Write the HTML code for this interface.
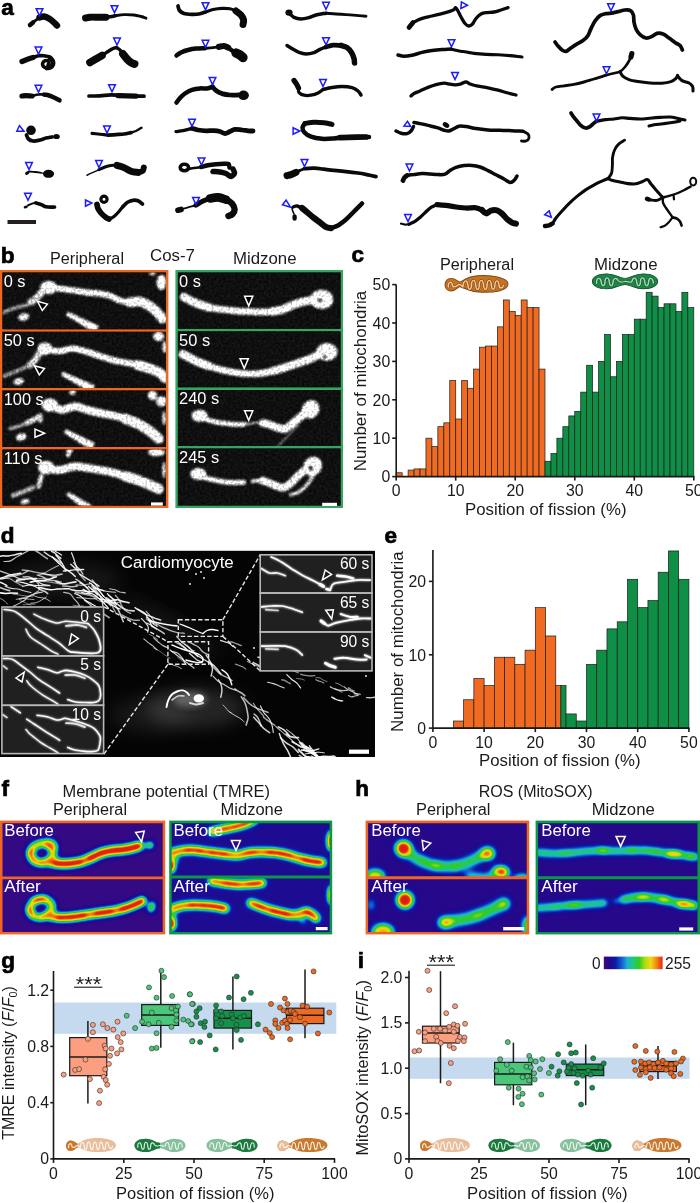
<!DOCTYPE html>
<html lang="en"><head><meta charset="utf-8"><title>Mitochondrial fission positions</title>
<style>
html,body{margin:0;padding:0;background:#fff;}
body{width:700px;height:1203px;overflow:hidden;font-family:"Liberation Sans",Arial,Helvetica,sans-serif;}
svg{display:block;}
svg text{font-family:"Liberation Sans",Arial,Helvetica,sans-serif;}
</style></head><body>
<svg width="700" height="1203" viewBox="0 0 700 1203">
<rect width="700" height="1203" fill="#fff"/>

<g id="panel-a">
<text x="1.2" y="14.5" font-size="22.5" text-anchor="start" fill="#000" font-weight="bold" stroke="#000" stroke-width="0.7">a</text>
<path d="M29.5,25.0 C30.2,24.4 32.3,22.8 34.0,21.5 C35.7,20.2 38.6,18.2 39.5,17.5" fill="none" stroke="#0a0a0a" stroke-width="2.86" stroke-linecap="round" stroke-linejoin="round" />
<path d="M39.5,17.5 C40.2,17.3 42.4,16.3 44.0,16.5 C45.6,16.7 47.3,17.5 49.0,18.5 C50.7,19.5 52.7,21.3 54.0,22.5 C55.3,23.7 56.5,25.0 57.0,25.5" fill="none" stroke="#0a0a0a" stroke-width="6.44" stroke-linecap="round" stroke-linejoin="round" />
<path d="M30.0,25.0 L33.0,22.5" fill="none" stroke="#0a0a0a" stroke-width="4.52" stroke-linecap="round" stroke-linejoin="round" />
<polygon points="-3.35,-3.55 3.35,-3.55 0,3.55" transform="translate(39.5,12.2) rotate(0)" fill="none" stroke="#1a1aff" stroke-width="1.5" stroke-linejoin="miter"/>
<path d="M22.0,61.5 C22.8,61.2 25.2,60.2 27.0,59.5 C28.8,58.8 32.0,57.8 33.0,57.5" fill="none" stroke="#0a0a0a" stroke-width="5.24" stroke-linecap="round" stroke-linejoin="round" />
<path d="M33.0,57.5 C33.9,57.2 36.7,56.1 38.5,55.8 C40.3,55.5 42.2,55.6 44.0,55.8 C45.8,56.0 48.0,56.0 49.5,56.8 C51.0,57.6 52.5,59.0 53.0,60.5 C53.5,62.0 53.3,64.2 52.5,65.5 C51.7,66.8 49.5,67.8 48.0,68.0 C46.5,68.2 44.3,67.4 43.5,66.5 C42.7,65.6 42.5,63.5 43.0,62.5 C43.5,61.5 45.5,60.5 46.5,60.5 C47.5,60.5 48.8,61.8 49.0,62.5 C49.2,63.2 48.2,64.6 48.0,65.0" fill="none" stroke="#0a0a0a" stroke-width="3.52" stroke-linecap="round" stroke-linejoin="round" />
<path d="M50.0,58.0 C50.5,58.7 52.8,60.6 53.0,62.0 C53.2,63.4 52.5,65.5 51.5,66.5 C50.5,67.5 47.8,67.8 47.0,68.0" fill="none" stroke="#0a0a0a" stroke-width="4.76" stroke-linecap="round" stroke-linejoin="round" />
<polygon points="-3.35,-3.55 3.35,-3.55 0,3.55" transform="translate(38.5,50.5) rotate(0)" fill="none" stroke="#1a1aff" stroke-width="1.5" stroke-linejoin="miter"/>
<path d="M22.0,96.0 C22.7,96.0 24.3,95.7 26.0,95.7 C27.7,95.7 31.0,96.0 32.0,96.0" fill="none" stroke="#0a0a0a" stroke-width="5.24" stroke-linecap="round" stroke-linejoin="round" />
<path d="M32.0,96.0 C33.1,95.8 36.5,94.7 38.5,94.5 C40.5,94.3 43.1,94.6 44.0,94.6" fill="none" stroke="#0a0a0a" stroke-width="2.64" stroke-linecap="round" stroke-linejoin="round" />
<path d="M44.0,94.6 C44.8,94.8 47.3,95.0 49.0,95.5 C50.7,96.0 52.2,96.7 54.0,97.5 C55.8,98.3 58.6,99.8 59.5,100.3" fill="none" stroke="#0a0a0a" stroke-width="4.52" stroke-linecap="round" stroke-linejoin="round" />
<polygon points="-3.35,-3.55 3.35,-3.55 0,3.55" transform="translate(38.5,88.8) rotate(0)" fill="none" stroke="#1a1aff" stroke-width="1.5" stroke-linejoin="miter"/>
<circle cx="31" cy="130.3" r="4.8" fill="#0a0a0a"/>
<path d="M26.5,135.0 C26.8,135.7 27.4,138.0 28.5,139.0 C29.6,140.0 31.1,140.8 33.0,141.0 C34.9,141.2 37.8,140.5 40.0,140.0 C42.2,139.5 44.0,138.5 46.0,138.0 C48.0,137.5 51.0,137.2 52.0,137.0" fill="none" stroke="#0a0a0a" stroke-width="3.74" stroke-linecap="round" stroke-linejoin="round" />
<ellipse cx="56.5" cy="136.5" rx="3.3" ry="2.6" fill="#0a0a0a"/>
<polygon points="16.8,131.2 19.4,125.6 24.0,131.3" fill="none" stroke="#1a1aff" stroke-width="1.5"/>
<path d="M26.5,173.5 L28.0,172.5" fill="none" stroke="#0a0a0a" stroke-width="2.86" stroke-linecap="round" stroke-linejoin="round" />
<path d="M29.0,171.5 C30.0,171.6 32.8,171.8 35.0,172.0 C37.2,172.2 40.8,172.8 42.0,173.0" fill="none" stroke="#0a0a0a" stroke-width="1.76" stroke-linecap="round" stroke-linejoin="round" />
<ellipse cx="48.5" cy="173.8" rx="5.6" ry="4" fill="#0a0a0a"/>
<polygon points="-3.35,-3.55 3.35,-3.55 0,3.55" transform="translate(29.0,166.0) rotate(0)" fill="none" stroke="#1a1aff" stroke-width="1.5" stroke-linejoin="miter"/>
<path d="M25.0,207.2 L26.5,206.8" fill="none" stroke="#0a0a0a" stroke-width="2.64" stroke-linecap="round" stroke-linejoin="round" />
<path d="M28.0,205.5 C28.7,205.2 30.7,204.0 32.0,203.6 C33.3,203.2 35.3,203.1 36.0,203.0" fill="none" stroke="#0a0a0a" stroke-width="1.98" stroke-linecap="round" stroke-linejoin="round" />
<path d="M36.0,203.0 C36.8,203.2 39.3,203.9 41.0,204.5 C42.7,205.1 44.3,206.4 46.0,206.8 C47.7,207.2 49.6,207.2 51.0,207.2 C52.4,207.2 53.9,207.0 54.5,207.0" fill="none" stroke="#0a0a0a" stroke-width="3.74" stroke-linecap="round" stroke-linejoin="round" />
<polygon points="-3.35,-3.55 3.35,-3.55 0,3.55" transform="translate(28.0,196.8) rotate(0)" fill="none" stroke="#1a1aff" stroke-width="1.5" stroke-linejoin="miter"/>
<path d="M85.5,18.0 C86.2,17.9 87.9,17.3 90.0,17.2 C92.1,17.1 95.3,17.2 98.0,17.2 C100.7,17.2 104.7,17.2 106.0,17.2" fill="none" stroke="#0a0a0a" stroke-width="6.92" stroke-linecap="round" stroke-linejoin="round" />
<path d="M104.0,17.3 C105.0,17.2 108.2,17.1 110.0,16.8 C111.8,16.6 114.2,16.0 115.0,15.8" fill="none" stroke="#0a0a0a" stroke-width="3.52" stroke-linecap="round" stroke-linejoin="round" />
<path d="M115.0,15.8 C116.5,15.6 120.8,14.7 124.0,14.6 C127.2,14.5 131.2,14.7 134.0,15.0 C136.8,15.3 139.0,16.0 141.0,16.5 C143.0,17.0 145.2,17.9 146.0,18.2" fill="none" stroke="#0a0a0a" stroke-width="2.86" stroke-linecap="round" stroke-linejoin="round" />
<polygon points="-3.35,-3.55 3.35,-3.55 0,3.55" transform="translate(114.5,9.2) rotate(0)" fill="none" stroke="#1a1aff" stroke-width="1.5" stroke-linejoin="miter"/>
<path d="M90.0,62.5 C90.8,62.0 93.0,60.7 95.0,59.5 C97.0,58.3 100.8,56.2 102.0,55.5" fill="none" stroke="#0a0a0a" stroke-width="7.64" stroke-linecap="round" stroke-linejoin="round" />
<path d="M102.0,55.5 C103.0,54.8 106.2,52.7 108.0,51.5 C109.8,50.3 111.6,49.2 113.0,48.5 C114.4,47.8 115.9,47.7 116.5,47.5" fill="none" stroke="#0a0a0a" stroke-width="3.52" stroke-linecap="round" stroke-linejoin="round" />
<path d="M116.5,47.5 C117.1,47.9 118.9,48.9 120.0,50.0 C121.1,51.1 122.5,53.3 123.0,54.0" fill="none" stroke="#0a0a0a" stroke-width="3.3" stroke-linecap="round" stroke-linejoin="round" />
<path d="M123.0,54.0 C123.7,54.8 125.7,57.6 127.0,59.0 C128.3,60.4 129.8,61.7 131.0,62.5 C132.2,63.3 133.9,63.8 134.5,64.0" fill="none" stroke="#0a0a0a" stroke-width="7.88" stroke-linecap="round" stroke-linejoin="round" />
<polygon points="-3.35,-3.55 3.35,-3.55 0,3.55" transform="translate(117.0,41.5) rotate(0)" fill="none" stroke="#1a1aff" stroke-width="1.5" stroke-linejoin="miter"/>
<path d="M89.0,96.0 C90.8,96.0 96.3,96.0 100.0,95.8 C103.7,95.6 107.3,94.8 111.0,94.8 C114.7,94.8 118.2,95.4 122.0,95.6 C125.8,95.8 130.3,96.1 134.0,96.2 C137.7,96.3 142.3,96.2 144.0,96.2" fill="none" stroke="#0a0a0a" stroke-width="3.74" stroke-linecap="round" stroke-linejoin="round" />
<path d="M118.0,95.6 L136.0,96.2" fill="none" stroke="#0a0a0a" stroke-width="5.24" stroke-linecap="round" stroke-linejoin="round" />
<polygon points="-3.35,-3.55 3.35,-3.55 0,3.55" transform="translate(112.0,88.3) rotate(0)" fill="none" stroke="#1a1aff" stroke-width="1.5" stroke-linejoin="miter"/>
<path d="M92.0,133.4 C93.0,133.5 96.0,133.8 98.0,134.0 C100.0,134.2 102.3,134.4 104.0,134.6 C105.7,134.8 107.3,135.1 108.0,135.2" fill="none" stroke="#0a0a0a" stroke-width="3.08" stroke-linecap="round" stroke-linejoin="round" />
<path d="M108.0,135.2 C109.3,135.1 113.3,134.8 116.0,134.6 C118.7,134.4 121.5,134.3 124.0,134.0 C126.5,133.7 129.8,132.8 131.0,132.6" fill="none" stroke="#0a0a0a" stroke-width="3.74" stroke-linecap="round" stroke-linejoin="round" />
<path d="M131.0,132.6 C131.8,132.3 134.2,131.8 136.0,131.0 C137.8,130.2 140.6,128.3 141.5,127.8" fill="none" stroke="#0a0a0a" stroke-width="2.42" stroke-linecap="round" stroke-linejoin="round" />
<polygon points="-3.35,-3.55 3.35,-3.55 0,3.55" transform="translate(107.0,129.5) rotate(0)" fill="none" stroke="#1a1aff" stroke-width="1.5" stroke-linejoin="miter"/>
<path d="M87.0,175.2 C88.0,174.7 91.0,173.3 93.0,172.4 C95.0,171.5 98.0,170.1 99.0,169.6" fill="none" stroke="#0a0a0a" stroke-width="1.54" stroke-linecap="round" stroke-linejoin="round" />
<path d="M99.0,169.6 C100.0,169.2 103.0,167.7 105.0,167.0 C107.0,166.3 109.0,165.7 111.0,165.4 C113.0,165.1 116.0,165.4 117.0,165.4" fill="none" stroke="#0a0a0a" stroke-width="3.08" stroke-linecap="round" stroke-linejoin="round" />
<path d="M117.0,165.4 C118.2,165.8 121.7,166.6 124.0,167.6 C126.3,168.6 128.7,170.4 131.0,171.2 C133.3,172.0 136.8,172.2 138.0,172.4" fill="none" stroke="#0a0a0a" stroke-width="6.92" stroke-linecap="round" stroke-linejoin="round" />
<path d="M138.0,172.4 C138.8,172.2 141.5,171.8 142.5,171.0 C143.5,170.2 143.6,168.1 143.8,167.5" fill="none" stroke="#0a0a0a" stroke-width="5.96" stroke-linecap="round" stroke-linejoin="round" />
<polygon points="-3.35,-3.55 3.35,-3.55 0,3.55" transform="translate(99.0,164.0) rotate(0)" fill="none" stroke="#1a1aff" stroke-width="1.5" stroke-linejoin="miter"/>
<circle cx="104" cy="199.3" r="3.1" fill="none" stroke="#0a0a0a" stroke-width="3.2"/>
<path d="M97.0,204.5 C97.2,205.2 97.3,207.1 98.0,208.5 C98.7,209.9 99.7,211.5 101.0,213.0 C102.3,214.5 104.7,216.5 106.0,217.5 C107.3,218.5 108.5,218.8 109.0,219.0" fill="none" stroke="#0a0a0a" stroke-width="5.72" stroke-linecap="round" stroke-linejoin="round" />
<path d="M109.0,219.0 C109.8,218.6 112.3,217.8 114.0,216.5 C115.7,215.2 117.5,213.2 119.0,211.5 C120.5,209.8 122.3,207.3 123.0,206.5" fill="none" stroke="#0a0a0a" stroke-width="3.3" stroke-linecap="round" stroke-linejoin="round" />
<path d="M123.0,206.5 C123.8,205.8 126.3,203.0 128.0,202.0 C129.7,201.0 131.3,200.5 133.0,200.3 C134.7,200.1 136.4,200.2 138.0,200.8 C139.6,201.4 141.8,203.5 142.5,204.0" fill="none" stroke="#0a0a0a" stroke-width="3.74" stroke-linecap="round" stroke-linejoin="round" />
<polygon points="85.5,200.0 85.5,206.2 91.9,203.0" fill="none" stroke="#1a1aff" stroke-width="1.5"/>
<rect x="7.5" y="220" width="28.5" height="4" fill="#231f20"/>
<path d="M178.0,6.0 C178.2,6.8 178.5,9.2 179.5,10.5 C180.5,11.8 181.9,12.8 184.0,13.5 C186.1,14.2 189.5,14.3 192.0,14.4 C194.5,14.5 196.8,14.4 199.0,14.0 C201.2,13.6 204.4,12.3 205.5,12.0" fill="none" stroke="#0a0a0a" stroke-width="3.74" stroke-linecap="round" stroke-linejoin="round" />
<path d="M205.5,12.0 C206.8,11.6 210.2,10.2 213.0,9.6 C215.8,9.0 219.2,8.5 222.0,8.4 C224.8,8.3 227.7,8.4 230.0,8.8 C232.3,9.2 235.0,10.6 236.0,11.0" fill="none" stroke="#0a0a0a" stroke-width="3.08" stroke-linecap="round" stroke-linejoin="round" />
<path d="M236.0,11.0 C236.8,11.7 239.7,13.5 241.0,15.0 C242.3,16.5 243.3,18.4 243.6,20.0 C243.9,21.6 243.1,23.8 243.0,24.5" fill="none" stroke="#0a0a0a" stroke-width="6.92" stroke-linecap="round" stroke-linejoin="round" />
<polygon points="-3.35,-3.55 3.35,-3.55 0,3.55" transform="translate(205.5,6.2) rotate(0)" fill="none" stroke="#1a1aff" stroke-width="1.5" stroke-linejoin="miter"/>
<path d="M176.5,55.5 C177.2,55.0 179.1,53.4 181.0,52.5 C182.9,51.6 185.5,50.6 188.0,50.0 C190.5,49.4 193.2,48.9 196.0,48.6 C198.8,48.3 203.5,48.3 205.0,48.2" fill="none" stroke="#0a0a0a" stroke-width="4.52" stroke-linecap="round" stroke-linejoin="round" />
<path d="M205.0,48.2 C206.3,48.1 210.7,47.8 213.0,47.6 C215.3,47.4 218.0,46.9 219.0,46.8" fill="none" stroke="#0a0a0a" stroke-width="2.86" stroke-linecap="round" stroke-linejoin="round" />
<path d="M219.0,46.8 C219.8,46.7 222.5,45.9 224.0,46.0 C225.5,46.1 227.3,47.2 228.0,47.5" fill="none" stroke="#0a0a0a" stroke-width="6.2" stroke-linecap="round" stroke-linejoin="round" />
<path d="M228.0,47.5 C228.7,48.0 230.7,49.6 232.0,50.5 C233.3,51.4 235.3,52.6 236.0,53.0" fill="none" stroke="#0a0a0a" stroke-width="4.52" stroke-linecap="round" stroke-linejoin="round" />
<path d="M236.0,53.0 C236.7,53.3 238.8,54.2 240.0,55.0 C241.2,55.8 242.5,57.1 243.0,57.5" fill="none" stroke="#0a0a0a" stroke-width="9.32" stroke-linecap="round" stroke-linejoin="round" />
<polygon points="-3.35,-3.55 3.35,-3.55 0,3.55" transform="translate(205.5,43.8) rotate(0)" fill="none" stroke="#1a1aff" stroke-width="1.5" stroke-linejoin="miter"/>
<path d="M176.5,102.5 C177.1,101.8 178.6,99.5 180.0,98.0 C181.4,96.5 183.0,94.9 185.0,93.5 C187.0,92.1 189.5,90.6 192.0,89.8 C194.5,89.0 197.5,88.6 200.0,88.4 C202.5,88.2 204.9,88.7 207.0,88.4 C209.1,88.1 211.6,87.1 212.5,86.8" fill="none" stroke="#0a0a0a" stroke-width="4.52" stroke-linecap="round" stroke-linejoin="round" />
<path d="M212.5,86.8 C213.1,87.4 214.4,89.4 216.0,90.5 C217.6,91.6 219.7,92.8 222.0,93.6 C224.3,94.3 227.3,94.8 230.0,95.0 C232.7,95.2 236.7,95.0 238.0,95.0" fill="none" stroke="#0a0a0a" stroke-width="4.76" stroke-linecap="round" stroke-linejoin="round" />
<ellipse cx="243.5" cy="95.3" rx="5.4" ry="4.8" fill="#0a0a0a"/>
<polygon points="-3.35,-3.55 3.35,-3.55 0,3.55" transform="translate(212.5,81.0) rotate(0)" fill="none" stroke="#1a1aff" stroke-width="1.5" stroke-linejoin="miter"/>
<path d="M176.0,131.6 C177.2,131.4 181.0,131.0 183.0,130.6 C185.0,130.2 186.5,129.8 188.0,129.4 C189.5,129.0 191.3,128.6 192.0,128.4" fill="none" stroke="#0a0a0a" stroke-width="3.3" stroke-linecap="round" stroke-linejoin="round" />
<path d="M192.0,128.4 C193.0,128.7 195.7,129.6 198.0,130.0 C200.3,130.4 203.3,130.7 206.0,130.8 C208.7,130.9 211.7,130.5 214.0,130.6 C216.3,130.7 218.2,131.0 220.0,131.5 C221.8,132.0 223.3,133.5 225.0,133.5 C226.7,133.5 228.3,132.2 230.0,131.5 C231.7,130.8 233.0,129.7 235.0,129.4 C237.0,129.2 239.8,129.8 242.0,130.0 C244.2,130.2 246.2,130.6 248.0,130.8 C249.8,131.0 252.2,131.0 253.0,131.0" fill="none" stroke="#0a0a0a" stroke-width="4.76" stroke-linecap="round" stroke-linejoin="round" />
<polygon points="-3.35,-3.55 3.35,-3.55 0,3.55" transform="translate(192.0,122.8) rotate(0)" fill="none" stroke="#1a1aff" stroke-width="1.5" stroke-linejoin="miter"/>
<ellipse cx="184.4" cy="167.5" rx="4.2" ry="3.2" fill="none" stroke="#0a0a0a" stroke-width="3.6"/>
<path d="M188.0,168.8 C189.0,168.7 191.8,168.3 194.0,168.0 C196.2,167.7 199.8,167.2 201.0,167.0" fill="none" stroke="#0a0a0a" stroke-width="2.64" stroke-linecap="round" stroke-linejoin="round" />
<path d="M201.0,167.0 C202.2,166.7 205.5,165.7 208.0,165.2 C210.5,164.7 213.3,164.4 216.0,164.2 C218.7,164.0 221.9,163.8 224.0,163.8 C226.1,163.8 227.6,163.4 228.5,164.0 C229.4,164.6 229.3,166.9 229.5,167.5" fill="none" stroke="#0a0a0a" stroke-width="4.52" stroke-linecap="round" stroke-linejoin="round" />
<path d="M213.0,171.5 C214.2,171.6 217.8,171.7 220.0,172.0 C222.2,172.3 224.2,172.8 226.0,173.5 C227.8,174.2 229.6,176.6 231.0,176.5 C232.4,176.4 234.2,174.2 234.5,173.0 C234.8,171.8 233.2,169.7 233.0,169.0" fill="none" stroke="#0a0a0a" stroke-width="5.48" stroke-linecap="round" stroke-linejoin="round" />
<polygon points="-3.35,-3.55 3.35,-3.55 0,3.55" transform="translate(201.5,161.5) rotate(0)" fill="none" stroke="#1a1aff" stroke-width="1.5" stroke-linejoin="miter"/>
<path d="M178.0,210.2 L181.0,209.4" fill="none" stroke="#0a0a0a" stroke-width="5.72" stroke-linecap="round" stroke-linejoin="round" />
<path d="M181.0,209.4 C182.2,209.1 185.5,208.1 188.0,207.4 C190.5,206.7 194.7,205.6 196.0,205.2" fill="none" stroke="#0a0a0a" stroke-width="1.98" stroke-linecap="round" stroke-linejoin="round" />
<path d="M196.0,205.2 C197.2,204.5 200.7,202.1 203.0,201.0 C205.3,199.9 208.8,198.8 210.0,198.4" fill="none" stroke="#0a0a0a" stroke-width="5.0" stroke-linecap="round" stroke-linejoin="round" />
<path d="M210.0,198.4 C211.3,198.2 215.3,197.2 218.0,197.4 C220.7,197.6 224.7,199.2 226.0,199.6" fill="none" stroke="#0a0a0a" stroke-width="8.6" stroke-linecap="round" stroke-linejoin="round" />
<path d="M226.0,199.6 C227.0,200.2 230.6,201.8 232.0,203.5 C233.4,205.2 234.5,207.8 234.6,209.5 C234.7,211.2 233.5,212.9 232.5,214.0 C231.5,215.1 229.2,215.7 228.5,216.0" fill="none" stroke="#0a0a0a" stroke-width="6.44" stroke-linecap="round" stroke-linejoin="round" />
<polygon points="-3.35,-3.55 3.35,-3.55 0,3.55" transform="translate(196.0,201.0) rotate(0)" fill="none" stroke="#1a1aff" stroke-width="1.5" stroke-linejoin="miter"/>
<ellipse cx="289" cy="12.6" rx="3.6" ry="3.2" fill="#0a0a0a"/>
<path d="M289.0,13.0 C289.8,13.7 292.0,16.4 294.0,17.4 C296.0,18.4 298.5,19.0 301.0,19.0 C303.5,19.0 306.3,18.3 309.0,17.6 C311.7,16.9 314.2,15.5 317.0,14.8 C319.8,14.1 324.5,13.5 326.0,13.2" fill="none" stroke="#0a0a0a" stroke-width="3.52" stroke-linecap="round" stroke-linejoin="round" />
<path d="M326.0,13.2 C327.7,13.3 332.7,13.8 336.0,14.0 C339.3,14.2 342.7,14.4 346.0,14.6 C349.3,14.8 352.7,15.1 356.0,15.4 C359.3,15.7 364.3,16.1 366.0,16.2" fill="none" stroke="#0a0a0a" stroke-width="2.86" stroke-linecap="round" stroke-linejoin="round" />
<polygon points="-3.35,-3.55 3.35,-3.55 0,3.55" transform="translate(326.0,5.8) rotate(0)" fill="none" stroke="#1a1aff" stroke-width="1.5" stroke-linejoin="miter"/>
<path d="M287.0,45.5 C287.8,46.0 290.0,47.5 292.0,48.6 C294.0,49.8 296.7,51.5 299.0,52.4 C301.3,53.3 303.5,54.0 306.0,54.0 C308.5,54.0 311.7,53.4 314.0,52.6 C316.3,51.8 318.0,50.3 320.0,49.4 C322.0,48.5 325.0,47.4 326.0,47.0" fill="none" stroke="#0a0a0a" stroke-width="3.52" stroke-linecap="round" stroke-linejoin="round" />
<path d="M326.0,47.0 C327.2,46.7 330.5,45.5 333.0,45.2 C335.5,44.9 339.7,45.4 341.0,45.4" fill="none" stroke="#0a0a0a" stroke-width="4.76" stroke-linecap="round" stroke-linejoin="round" />
<path d="M341.0,45.4 C342.0,45.8 345.2,46.3 347.0,47.5 C348.8,48.7 350.3,50.7 351.5,52.5 C352.7,54.3 353.5,56.8 354.0,58.5 C354.5,60.2 354.4,62.2 354.5,63.0" fill="none" stroke="#0a0a0a" stroke-width="5.48" stroke-linecap="round" stroke-linejoin="round" />
<polygon points="-3.35,-3.55 3.35,-3.55 0,3.55" transform="translate(326.0,41.3) rotate(0)" fill="none" stroke="#1a1aff" stroke-width="1.5" stroke-linejoin="miter"/>
<path d="M294.0,80.5 C294.4,81.1 295.8,82.8 296.5,84.0 C297.2,85.2 298.2,87.3 298.5,88.0" fill="none" stroke="#0a0a0a" stroke-width="5.24" stroke-linecap="round" stroke-linejoin="round" />
<path d="M298.5,88.0 C298.6,88.8 298.1,91.3 299.0,92.5 C299.9,93.7 302.0,94.8 304.0,95.2 C306.0,95.7 308.7,95.6 311.0,95.2 C313.3,94.8 316.0,94.0 318.0,93.0 C320.0,92.0 322.2,90.1 323.0,89.5" fill="none" stroke="#0a0a0a" stroke-width="3.3" stroke-linecap="round" stroke-linejoin="round" />
<path d="M323.0,89.5 C324.5,89.2 328.8,88.1 332.0,87.6 C335.2,87.1 338.7,86.6 342.0,86.6 C345.3,86.6 349.3,86.9 352.0,87.6 C354.7,88.3 356.5,89.8 358.0,91.0 C359.5,92.2 360.5,94.3 361.0,95.0" fill="none" stroke="#0a0a0a" stroke-width="3.52" stroke-linecap="round" stroke-linejoin="round" />
<polygon points="-3.35,-3.55 3.35,-3.55 0,3.55" transform="translate(323.0,83.0) rotate(0)" fill="none" stroke="#1a1aff" stroke-width="1.5" stroke-linejoin="miter"/>
<path d="M305.0,123.4 C306.5,123.2 310.8,122.3 314.0,122.2 C317.2,122.1 321.0,122.4 324.0,122.8 C327.0,123.2 330.7,124.1 332.0,124.4" fill="none" stroke="#0a0a0a" stroke-width="5.0" stroke-linecap="round" stroke-linejoin="round" />
<path d="M305.0,123.4 C304.6,124.1 302.6,126.0 302.5,127.5 C302.4,129.0 303.1,131.0 304.5,132.5 C305.9,134.0 308.1,135.5 311.0,136.6 C313.9,137.7 318.2,138.5 322.0,138.8 C325.8,139.1 330.0,138.7 334.0,138.4 C338.0,138.1 342.0,137.5 346.0,137.2 C350.0,136.9 354.2,136.8 358.0,136.8 C361.8,136.8 367.2,137.0 369.0,137.0" fill="none" stroke="#0a0a0a" stroke-width="4.52" stroke-linecap="round" stroke-linejoin="round" />
<path d="M340.0,137.6 L366.0,137.0" fill="none" stroke="#0a0a0a" stroke-width="5.72" stroke-linecap="round" stroke-linejoin="round" />
<polygon points="293.1,127.8 293.1,134.2 299.8,131.0" fill="none" stroke="#1a1aff" stroke-width="1.5"/>
<path d="M287.0,175.6 C287.7,175.4 289.5,175.1 291.0,174.6 C292.5,174.1 295.2,172.8 296.0,172.4" fill="none" stroke="#0a0a0a" stroke-width="6.92" stroke-linecap="round" stroke-linejoin="round" />
<path d="M296.0,172.4 C296.7,172.1 298.6,171.0 300.0,170.4 C301.4,169.8 303.8,168.9 304.5,168.6" fill="none" stroke="#0a0a0a" stroke-width="2.86" stroke-linecap="round" stroke-linejoin="round" />
<path d="M304.5,168.6 C306.1,168.5 310.8,168.1 314.0,168.2 C317.2,168.3 320.7,168.8 324.0,169.2 C327.3,169.6 330.3,170.0 334.0,170.4 C337.7,170.8 342.0,171.2 346.0,171.6 C350.0,172.0 354.3,172.5 358.0,173.0 C361.7,173.5 365.0,174.2 368.0,174.8 C371.0,175.4 374.7,176.3 376.0,176.6" fill="none" stroke="#0a0a0a" stroke-width="3.74" stroke-linecap="round" stroke-linejoin="round" />
<polygon points="-3.35,-3.55 3.35,-3.55 0,3.55" transform="translate(304.5,163.0) rotate(0)" fill="none" stroke="#1a1aff" stroke-width="1.5" stroke-linejoin="miter"/>
<ellipse cx="294.6" cy="217.5" rx="2.2" ry="3.2" fill="#0a0a0a"/>
<path d="M294.0,214.0 C293.8,213.4 292.8,211.6 292.5,210.5 C292.2,209.4 292.1,208.0 292.0,207.5" fill="none" stroke="#0a0a0a" stroke-width="1.54" stroke-linecap="round" stroke-linejoin="round" />
<path d="M293.0,207.0 C293.7,206.8 295.5,205.8 297.0,206.0 C298.5,206.2 301.2,207.7 302.0,208.0" fill="none" stroke="#0a0a0a" stroke-width="3.3" stroke-linecap="round" stroke-linejoin="round" />
<path d="M302.0,208.0 C303.0,208.8 306.0,211.3 308.0,213.0 C310.0,214.7 312.0,216.4 314.0,218.0 C316.0,219.6 318.0,221.0 320.0,222.5 C322.0,224.0 324.2,226.1 326.0,227.0 C327.8,227.9 330.2,228.0 331.0,228.2" fill="none" stroke="#0a0a0a" stroke-width="6.2" stroke-linecap="round" stroke-linejoin="round" />
<path d="M331.0,228.2 C332.2,227.8 335.5,226.9 338.0,225.5 C340.5,224.1 343.3,221.8 346.0,219.5 C348.7,217.2 351.3,214.2 354.0,211.5 C356.7,208.8 360.7,204.8 362.0,203.5" fill="none" stroke="#0a0a0a" stroke-width="4.52" stroke-linecap="round" stroke-linejoin="round" />
<polygon points="282.6,204.8 286.1,200.0 290.5,207.2" fill="none" stroke="#1a1aff" stroke-width="1.5"/>
<path d="M409.0,27.5 C409.5,26.8 410.5,24.8 412.0,23.5 C413.5,22.2 416.0,20.9 418.0,20.0 C420.0,19.1 421.7,18.5 424.0,17.8 C426.3,17.1 429.2,16.7 432.0,16.0 C434.8,15.3 438.2,14.5 441.0,13.8 C443.8,13.1 446.8,12.3 449.0,11.6 C451.2,10.9 452.9,10.3 454.0,9.6 C455.1,8.9 454.8,7.4 455.5,7.6 C456.2,7.8 457.1,9.4 458.0,11.0 C458.9,12.6 459.8,14.9 461.0,17.0 C462.2,19.1 463.7,22.0 465.0,23.5 C466.3,25.0 467.8,25.9 469.0,26.0 C470.2,26.1 471.3,25.2 472.5,24.0 C473.7,22.8 474.6,20.2 476.0,18.5 C477.4,16.8 479.2,15.0 481.0,14.0 C482.8,13.0 484.8,12.9 487.0,12.6 C489.2,12.3 491.7,12.4 494.0,12.0 C496.3,11.6 498.7,10.7 501.0,10.0 C503.3,9.3 506.8,8.0 508.0,7.6" fill="none" stroke="#0a0a0a" stroke-width="3.3" stroke-linecap="round" stroke-linejoin="round" />
<path d="M409.0,27.5 L413.0,22.5" fill="none" stroke="#0a0a0a" stroke-width="4.76" stroke-linecap="round" stroke-linejoin="round" />
<polygon points="461.4,1.9 460.9,8.4 467.5,5.3" fill="none" stroke="#1a1aff" stroke-width="1.5"/>
<path d="M398.0,55.0 C399.0,55.2 401.7,56.2 404.0,56.2 C406.3,56.2 409.0,55.8 412.0,55.2 C415.0,54.6 418.7,53.2 422.0,52.4 C425.3,51.6 428.7,50.9 432.0,50.4 C435.3,49.9 438.8,49.6 442.0,49.4 C445.2,49.2 449.5,49.1 451.0,49.0" fill="none" stroke="#0a0a0a" stroke-width="3.52" stroke-linecap="round" stroke-linejoin="round" />
<path d="M451.0,49.0 C452.8,49.4 458.2,50.7 462.0,51.4 C465.8,52.1 470.0,52.9 474.0,53.4 C478.0,53.9 482.0,54.2 486.0,54.4 C490.0,54.6 494.0,54.6 498.0,54.8 C502.0,55.0 506.0,55.2 510.0,55.6 C514.0,56.0 520.0,56.8 522.0,57.0" fill="none" stroke="#0a0a0a" stroke-width="3.08" stroke-linecap="round" stroke-linejoin="round" />
<polygon points="-3.35,-3.55 3.35,-3.55 0,3.55" transform="translate(451.5,43.3) rotate(0)" fill="none" stroke="#1a1aff" stroke-width="1.5" stroke-linejoin="miter"/>
<path d="M411.0,96.0 C411.5,95.6 412.5,94.3 414.0,93.5 C415.5,92.7 417.7,92.0 420.0,91.0 C422.3,90.0 425.3,88.5 428.0,87.4 C430.7,86.3 433.3,85.3 436.0,84.6 C438.7,83.9 441.7,83.3 444.0,83.2 C446.3,83.1 448.2,83.9 450.0,84.2 C451.8,84.5 453.2,84.9 455.0,84.8 C456.8,84.7 459.2,84.3 461.0,83.8 C462.8,83.3 464.5,81.8 466.0,81.8 C467.5,81.8 468.0,83.3 470.0,84.0 C472.0,84.7 475.0,85.6 478.0,86.2 C481.0,86.8 484.7,87.1 488.0,87.8 C491.3,88.5 494.7,89.3 498.0,90.2 C501.3,91.1 505.0,92.2 508.0,93.0 C511.0,93.8 514.7,94.7 516.0,95.0" fill="none" stroke="#0a0a0a" stroke-width="3.3" stroke-linecap="round" stroke-linejoin="round" />
<polygon points="-3.35,-3.55 3.35,-3.55 0,3.55" transform="translate(455.0,76.0) rotate(0)" fill="none" stroke="#1a1aff" stroke-width="1.5" stroke-linejoin="miter"/>
<path d="M396.0,131.0 C396.8,131.4 399.2,132.8 401.0,133.2 C402.8,133.6 405.3,134.0 407.0,133.6 C408.7,133.2 409.9,132.2 411.0,131.0 C412.1,129.8 413.1,127.2 413.5,126.5" fill="none" stroke="#0a0a0a" stroke-width="3.52" stroke-linecap="round" stroke-linejoin="round" />
<path d="M414.0,122.6 C415.0,122.8 417.7,123.1 420.0,123.6 C422.3,124.1 425.2,124.7 428.0,125.4 C430.8,126.1 434.3,126.8 437.0,127.6 C439.7,128.4 442.0,129.6 444.0,130.2 C446.0,130.8 447.3,131.3 449.0,131.0 C450.7,130.7 452.3,129.4 454.0,128.6 C455.7,127.8 457.0,126.5 459.0,126.2 C461.0,125.9 463.2,126.2 466.0,126.6 C468.8,127.0 472.3,128.0 476.0,128.6 C479.7,129.2 484.0,129.7 488.0,130.0 C492.0,130.3 496.0,130.1 500.0,130.2 C504.0,130.3 508.2,130.6 512.0,130.8 C515.8,131.0 521.2,131.1 523.0,131.2" fill="none" stroke="#0a0a0a" stroke-width="3.52" stroke-linecap="round" stroke-linejoin="round" />
<path d="M523.0,131.2 C523.8,131.7 527.0,132.9 528.0,134.0 C529.0,135.1 529.3,136.8 529.0,138.0 C528.7,139.2 527.2,140.5 526.0,141.0 C524.8,141.5 522.2,141.0 521.5,141.0" fill="none" stroke="#0a0a0a" stroke-width="2.86" stroke-linecap="round" stroke-linejoin="round" />
<ellipse cx="446" cy="125" rx="3.6" ry="2.4" fill="#0a0a0a" transform="rotate(35 446 125)"/>
<polygon points="403.9,126.1 407.5,121.3 410.7,126.5" fill="none" stroke="#1a1aff" stroke-width="1.5"/>
<path d="M403.0,180.5 C403.2,180.0 403.8,178.3 404.5,177.5 C405.2,176.7 406.6,175.8 407.0,175.5" fill="none" stroke="#0a0a0a" stroke-width="4.76" stroke-linecap="round" stroke-linejoin="round" />
<path d="M407.0,175.5 C408.2,175.3 411.5,174.9 414.0,174.6 C416.5,174.2 419.3,173.5 422.0,173.4 C424.7,173.3 427.3,173.8 430.0,174.0 C432.7,174.2 435.5,174.6 438.0,174.6 C440.5,174.6 443.0,174.9 445.0,174.2 C447.0,173.5 448.2,171.6 450.0,170.5 C451.8,169.4 453.7,168.2 456.0,167.4 C458.3,166.6 461.3,165.9 464.0,165.6 C466.7,165.3 469.3,165.2 472.0,165.4 C474.7,165.6 477.3,166.1 480.0,167.0 C482.7,167.9 485.3,169.3 488.0,170.6 C490.7,171.9 493.3,173.4 496.0,174.8 C498.7,176.2 501.7,177.7 504.0,179.0 C506.3,180.3 508.3,182.2 510.0,182.4 C511.7,182.7 512.8,181.6 514.0,180.5 C515.2,179.4 516.5,176.8 517.0,176.0" fill="none" stroke="#0a0a0a" stroke-width="3.52" stroke-linecap="round" stroke-linejoin="round" />
<polygon points="-3.35,-3.55 3.35,-3.55 0,3.55" transform="translate(409.5,167.5) rotate(0)" fill="none" stroke="#1a1aff" stroke-width="1.5" stroke-linejoin="miter"/>
<path d="M401.0,223.6 C401.7,223.8 403.7,224.5 405.0,224.6 C406.3,224.7 408.3,224.3 409.0,224.2" fill="none" stroke="#0a0a0a" stroke-width="2.2" stroke-linecap="round" stroke-linejoin="round" />
<path d="M409.0,224.2 C410.0,223.7 413.2,222.5 415.0,221.4 C416.8,220.3 418.2,219.0 420.0,217.4 C421.8,215.8 424.2,213.5 426.0,211.8 C427.8,210.1 429.2,208.6 431.0,207.4 C432.8,206.2 436.0,205.1 437.0,204.6" fill="none" stroke="#0a0a0a" stroke-width="3.3" stroke-linecap="round" stroke-linejoin="round" />
<path d="M437.0,204.6 C438.5,204.7 442.8,205.0 446.0,205.4 C449.2,205.8 452.7,206.6 456.0,207.0 C459.3,207.4 462.7,207.9 466.0,208.0 C469.3,208.1 473.3,207.5 476.0,207.8 C478.7,208.1 481.0,209.6 482.0,210.0" fill="none" stroke="#0a0a0a" stroke-width="5.24" stroke-linecap="round" stroke-linejoin="round" />
<path d="M482.0,210.0 C482.7,210.6 484.5,213.3 486.0,213.4 C487.5,213.5 489.2,211.1 491.0,210.6 C492.8,210.1 495.2,209.9 497.0,210.4 C498.8,210.9 500.3,212.2 502.0,213.6 C503.7,215.0 505.3,217.5 507.0,219.0 C508.7,220.5 510.5,221.8 512.0,222.6 C513.5,223.4 515.3,223.4 516.0,223.6" fill="none" stroke="#0a0a0a" stroke-width="5.96" stroke-linecap="round" stroke-linejoin="round" />
<polygon points="-3.35,-3.55 3.35,-3.55 0,3.55" transform="translate(408.0,218.0) rotate(0)" fill="none" stroke="#1a1aff" stroke-width="1.5" stroke-linejoin="miter"/>
<path d="M555.0,42.0 C555.5,42.7 556.8,44.7 558.0,46.0 C559.2,47.3 560.7,49.1 562.0,50.0 C563.3,50.9 564.7,51.6 566.0,51.4 C567.3,51.2 568.3,49.7 570.0,48.6 C571.7,47.5 573.8,45.9 576.0,44.6 C578.2,43.3 581.0,42.1 583.0,40.6 C585.0,39.1 586.7,37.4 588.0,35.4 C589.3,33.4 589.8,31.0 591.0,28.6 C592.2,26.2 593.5,23.2 595.0,21.0 C596.5,18.8 598.2,16.8 600.0,15.6 C601.8,14.4 604.2,14.0 606.0,13.6 C607.8,13.2 610.2,13.3 611.0,13.2" fill="none" stroke="#0a0a0a" stroke-width="3.74" stroke-linecap="round" stroke-linejoin="round" />
<path d="M611.0,13.2 C612.2,12.9 615.7,12.1 618.0,11.6 C620.3,11.1 622.9,10.2 625.0,10.0 C627.1,9.8 629.1,9.8 630.5,10.6 C631.9,11.4 632.8,13.1 633.4,15.0 C634.0,16.9 633.6,19.7 634.0,22.0 C634.4,24.3 635.0,26.9 636.0,29.0 C637.0,31.1 638.3,33.1 640.0,34.6 C641.7,36.1 644.0,37.7 646.0,38.0 C648.0,38.3 650.2,37.2 652.0,36.4 C653.8,35.6 655.2,33.8 657.0,33.4 C658.8,33.0 661.0,33.2 663.0,34.0 C665.0,34.8 667.0,36.6 669.0,38.0 C671.0,39.4 673.2,41.1 675.0,42.4 C676.8,43.7 678.8,44.3 680.0,45.6 C681.2,46.9 682.0,49.3 682.4,50.0" fill="none" stroke="#0a0a0a" stroke-width="3.74" stroke-linecap="round" stroke-linejoin="round" />
<polygon points="-3.35,-3.55 3.35,-3.55 0,3.55" transform="translate(611.0,7.3) rotate(0)" fill="none" stroke="#1a1aff" stroke-width="1.5" stroke-linejoin="miter"/>
<path d="M552.0,89.4 C552.7,89.0 554.0,87.6 556.0,87.0 C558.0,86.4 561.0,86.2 564.0,85.8 C567.0,85.4 570.7,85.0 574.0,84.4 C577.3,83.8 580.7,82.9 584.0,82.0 C587.3,81.1 590.3,80.1 594.0,79.0 C597.7,77.9 604.0,75.8 606.0,75.2" fill="none" stroke="#0a0a0a" stroke-width="2.86" stroke-linecap="round" stroke-linejoin="round" />
<path d="M606.0,75.2 C607.3,74.9 611.7,73.8 614.0,73.2 C616.3,72.6 618.2,72.6 620.0,71.6 C621.8,70.6 623.5,68.8 625.0,67.0 C626.5,65.2 628.0,62.8 629.0,61.0 C630.0,59.2 630.7,56.8 631.0,56.0" fill="none" stroke="#0a0a0a" stroke-width="2.64" stroke-linecap="round" stroke-linejoin="round" />
<path d="M631.0,57.0 L631.8,53.6" fill="none" stroke="#0a0a0a" stroke-width="5.24" stroke-linecap="round" stroke-linejoin="round" />
<path d="M620.0,71.6 C620.5,72.4 621.5,75.1 623.0,76.4 C624.5,77.7 626.5,78.7 629.0,79.6 C631.5,80.5 634.5,81.0 638.0,81.6 C641.5,82.2 646.0,82.7 650.0,83.0 C654.0,83.3 658.5,83.4 662.0,83.2 C665.5,83.0 668.7,82.4 671.0,81.6 C673.3,80.8 674.9,79.4 676.0,78.4 C677.1,77.4 677.3,75.9 677.6,75.4" fill="none" stroke="#0a0a0a" stroke-width="3.08" stroke-linecap="round" stroke-linejoin="round" />
<path d="M677.6,76.0 C678.3,76.8 680.1,79.4 682.0,80.6 C683.9,81.8 687.2,82.0 689.0,83.0 C690.8,84.0 691.9,85.3 692.6,86.6 C693.3,87.9 692.9,90.3 693.0,91.0" fill="none" stroke="#0a0a0a" stroke-width="3.08" stroke-linecap="round" stroke-linejoin="round" />
<polygon points="-3.35,-3.55 3.35,-3.55 0,3.55" transform="translate(606.5,70.3) rotate(0)" fill="none" stroke="#1a1aff" stroke-width="1.5" stroke-linejoin="miter"/>
<path d="M571.0,113.0 C571.4,113.6 572.4,115.3 573.4,116.6 C574.4,117.9 575.7,119.5 577.0,121.0 C578.3,122.5 579.6,124.4 581.0,125.6 C582.4,126.8 584.1,127.8 585.6,128.0 C587.1,128.2 588.7,127.4 590.0,126.6 C591.3,125.8 592.5,124.3 593.6,123.4 C594.7,122.5 596.1,121.4 596.6,121.0" fill="none" stroke="#0a0a0a" stroke-width="3.74" stroke-linecap="round" stroke-linejoin="round" />
<path d="M598.0,121.0 C599.3,120.8 603.3,119.9 606.0,119.6 C608.7,119.3 611.3,119.3 614.0,119.0 C616.7,118.7 619.3,117.9 622.0,117.8 C624.7,117.7 627.0,118.2 630.0,118.4 C633.0,118.6 636.7,119.0 640.0,119.0 C643.3,119.0 646.7,118.5 650.0,118.2 C653.3,117.9 656.7,117.6 660.0,117.4 C663.3,117.2 667.0,116.8 670.0,117.0 C673.0,117.2 675.5,117.9 678.0,118.4 C680.5,118.9 683.8,119.7 685.0,120.0" fill="none" stroke="#0a0a0a" stroke-width="3.08" stroke-linecap="round" stroke-linejoin="round" />
<path d="M649.0,126.0 C650.2,125.8 653.5,125.0 656.0,124.6 C658.5,124.2 661.3,123.9 664.0,123.6 C666.7,123.3 669.3,123.0 672.0,122.6 C674.7,122.2 678.7,121.3 680.0,121.0" fill="none" stroke="#0a0a0a" stroke-width="3.08" stroke-linecap="round" stroke-linejoin="round" />
<polygon points="-3.35,-3.55 3.35,-3.55 0,3.55" transform="translate(596.5,117.6) rotate(0)" fill="none" stroke="#1a1aff" stroke-width="1.5" stroke-linejoin="miter"/>
<path d="M545.0,226.0 C545.7,225.9 547.7,225.8 549.0,225.4 C550.3,225.0 552.0,223.7 552.6,223.4" fill="none" stroke="#0a0a0a" stroke-width="4.52" stroke-linecap="round" stroke-linejoin="round" />
<path d="M552.6,223.4 C553.2,222.5 554.4,220.1 556.0,218.0 C557.6,215.9 559.8,213.4 562.0,211.0 C564.2,208.6 566.5,206.0 569.0,203.6 C571.5,201.2 574.2,198.7 577.0,196.4 C579.8,194.1 583.0,191.6 586.0,189.6 C589.0,187.6 592.2,185.9 595.0,184.4 C597.8,182.9 600.8,181.6 603.0,180.6 C605.2,179.6 607.2,178.9 608.0,178.6" fill="none" stroke="#0a0a0a" stroke-width="3.08" stroke-linecap="round" stroke-linejoin="round" />
<path d="M608.0,178.6 C608.6,177.7 610.9,175.3 611.6,173.0 C612.3,170.7 612.2,167.7 612.4,165.0 C612.6,162.3 612.2,159.5 612.6,157.0 C613.0,154.5 613.6,152.1 614.6,150.0 C615.6,147.9 616.7,146.0 618.4,144.4 C620.1,142.8 623.6,140.9 624.6,140.2" fill="none" stroke="#0a0a0a" stroke-width="2.86" stroke-linecap="round" stroke-linejoin="round" />
<path d="M608.0,178.6 C608.8,178.9 611.0,180.0 613.0,180.6 C615.0,181.2 617.5,181.5 620.0,182.0 C622.5,182.5 625.3,183.3 628.0,183.6 C630.7,183.9 633.7,184.1 636.0,183.8 C638.3,183.5 640.1,182.5 642.0,181.8 C643.9,181.1 645.9,179.2 647.4,179.6 C648.9,180.0 649.6,182.3 651.0,184.0 C652.4,185.7 654.4,188.2 656.0,190.0 C657.6,191.8 659.2,193.8 660.4,195.0 C661.6,196.2 662.6,197.0 663.0,197.4" fill="none" stroke="#0a0a0a" stroke-width="3.08" stroke-linecap="round" stroke-linejoin="round" />
<path d="M663.0,197.4 C664.2,197.1 667.5,196.3 670.0,195.6 C672.5,194.9 675.5,194.0 678.0,193.0 C680.5,192.0 682.9,190.7 685.0,189.6 C687.1,188.5 689.7,187.1 690.6,186.6" fill="none" stroke="#0a0a0a" stroke-width="2.42" stroke-linecap="round" stroke-linejoin="round" />
<path d="M663.0,197.4 C662.0,197.9 659.0,200.0 657.0,200.4 C655.0,200.8 652.5,200.2 651.0,200.0 C649.5,199.8 648.5,199.3 648.0,199.2" fill="none" stroke="#0a0a0a" stroke-width="2.86" stroke-linecap="round" stroke-linejoin="round" />
<path d="M648.6,199.4 L647.0,198.8" fill="none" stroke="#0a0a0a" stroke-width="4.52" stroke-linecap="round" stroke-linejoin="round" />
<path d="M663.0,197.4 C663.0,198.3 662.5,200.8 663.0,202.6 C663.5,204.4 664.8,206.2 666.0,208.0 C667.2,209.8 668.9,212.0 670.0,213.6 C671.1,215.2 672.2,216.8 672.6,217.4" fill="none" stroke="#0a0a0a" stroke-width="2.42" stroke-linecap="round" stroke-linejoin="round" />
<path d="M672.6,217.4 C672.0,218.2 670.3,220.6 669.0,222.0 C667.7,223.4 666.4,224.7 665.0,225.6 C663.6,226.5 661.3,226.9 660.6,227.2" fill="none" stroke="#0a0a0a" stroke-width="2.2" stroke-linecap="round" stroke-linejoin="round" />
<path d="M672.6,217.4 C673.3,217.6 675.8,217.9 677.0,218.6 C678.2,219.3 679.2,220.4 680.0,221.6 C680.8,222.8 681.3,224.9 681.6,225.6" fill="none" stroke="#0a0a0a" stroke-width="2.64" stroke-linecap="round" stroke-linejoin="round" />
<path d="M673.6,195.4 L674.0,199.4" fill="none" stroke="#0a0a0a" stroke-width="2.2" stroke-linecap="round" stroke-linejoin="round" />
<ellipse cx="693.2" cy="181.6" rx="3" ry="3.8" fill="none" stroke="#0a0a0a" stroke-width="2"/>
<polygon points="544.6,214.8 549.2,210.9 551.3,217.3" fill="none" stroke="#1a1aff" stroke-width="1.5"/>
</g>
<defs>
<filter id="micro" x="-5%" y="-5%" width="110%" height="110%" color-interpolation-filters="sRGB">
  <feGaussianBlur in="SourceGraphic" stdDeviation="0.8" result="b"/>
  <feTurbulence type="fractalNoise" baseFrequency="0.42" numOctaves="2" seed="4" result="n"/>
  <feColorMatrix in="n" type="matrix" values="1.8 0 0 0 -0.4  1.8 0 0 0 -0.4  1.8 0 0 0 -0.4  0 0 0 0 1" result="ng"/>
  <feComposite in="b" in2="ng" operator="arithmetic" k1="0.55" k2="0.78" k3="0.05" k4="-0.005"/>
</filter>
<filter id="microD" x="-5%" y="-5%" width="110%" height="110%" color-interpolation-filters="sRGB">
  <feGaussianBlur in="SourceGraphic" stdDeviation="0.45"/>
</filter>
<filter id="blur3" x="-20%" y="-20%" width="140%" height="140%"><feGaussianBlur stdDeviation="3"/></filter>
<filter id="blur8" x="-30%" y="-30%" width="160%" height="160%"><feGaussianBlur stdDeviation="8"/></filter>
</defs>
<g id="panel-b">
<text x="0.7" y="262.9" font-size="22.5" text-anchor="start" fill="#000" font-weight="bold" stroke="#000" stroke-width="0.7">b</text>
<text x="50.0" y="264.3" font-size="15.8" text-anchor="start" fill="#1a1a1a" font-weight="normal" textLength="74.0" lengthAdjust="spacingAndGlyphs" >Peripheral</text>
<text x="150.0" y="261.2" font-size="15.8" text-anchor="start" fill="#1a1a1a" font-weight="normal" textLength="45.0" lengthAdjust="spacingAndGlyphs" >Cos-7</text>
<text x="233.0" y="264.3" font-size="15.8" text-anchor="start" fill="#1a1a1a" font-weight="normal" textLength="63.5" lengthAdjust="spacingAndGlyphs" >Midzone</text>
<rect x="0" y="270" width="168.4" height="238" fill="#ef6623"/>
<rect x="175.4" y="270" width="167.6" height="238" fill="#34a562"/>
<clipPath id="cbo0"><rect x="2.5" y="272.6" width="163.4" height="56.599999999999966"/></clipPath>
<rect x="2.5" y="272.6" width="163.4" height="56.599999999999966" fill="#050505"/>
<g clip-path="url(#cbo0)"><g filter="url(#micro)">
<rect x="-2.5" y="267.6" width="173.4" height="66.59999999999997" fill="#0a0a0a"/>
<path d="M3.7,312.5 C5.2,311.9 8.9,309.9 12.5,308.7 C16.1,307.5 21.6,306.8 25.0,305.5 C28.4,304.2 31.7,301.8 33.0,301.0" fill="none" stroke="#8e8e8e" stroke-width="3.6" stroke-linecap="round" stroke-linejoin="round" />
<path d="M31.0,302.0 C31.8,301.4 34.3,300.0 36.0,298.5 C37.7,297.0 40.2,293.9 41.0,293.0" fill="none" stroke="#c4c4c4" stroke-width="7" stroke-linecap="round" stroke-linejoin="round" />
<ellipse cx="48.7" cy="287.5" rx="8.6" ry="6.4" fill="#f2f2f2" transform="rotate(0 48.7 287.5)"/>
<path d="M52.0,288.0 C53.3,288.1 56.2,288.2 60.0,288.7 C63.8,289.1 70.4,290.1 75.0,290.7 C79.6,291.3 83.3,292.0 87.5,292.5 C91.7,293.0 96.2,293.1 100.0,293.7 C103.8,294.2 106.7,294.6 110.0,295.8 C113.3,297.0 116.7,299.5 120.0,300.6 C123.3,301.7 126.7,302.1 130.0,302.3 C133.3,302.5 136.7,301.0 140.0,301.6 C143.3,302.2 147.1,304.4 150.0,306.2 C152.9,308.0 155.4,310.4 157.5,312.5 C159.6,314.6 161.7,317.7 162.5,318.7" fill="none" stroke="#f2f2f2" stroke-width="5.8" stroke-linecap="round" stroke-linejoin="round" />
<path d="M130.0,302.3 C131.7,302.2 136.7,301.0 140.0,301.6 C143.3,302.2 147.1,304.4 150.0,306.2 C152.9,308.0 155.4,310.4 157.5,312.5 C159.6,314.6 161.7,317.7 162.5,318.7" fill="none" stroke="#f2f2f2" stroke-width="9.4" stroke-linecap="round" stroke-linejoin="round" />
<ellipse cx="23.7" cy="317" rx="5.6" ry="3.6" fill="#e0e0e0" transform="rotate(-15 23.7 317)"/>
<polygon points="66.1,315.3 67.9,311.7 98.9,326.0 95.1,333.0" fill="#f2f2f2"/>
<ellipse cx="161.5" cy="282.5" rx="4.8" ry="7.4" fill="#f2f2f2" transform="rotate(0 161.5 282.5)"/>
<ellipse cx="152.5" cy="273.5" rx="3.2" ry="1.8" fill="#ddd" transform="rotate(0 152.5 273.5)"/>
</g></g>
<polygon points="-4.10,-3.20 4.10,-3.20 0,6.40" transform="translate(42.4,305.3) rotate(129)" fill="#000" stroke="#fff" stroke-width="1.5" stroke-linejoin="miter"/>
<text x="3.7" y="287.0" font-size="16.4" text-anchor="start" fill="#fff" font-weight="normal" >0 s</text>
<clipPath id="cbo1"><rect x="2.5" y="331.8" width="163.4" height="56.19999999999999"/></clipPath>
<rect x="2.5" y="331.8" width="163.4" height="56.19999999999999" fill="#050505"/>
<g clip-path="url(#cbo1)"><g filter="url(#micro)">
<rect x="-2.5" y="326.8" width="173.4" height="66.19999999999999" fill="#0a0a0a"/>
<path d="M4.0,376.0 C5.0,375.6 6.9,374.9 10.0,373.7 C13.1,372.5 19.0,370.3 22.5,368.7 C26.0,367.1 29.6,364.8 31.0,364.0" fill="none" stroke="#8e8e8e" stroke-width="3.6" stroke-linecap="round" stroke-linejoin="round" />
<path d="M30.0,365.0 C30.8,364.2 33.5,361.8 35.0,360.0 C36.5,358.2 38.3,355.0 39.0,354.0" fill="none" stroke="#c4c4c4" stroke-width="6.6" stroke-linecap="round" stroke-linejoin="round" />
<ellipse cx="45" cy="348.7" rx="7.4" ry="6.2" fill="#f2f2f2" transform="rotate(0 45 348.7)"/>
<path d="M49.0,350.0 C50.8,350.2 56.1,351.5 60.0,351.2 C63.9,350.9 68.3,348.4 72.5,348.4 C76.7,348.4 80.4,349.9 85.0,351.2 C89.6,352.5 95.4,354.7 100.0,356.2 C104.6,357.7 108.3,358.9 112.5,360.0 C116.7,361.1 120.8,361.7 125.0,362.5 C129.2,363.3 133.3,364.0 137.5,365.0 C141.7,366.0 146.2,367.4 150.0,368.7 C153.8,370.0 157.5,371.4 160.0,373.0 C162.5,374.6 164.2,377.2 165.0,378.0" fill="none" stroke="#f2f2f2" stroke-width="6.0" stroke-linecap="round" stroke-linejoin="round" />
<path d="M137.5,365.0 C139.6,365.6 146.2,367.4 150.0,368.7 C153.8,370.0 157.5,371.4 160.0,373.0 C162.5,374.6 164.2,377.2 165.0,378.0" fill="none" stroke="#f2f2f2" stroke-width="9.6" stroke-linecap="round" stroke-linejoin="round" />
<ellipse cx="18.7" cy="381.5" rx="5.2" ry="3.4" fill="#e0e0e0" transform="rotate(-15 18.7 381.5)"/>
<polygon points="61.1,375.3 62.9,371.7 94.8,385.4 91.2,392.6" fill="#f2f2f2"/>
<ellipse cx="158.7" cy="336.5" rx="5.4" ry="4.6" fill="#f2f2f2" transform="rotate(0 158.7 336.5)"/>
<ellipse cx="164.6" cy="347" rx="2.2" ry="6" fill="#ddd" transform="rotate(0 164.6 347)"/>
</g></g>
<polygon points="-4.10,-3.20 4.10,-3.20 0,6.40" transform="translate(39.4,369.7) rotate(129)" fill="#000" stroke="#fff" stroke-width="1.5" stroke-linejoin="miter"/>
<text x="3.7" y="346.2" font-size="16.4" text-anchor="start" fill="#fff" font-weight="normal" >50 s</text>
<clipPath id="cbo2"><rect x="2.5" y="390.6" width="163.4" height="56.39999999999998"/></clipPath>
<rect x="2.5" y="390.6" width="163.4" height="56.39999999999998" fill="#050505"/>
<g clip-path="url(#cbo2)"><g filter="url(#micro)">
<rect x="-2.5" y="385.6" width="173.4" height="66.39999999999998" fill="#0a0a0a"/>
<path d="M10.0,428.5 C11.3,428.2 15.3,427.3 18.0,426.5 C20.7,425.7 24.7,424.0 26.0,423.5" fill="none" stroke="#9a9a9a" stroke-width="3.4" stroke-linecap="round" stroke-linejoin="round" />
<path d="M27.0,423.0 C28.2,422.4 31.8,420.7 34.0,419.5 C36.2,418.3 39.0,416.6 40.0,416.0" fill="none" stroke="#d0d0d0" stroke-width="5" stroke-linecap="round" stroke-linejoin="round" />
<ellipse cx="40.5" cy="419.5" rx="2.2" ry="3.2" fill="#ccc" transform="rotate(0 40.5 419.5)"/>
<ellipse cx="50" cy="405" rx="8" ry="6.6" fill="#f2f2f2" transform="rotate(0 50 405)"/>
<path d="M54.0,406.5 C55.4,407.1 59.0,410.0 62.5,410.0 C66.0,410.0 70.8,406.4 75.0,406.4 C79.2,406.4 83.3,408.9 87.5,410.0 C91.7,411.1 95.8,412.1 100.0,413.0 C104.2,413.9 108.3,414.4 112.5,415.4 C116.7,416.3 120.8,417.3 125.0,418.7 C129.2,420.1 133.3,421.6 137.5,423.7 C141.7,425.8 146.5,428.7 150.0,431.2 C153.5,433.7 157.2,437.4 158.7,438.7" fill="none" stroke="#f2f2f2" stroke-width="7.6" stroke-linecap="round" stroke-linejoin="round" />
<path d="M125.0,418.7 C127.1,419.5 133.3,421.6 137.5,423.7 C141.7,425.8 146.5,428.7 150.0,431.2 C153.5,433.7 157.2,437.4 158.7,438.7" fill="none" stroke="#f2f2f2" stroke-width="9.8" stroke-linecap="round" stroke-linejoin="round" />
<ellipse cx="21.2" cy="437" rx="5.4" ry="3.6" fill="#e0e0e0" transform="rotate(-15 21.2 437)"/>
<polygon points="64.0,432.7 66.0,429.3 94.9,443.1 91.1,450.1" fill="#f2f2f2"/>
<ellipse cx="72.5" cy="392.5" rx="3.2" ry="2.4" fill="#ddd" transform="rotate(0 72.5 392.5)"/>
<ellipse cx="152.5" cy="395.4" rx="4.6" ry="4.6" fill="#f2f2f2" transform="rotate(0 152.5 395.4)"/>
<ellipse cx="161.4" cy="401.4" rx="5.2" ry="5.2" fill="#f2f2f2" transform="rotate(0 161.4 401.4)"/>
<ellipse cx="164.2" cy="418" rx="1.8" ry="7" fill="#ddd" transform="rotate(0 164.2 418)"/>
</g></g>
<polygon points="-4.10,-3.20 4.10,-3.20 0,6.40" transform="translate(38.2,433.2) rotate(-90)" fill="#000" stroke="#fff" stroke-width="1.5" stroke-linejoin="miter"/>
<text x="3.7" y="405.0" font-size="16.4" text-anchor="start" fill="#fff" font-weight="normal" >100 s</text>
<clipPath id="cbo3"><rect x="2.5" y="449.6" width="163.4" height="56.0"/></clipPath>
<rect x="2.5" y="449.6" width="163.4" height="56.0" fill="#050505"/>
<g clip-path="url(#cbo3)"><g filter="url(#micro)">
<rect x="-2.5" y="444.6" width="173.4" height="66.0" fill="#0a0a0a"/>
<path d="M41.5,476.0 C41.2,476.8 40.5,479.2 40.0,481.0 C39.5,482.8 38.9,485.6 38.7,486.5" fill="none" stroke="#d0d0d0" stroke-width="4.6" stroke-linecap="round" stroke-linejoin="round" />
<path d="M33.0,487.5 C32.1,487.9 29.7,489.1 27.5,490.0 C25.3,490.9 22.4,492.1 20.0,493.0 C17.6,493.9 14.2,495.1 13.0,495.5" fill="none" stroke="#b0b0b0" stroke-width="4.2" stroke-linecap="round" stroke-linejoin="round" />
<ellipse cx="25" cy="501.6" rx="4.6" ry="2.6" fill="#cfcfcf" transform="rotate(-15 25 501.6)"/>
<ellipse cx="46.2" cy="467.5" rx="8" ry="6.8" fill="#f2f2f2" transform="rotate(0 46.2 467.5)"/>
<path d="M50.0,469.0 C51.7,469.2 55.8,470.4 60.0,470.0 C64.2,469.6 70.4,466.7 75.0,466.4 C79.6,466.1 83.3,467.4 87.5,468.0 C91.7,468.6 95.8,469.2 100.0,470.0 C104.2,470.8 108.3,471.5 112.5,472.5 C116.7,473.5 120.8,474.9 125.0,476.2 C129.2,477.4 133.3,478.5 137.5,480.0 C141.7,481.5 146.5,483.5 150.0,485.0 C153.5,486.5 157.2,488.3 158.7,489.0" fill="none" stroke="#f2f2f2" stroke-width="7.6" stroke-linecap="round" stroke-linejoin="round" />
<path d="M125.0,476.2 C127.1,476.8 133.3,478.5 137.5,480.0 C141.7,481.5 146.5,483.5 150.0,485.0 C153.5,486.5 157.2,488.3 158.7,489.0" fill="none" stroke="#f2f2f2" stroke-width="9.8" stroke-linecap="round" stroke-linejoin="round" />
<polygon points="66.4,495.1 68.6,491.9 92.3,505.7 87.7,512.3" fill="#f2f2f2"/>
<polygon points="67,449 73.5,449 69,457.5 66,456" fill="#ddd"/>
<ellipse cx="156.5" cy="452.4" rx="8.4" ry="3.6" fill="#f2f2f2" transform="rotate(0 156.5 452.4)"/>
<ellipse cx="164.2" cy="470" rx="1.8" ry="8" fill="#ddd" transform="rotate(0 164.2 470)"/>
</g></g>

<text x="3.7" y="464.0" font-size="16.4" text-anchor="start" fill="#fff" font-weight="normal" >110 s</text>
<rect x="151" y="502.4" width="11.8" height="3.2" fill="#fff"/>
<clipPath id="cbg0"><rect x="177.9" y="272.6" width="162.6" height="56.19999999999999"/></clipPath>
<rect x="177.9" y="272.6" width="162.6" height="56.19999999999999" fill="#050505"/>
<g clip-path="url(#cbg0)"><g filter="url(#micro)">
<rect x="172.9" y="267.6" width="172.6" height="66.19999999999999" fill="#0a0a0a"/>
<path d="M184.1,297.1 C186.0,298.1 191.6,301.3 195.7,303.0 C199.8,304.7 204.3,306.3 208.6,307.4 C212.9,308.5 217.1,308.8 221.4,309.4 C225.7,309.9 230.0,310.3 234.3,310.7 C238.6,311.1 242.8,311.3 247.1,311.5 C251.4,311.7 255.7,312.0 260.0,312.0 C264.3,312.0 269.0,311.9 272.9,311.5 C276.8,311.1 279.7,310.5 283.1,309.4 C286.5,308.3 290.0,306.1 293.4,304.8 C296.8,303.5 300.6,302.5 303.7,301.7 C306.8,300.9 310.6,300.3 312.0,300.0" fill="none" stroke="#f2f2f2" stroke-width="6.4" stroke-linecap="round" stroke-linejoin="round" />
<path d="M184.1,297.1 C186.0,298.1 191.6,301.3 195.7,303.0 C199.8,304.7 206.4,306.7 208.6,307.4" fill="none" stroke="#f2f2f2" stroke-width="8.2" stroke-linecap="round" stroke-linejoin="round" />
<path d="M272.9,311.5 C274.6,311.1 279.7,310.5 283.1,309.4 C286.5,308.3 290.0,306.1 293.4,304.8 C296.8,303.5 300.6,302.5 303.7,301.7 C306.8,300.9 310.6,300.3 312.0,300.0" fill="none" stroke="#f2f2f2" stroke-width="8" stroke-linecap="round" stroke-linejoin="round" />
<ellipse cx="321.7" cy="299.4" rx="11.4" ry="9.6" fill="#f2f2f2" transform="rotate(0 321.7 299.4)"/>
<circle cx="320" cy="300.4" r="2.1" fill="#111"/>
</g></g>
<polygon points="-4.10,-3.20 4.10,-3.20 0,6.40" transform="translate(248.7,299.4) rotate(0)" fill="#000" stroke="#fff" stroke-width="1.5" stroke-linejoin="miter"/>
<text x="179.1" y="287.0" font-size="16.4" text-anchor="start" fill="#fff" font-weight="normal" >0 s</text>
<clipPath id="cbg1"><rect x="177.9" y="331.4" width="162.6" height="55.80000000000001"/></clipPath>
<rect x="177.9" y="331.4" width="162.6" height="55.80000000000001" fill="#050505"/>
<g clip-path="url(#cbg1)"><g filter="url(#micro)">
<rect x="172.9" y="326.4" width="172.6" height="65.80000000000001" fill="#0a0a0a"/>
<path d="M182.9,354.4 C185.0,355.5 191.4,359.0 195.7,360.9 C200.0,362.8 204.3,364.5 208.6,366.0 C212.9,367.5 217.1,368.8 221.4,369.9 C225.7,371.0 230.4,371.8 234.3,372.4 C238.2,373.0 240.8,373.5 244.6,373.7 C248.4,373.9 252.7,374.1 257.4,373.7 C262.1,373.3 268.2,372.2 272.9,371.1 C277.6,370.0 281.4,368.7 285.7,367.3 C290.0,365.9 294.3,364.4 298.6,362.9 C302.9,361.4 308.2,359.6 311.4,358.3 C314.6,357.0 316.9,355.6 318.0,355.0" fill="none" stroke="#f2f2f2" stroke-width="6.4" stroke-linecap="round" stroke-linejoin="round" />
<path d="M182.9,354.4 C185.0,355.5 191.4,359.0 195.7,360.9 C200.0,362.8 206.4,365.1 208.6,366.0" fill="none" stroke="#f2f2f2" stroke-width="8.2" stroke-linecap="round" stroke-linejoin="round" />
<path d="M272.9,371.1 C275.0,370.5 281.4,368.7 285.7,367.3 C290.0,365.9 294.3,364.4 298.6,362.9 C302.9,361.4 308.2,359.6 311.4,358.3 C314.6,357.0 316.9,355.6 318.0,355.0" fill="none" stroke="#f2f2f2" stroke-width="7.8" stroke-linecap="round" stroke-linejoin="round" />
<ellipse cx="326.9" cy="351.9" rx="10.6" ry="8.8" fill="#f2f2f2" transform="rotate(0 326.9 351.9)"/>
<circle cx="324.6" cy="356.6" r="1.9" fill="#111"/>
</g></g>
<polygon points="-4.10,-3.20 4.10,-3.20 0,6.40" transform="translate(244.2,362.0) rotate(0)" fill="#000" stroke="#fff" stroke-width="1.5" stroke-linejoin="miter"/>
<text x="179.1" y="345.8" font-size="16.4" text-anchor="start" fill="#fff" font-weight="normal" >50 s</text>
<clipPath id="cbg2"><rect x="177.9" y="390" width="162.6" height="56"/></clipPath>
<rect x="177.9" y="390" width="162.6" height="56" fill="#050505"/>
<g clip-path="url(#cbg2)"><g filter="url(#micro)">
<rect x="172.9" y="385" width="172.6" height="66" fill="#0a0a0a"/>
<ellipse cx="199.6" cy="415.8" rx="8" ry="6" fill="#f2f2f2" transform="rotate(0 199.6 415.8)"/>
<path d="M204.0,418.5 C205.2,418.9 207.8,420.1 211.1,420.9 C214.4,421.7 219.7,422.6 224.0,423.2 C228.3,423.8 233.6,424.3 236.9,424.5 C240.2,424.7 242.8,424.3 244.0,424.3" fill="none" stroke="#f2f2f2" stroke-width="4.6" stroke-linecap="round" stroke-linejoin="round" />
<path d="M244.0,424.3 C245.0,424.2 247.8,423.9 250.0,423.6 C252.2,423.3 255.2,422.8 257.4,422.7 C259.6,422.6 262.1,422.9 263.0,423.0" fill="none" stroke="#c8c8c8" stroke-width="1.8" stroke-linecap="round" stroke-linejoin="round" />
<path d="M263.0,423.0 C263.8,423.2 265.2,423.2 267.7,424.0 C270.2,424.8 275.0,427.1 278.0,427.9 C281.0,428.7 283.1,429.5 285.7,428.6 C288.3,427.7 290.8,424.8 293.4,422.7 C296.0,420.6 298.8,418.2 301.2,416.3 C303.6,414.4 306.9,411.9 308.0,411.0" fill="none" stroke="#f2f2f2" stroke-width="7.6" stroke-linecap="round" stroke-linejoin="round" />
<ellipse cx="310.6" cy="409.4" rx="8.4" ry="9.4" fill="#f2f2f2" transform="rotate(35 310.6 409.4)"/>
<path d="M299.0,424.0 C297.8,425.3 294.3,429.5 292.0,432.0 C289.7,434.5 287.3,436.7 285.0,439.0 C282.7,441.3 279.2,444.8 278.0,446.0" fill="none" stroke="#6a6a6a" stroke-width="1.8" stroke-linecap="round" stroke-linejoin="round" />
</g></g>
<polygon points="-4.10,-3.20 4.10,-3.20 0,6.40" transform="translate(248.7,414.0) rotate(0)" fill="#000" stroke="#fff" stroke-width="1.5" stroke-linejoin="miter"/>
<text x="179.1" y="404.4" font-size="16.4" text-anchor="start" fill="#fff" font-weight="normal" >240 s</text>
<clipPath id="cbg3"><rect x="177.9" y="448.6" width="162.6" height="56.799999999999955"/></clipPath>
<rect x="177.9" y="448.6" width="162.6" height="56.799999999999955" fill="#050505"/>
<g clip-path="url(#cbg3)"><g filter="url(#micro)">
<rect x="172.9" y="443.6" width="172.6" height="66.79999999999995" fill="#0a0a0a"/>
<ellipse cx="198.3" cy="474.1" rx="8" ry="6" fill="#f2f2f2" transform="rotate(0 198.3 474.1)"/>
<path d="M203.0,477.0 C204.3,477.4 207.6,478.5 211.1,479.3 C214.6,480.1 219.7,481.3 224.0,481.9 C228.3,482.4 233.7,482.5 236.9,482.6 C240.2,482.7 242.4,482.4 243.5,482.4" fill="none" stroke="#f2f2f2" stroke-width="4.8" stroke-linecap="round" stroke-linejoin="round" />
<path d="M252.5,481.1 L262.6,480.6" fill="none" stroke="#f2f2f2" stroke-width="3.4" stroke-linecap="round" stroke-linejoin="round" />
<path d="M262.6,480.6 C264.3,481.2 269.5,483.2 272.9,484.4 C276.3,485.6 280.1,488.0 283.1,487.8 C286.1,487.6 288.3,485.2 290.9,483.1 C293.5,481.0 296.0,477.8 298.6,475.4 C301.2,473.0 305.0,470.1 306.3,469.0" fill="none" stroke="#f2f2f2" stroke-width="7.4" stroke-linecap="round" stroke-linejoin="round" />
<ellipse cx="312.7" cy="466.4" rx="9" ry="10" fill="#f2f2f2" transform="rotate(35 312.7 466.4)"/>
<ellipse cx="310.9" cy="468.2" rx="2" ry="2.6" fill="#111" transform="rotate(0 310.9 468.2)"/>
<path d="M313.0,476.0 C311.9,477.6 308.7,483.0 306.3,485.7 C303.9,488.4 301.2,490.6 298.6,492.1 C296.0,493.6 292.2,494.3 290.9,494.7" fill="none" stroke="#d4d4d4" stroke-width="3.4" stroke-linecap="round" stroke-linejoin="round" />
</g></g>

<text x="179.1" y="463.0" font-size="16.4" text-anchor="start" fill="#fff" font-weight="normal" >245 s</text>
<rect x="322.2" y="502.8" width="14.8" height="3.2" fill="#fff"/>
</g>
<g id="panel-c">
<text x="351.5" y="262.3" font-size="22.5" text-anchor="start" fill="#000" font-weight="bold" stroke="#000" stroke-width="0.7">c</text>
<text x="440.0" y="270.0" font-size="15.8" text-anchor="start" fill="#1a1a1a" font-weight="normal" textLength="74.0" lengthAdjust="spacingAndGlyphs" >Peripheral</text>
<text x="594.0" y="270.0" font-size="15.8" text-anchor="start" fill="#1a1a1a" font-weight="normal" textLength="63.5" lengthAdjust="spacingAndGlyphs" >Midzone</text>
<g transform="translate(445.0,275.0) scale(1.260,1.200)"><path d="M5,2.8 C8,2.8 9.8,5.2 11.4,5.8 C13.6,6.2 15.6,1.4 26,0.6 C38,-0.2 50,2.4 50,7.6 C50,12.8 40,14.8 29,14.4 C18,14 14.4,9.8 11.6,9.9 C9.8,10.2 8.4,13.4 5,13.4 C1.8,13.4 0,11 0,8.1 C0,5.2 1.8,2.8 5,2.8 Z" fill="#c8731f" stroke="#7a4a1a" stroke-width="0.8"/><path d="M2.6,10 C2.2,5.4 5.6,5 5.8,8 C6,10.8 8.4,10 10.2,8.4 C12,7.2 13.2,8.4 14.2,10 C14.8,3.6 17.8,3.4 18.2,8.6 C18.6,13 20.8,12.8 21,8.6 C21.2,3.2 24,3 24.4,8.6 C24.8,13.2 27,13 27.2,8.6 C27.4,3.2 30.2,3 30.6,8.6 C31,13.2 33.2,13 33.4,8.6 C33.6,3.2 36.4,3 36.8,8.6 C37.2,13 39.4,12.8 39.6,8.6 C39.8,3.8 42.4,3.6 42.8,8.2 C43.2,11.8 45.6,11.6 46.6,8.6" fill="none" stroke="#8a4e18" stroke-width="2.1" stroke-linecap="round" stroke-linejoin="round"/><path d="M2.6,10 C2.2,5.4 5.6,5 5.8,8 C6,10.8 8.4,10 10.2,8.4 C12,7.2 13.2,8.4 14.2,10 C14.8,3.6 17.8,3.4 18.2,8.6 C18.6,13 20.8,12.8 21,8.6 C21.2,3.2 24,3 24.4,8.6 C24.8,13.2 27,13 27.2,8.6 C27.4,3.2 30.2,3 30.6,8.6 C31,13.2 33.2,13 33.4,8.6 C33.6,3.2 36.4,3 36.8,8.6 C37.2,13 39.4,12.8 39.6,8.6 C39.8,3.8 42.4,3.6 42.8,8.2 C43.2,11.8 45.6,11.6 46.6,8.6" fill="none" stroke="#f5caa0" stroke-opacity="1" stroke-width="1.15" stroke-linecap="round" stroke-linejoin="round"/></g>
<g transform="translate(592.4,273.0) scale(1.304,1.080)"><path d="M11,0.8 C18,0.8 20.4,5 25,5 C29.6,5 32,0.8 39,0.8 C46,0.8 50,3.8 50,7.7 C50,11.6 46,14.6 39,14.6 C32,14.6 29.6,10.6 25,10.6 C20.4,10.6 18,14.6 11,14.6 C4,14.6 0,11.6 0,7.7 C0,3.8 4,0.8 11,0.8 Z" fill="#1f8446" stroke="#14592e" stroke-width="0.8"/><path d="M3.2,9.6 C3,3.6 6.4,3.4 6.8,8.6 C7.2,13 9.4,12.8 9.6,8.6 C9.8,3.2 12.6,3 13,8.6 C13.4,13 15.6,12.8 15.8,8.6 C16,4 18.6,4.4 19.6,7 C21,9.4 23,8.2 25,7.8 C27,7.4 29,9.4 30.2,8.2 C31,3.6 33.6,3.2 34,8.6 C34.4,13 36.6,12.8 36.8,8.6 C37,3.2 39.8,3 40.2,8.6 C40.6,13 42.8,12.8 43,8.6 C43.2,3.8 46.2,3.6 46.8,9.4" fill="none" stroke="#145c30" stroke-width="2.1" stroke-linecap="round" stroke-linejoin="round"/><path d="M3.2,9.6 C3,3.6 6.4,3.4 6.8,8.6 C7.2,13 9.4,12.8 9.6,8.6 C9.8,3.2 12.6,3 13,8.6 C13.4,13 15.6,12.8 15.8,8.6 C16,4 18.6,4.4 19.6,7 C21,9.4 23,8.2 25,7.8 C27,7.4 29,9.4 30.2,8.2 C31,3.6 33.6,3.2 34,8.6 C34.4,13 36.6,12.8 36.8,8.6 C37,3.2 39.8,3 40.2,8.6 C40.6,13 42.8,12.8 43,8.6 C43.2,3.8 46.2,3.6 46.8,9.4" fill="none" stroke="#a8d8b8" stroke-opacity="1" stroke-width="1.15" stroke-linecap="round" stroke-linejoin="round"/></g>
<rect x="396.20" y="472.76" width="5.95" height="3.84" fill="#f06a22" stroke="#1c1c1c" stroke-width="0.7"/>
<rect x="408.10" y="470.07" width="5.95" height="6.53" fill="#f06a22" stroke="#1c1c1c" stroke-width="0.7"/>
<rect x="414.06" y="468.92" width="5.95" height="7.68" fill="#f06a22" stroke="#1c1c1c" stroke-width="0.7"/>
<rect x="420.01" y="468.92" width="5.95" height="7.68" fill="#f06a22" stroke="#1c1c1c" stroke-width="0.7"/>
<rect x="425.96" y="438.20" width="5.95" height="38.40" fill="#f06a22" stroke="#1c1c1c" stroke-width="0.7"/>
<rect x="431.91" y="446.65" width="5.95" height="29.95" fill="#f06a22" stroke="#1c1c1c" stroke-width="0.7"/>
<rect x="437.86" y="426.68" width="5.95" height="49.92" fill="#f06a22" stroke="#1c1c1c" stroke-width="0.7"/>
<rect x="443.82" y="422.84" width="5.95" height="53.76" fill="#f06a22" stroke="#1c1c1c" stroke-width="0.7"/>
<rect x="449.77" y="380.60" width="5.95" height="96.00" fill="#f06a22" stroke="#1c1c1c" stroke-width="0.7"/>
<rect x="455.72" y="419.00" width="5.95" height="57.60" fill="#f06a22" stroke="#1c1c1c" stroke-width="0.7"/>
<rect x="461.67" y="380.60" width="5.95" height="96.00" fill="#f06a22" stroke="#1c1c1c" stroke-width="0.7"/>
<rect x="467.62" y="388.28" width="5.95" height="88.32" fill="#f06a22" stroke="#1c1c1c" stroke-width="0.7"/>
<rect x="473.58" y="369.08" width="5.95" height="107.52" fill="#f06a22" stroke="#1c1c1c" stroke-width="0.7"/>
<rect x="479.53" y="347.19" width="5.95" height="129.41" fill="#f06a22" stroke="#1c1c1c" stroke-width="0.7"/>
<rect x="485.48" y="346.04" width="5.95" height="130.56" fill="#f06a22" stroke="#1c1c1c" stroke-width="0.7"/>
<rect x="491.43" y="346.04" width="5.95" height="130.56" fill="#f06a22" stroke="#1c1c1c" stroke-width="0.7"/>
<rect x="497.38" y="326.84" width="5.95" height="149.76" fill="#f06a22" stroke="#1c1c1c" stroke-width="0.7"/>
<rect x="503.34" y="299.96" width="5.95" height="176.64" fill="#f06a22" stroke="#1c1c1c" stroke-width="0.7"/>
<rect x="509.29" y="311.48" width="5.95" height="165.12" fill="#f06a22" stroke="#1c1c1c" stroke-width="0.7"/>
<rect x="515.24" y="315.32" width="5.95" height="161.28" fill="#f06a22" stroke="#1c1c1c" stroke-width="0.7"/>
<rect x="521.19" y="299.96" width="5.95" height="176.64" fill="#f06a22" stroke="#1c1c1c" stroke-width="0.7"/>
<rect x="527.14" y="307.64" width="5.95" height="168.96" fill="#f06a22" stroke="#1c1c1c" stroke-width="0.7"/>
<rect x="533.10" y="307.64" width="5.95" height="168.96" fill="#f06a22" stroke="#1c1c1c" stroke-width="0.7"/>
<rect x="539.05" y="369.08" width="5.95" height="107.52" fill="#f06a22" stroke="#1c1c1c" stroke-width="0.7"/>
<rect x="545.00" y="461.24" width="5.95" height="15.36" fill="#0f8f45" stroke="#1c1c1c" stroke-width="0.7"/>
<rect x="550.95" y="453.56" width="5.95" height="23.04" fill="#0f8f45" stroke="#1c1c1c" stroke-width="0.7"/>
<rect x="556.90" y="438.20" width="5.95" height="38.40" fill="#0f8f45" stroke="#1c1c1c" stroke-width="0.7"/>
<rect x="562.86" y="426.68" width="5.95" height="49.92" fill="#0f8f45" stroke="#1c1c1c" stroke-width="0.7"/>
<rect x="568.81" y="415.93" width="5.95" height="60.67" fill="#0f8f45" stroke="#1c1c1c" stroke-width="0.7"/>
<rect x="574.76" y="411.32" width="5.95" height="65.28" fill="#0f8f45" stroke="#1c1c1c" stroke-width="0.7"/>
<rect x="580.71" y="392.12" width="5.95" height="84.48" fill="#0f8f45" stroke="#1c1c1c" stroke-width="0.7"/>
<rect x="586.66" y="365.24" width="5.95" height="111.36" fill="#0f8f45" stroke="#1c1c1c" stroke-width="0.7"/>
<rect x="592.62" y="392.12" width="5.95" height="84.48" fill="#0f8f45" stroke="#1c1c1c" stroke-width="0.7"/>
<rect x="598.57" y="361.40" width="5.95" height="115.20" fill="#0f8f45" stroke="#1c1c1c" stroke-width="0.7"/>
<rect x="604.52" y="334.52" width="5.95" height="142.08" fill="#0f8f45" stroke="#1c1c1c" stroke-width="0.7"/>
<rect x="610.47" y="376.76" width="5.95" height="99.84" fill="#0f8f45" stroke="#1c1c1c" stroke-width="0.7"/>
<rect x="616.42" y="361.40" width="5.95" height="115.20" fill="#0f8f45" stroke="#1c1c1c" stroke-width="0.7"/>
<rect x="622.38" y="334.52" width="5.95" height="142.08" fill="#0f8f45" stroke="#1c1c1c" stroke-width="0.7"/>
<rect x="628.33" y="334.52" width="5.95" height="142.08" fill="#0f8f45" stroke="#1c1c1c" stroke-width="0.7"/>
<rect x="634.28" y="319.16" width="5.95" height="157.44" fill="#0f8f45" stroke="#1c1c1c" stroke-width="0.7"/>
<rect x="640.23" y="319.16" width="5.95" height="157.44" fill="#0f8f45" stroke="#1c1c1c" stroke-width="0.7"/>
<rect x="646.18" y="292.28" width="5.95" height="184.32" fill="#0f8f45" stroke="#1c1c1c" stroke-width="0.7"/>
<rect x="652.14" y="296.12" width="5.95" height="180.48" fill="#0f8f45" stroke="#1c1c1c" stroke-width="0.7"/>
<rect x="658.09" y="307.64" width="5.95" height="168.96" fill="#0f8f45" stroke="#1c1c1c" stroke-width="0.7"/>
<rect x="664.04" y="303.80" width="5.95" height="172.80" fill="#0f8f45" stroke="#1c1c1c" stroke-width="0.7"/>
<rect x="669.99" y="303.80" width="5.95" height="172.80" fill="#0f8f45" stroke="#1c1c1c" stroke-width="0.7"/>
<rect x="675.94" y="311.48" width="5.95" height="165.12" fill="#0f8f45" stroke="#1c1c1c" stroke-width="0.7"/>
<rect x="681.90" y="292.28" width="5.95" height="184.32" fill="#0f8f45" stroke="#1c1c1c" stroke-width="0.7"/>
<rect x="687.85" y="307.64" width="5.95" height="168.96" fill="#0f8f45" stroke="#1c1c1c" stroke-width="0.7"/>
<path d="M396.2,284.4 V476.6 H694.4" fill="none" stroke="#1a1a1a" stroke-width="1.6"/>
<line x1="392.2" y1="476.6" x2="396.2" y2="476.6" stroke="#1a1a1a" stroke-width="1.6"/>
<text x="390.2" y="482.4" font-size="15.8" text-anchor="end" fill="#1a1a1a" font-weight="normal"  >0</text>
<line x1="396.2" y1="476.6" x2="396.2" y2="480.6" stroke="#1a1a1a" stroke-width="1.6"/>
<text x="396.2" y="496.0" font-size="15.8" text-anchor="middle" fill="#1a1a1a" font-weight="normal"  >0</text>
<line x1="392.2" y1="438.2" x2="396.2" y2="438.2" stroke="#1a1a1a" stroke-width="1.6"/>
<text x="390.2" y="444.0" font-size="15.8" text-anchor="end" fill="#1a1a1a" font-weight="normal"  >10</text>
<line x1="455.7" y1="476.6" x2="455.7" y2="480.6" stroke="#1a1a1a" stroke-width="1.6"/>
<text x="455.7" y="496.0" font-size="15.8" text-anchor="middle" fill="#1a1a1a" font-weight="normal"  >10</text>
<line x1="392.2" y1="399.8" x2="396.2" y2="399.8" stroke="#1a1a1a" stroke-width="1.6"/>
<text x="390.2" y="405.6" font-size="15.8" text-anchor="end" fill="#1a1a1a" font-weight="normal"  >20</text>
<line x1="515.2" y1="476.6" x2="515.2" y2="480.6" stroke="#1a1a1a" stroke-width="1.6"/>
<text x="515.2" y="496.0" font-size="15.8" text-anchor="middle" fill="#1a1a1a" font-weight="normal"  >20</text>
<line x1="392.2" y1="361.4" x2="396.2" y2="361.4" stroke="#1a1a1a" stroke-width="1.6"/>
<text x="390.2" y="367.2" font-size="15.8" text-anchor="end" fill="#1a1a1a" font-weight="normal"  >30</text>
<line x1="574.8" y1="476.6" x2="574.8" y2="480.6" stroke="#1a1a1a" stroke-width="1.6"/>
<text x="574.8" y="496.0" font-size="15.8" text-anchor="middle" fill="#1a1a1a" font-weight="normal"  >30</text>
<line x1="392.2" y1="323.0" x2="396.2" y2="323.0" stroke="#1a1a1a" stroke-width="1.6"/>
<text x="390.2" y="328.8" font-size="15.8" text-anchor="end" fill="#1a1a1a" font-weight="normal"  >40</text>
<line x1="634.3" y1="476.6" x2="634.3" y2="480.6" stroke="#1a1a1a" stroke-width="1.6"/>
<text x="634.3" y="496.0" font-size="15.8" text-anchor="middle" fill="#1a1a1a" font-weight="normal"  >40</text>
<line x1="392.2" y1="284.6" x2="396.2" y2="284.6" stroke="#1a1a1a" stroke-width="1.6"/>
<text x="390.2" y="290.4" font-size="15.8" text-anchor="end" fill="#1a1a1a" font-weight="normal"  >50</text>
<line x1="693.8" y1="476.6" x2="693.8" y2="480.6" stroke="#1a1a1a" stroke-width="1.6"/>
<text x="693.8" y="496.0" font-size="15.8" text-anchor="middle" fill="#1a1a1a" font-weight="normal"  >50</text>
<text x="465.0" y="515.0" font-size="15.8" text-anchor="start" fill="#1a1a1a" font-weight="normal" textLength="161.5" lengthAdjust="spacingAndGlyphs" >Position of fission (%)</text>
<g transform="translate(365.7,381) rotate(-90)"><text x="0.0" y="0.0" font-size="15.8" text-anchor="middle" fill="#1a1a1a" font-weight="normal" textLength="180.5" lengthAdjust="spacingAndGlyphs" >Number of mitochondria</text></g>
</g>
<g id="panel-e">
<text x="384.6" y="543.4" font-size="22.5" text-anchor="start" fill="#000" font-weight="bold" stroke="#000" stroke-width="0.7">e</text>
<rect x="453.38" y="721.01" width="10.24" height="7.09" fill="#f06a22" stroke="#1c1c1c" stroke-width="0.7"/>
<rect x="463.62" y="699.76" width="10.24" height="28.34" fill="#f06a22" stroke="#1c1c1c" stroke-width="0.7"/>
<rect x="473.86" y="678.50" width="10.24" height="49.60" fill="#f06a22" stroke="#1c1c1c" stroke-width="0.7"/>
<rect x="484.10" y="685.59" width="10.24" height="42.51" fill="#f06a22" stroke="#1c1c1c" stroke-width="0.7"/>
<rect x="494.34" y="657.24" width="10.24" height="70.86" fill="#f06a22" stroke="#1c1c1c" stroke-width="0.7"/>
<rect x="504.58" y="657.24" width="10.24" height="70.86" fill="#f06a22" stroke="#1c1c1c" stroke-width="0.7"/>
<rect x="514.82" y="664.33" width="10.24" height="63.77" fill="#f06a22" stroke="#1c1c1c" stroke-width="0.7"/>
<rect x="525.06" y="650.16" width="10.24" height="77.94" fill="#f06a22" stroke="#1c1c1c" stroke-width="0.7"/>
<rect x="535.30" y="607.64" width="10.24" height="120.46" fill="#f06a22" stroke="#1c1c1c" stroke-width="0.7"/>
<rect x="545.54" y="635.99" width="10.24" height="92.11" fill="#f06a22" stroke="#1c1c1c" stroke-width="0.7"/>
<rect x="555.78" y="685.59" width="5.12" height="42.51" fill="#f06a22" stroke="#1c1c1c" stroke-width="0.7"/>
<rect x="560.90" y="685.59" width="5.12" height="42.51" fill="#0f8f45" stroke="#1c1c1c" stroke-width="0.7"/>
<rect x="566.02" y="713.93" width="10.24" height="14.17" fill="#0f8f45" stroke="#1c1c1c" stroke-width="0.7"/>
<rect x="576.26" y="721.01" width="10.24" height="7.09" fill="#0f8f45" stroke="#1c1c1c" stroke-width="0.7"/>
<rect x="586.50" y="664.33" width="10.24" height="63.77" fill="#0f8f45" stroke="#1c1c1c" stroke-width="0.7"/>
<rect x="596.74" y="650.16" width="10.24" height="77.94" fill="#0f8f45" stroke="#1c1c1c" stroke-width="0.7"/>
<rect x="606.98" y="628.90" width="10.24" height="99.20" fill="#0f8f45" stroke="#1c1c1c" stroke-width="0.7"/>
<rect x="617.22" y="621.82" width="10.24" height="106.28" fill="#0f8f45" stroke="#1c1c1c" stroke-width="0.7"/>
<rect x="627.46" y="579.30" width="10.24" height="148.80" fill="#0f8f45" stroke="#1c1c1c" stroke-width="0.7"/>
<rect x="637.70" y="607.64" width="10.24" height="120.46" fill="#0f8f45" stroke="#1c1c1c" stroke-width="0.7"/>
<rect x="647.94" y="600.56" width="10.24" height="127.54" fill="#0f8f45" stroke="#1c1c1c" stroke-width="0.7"/>
<rect x="658.18" y="572.22" width="10.24" height="155.88" fill="#0f8f45" stroke="#1c1c1c" stroke-width="0.7"/>
<rect x="668.42" y="550.96" width="10.24" height="177.14" fill="#0f8f45" stroke="#1c1c1c" stroke-width="0.7"/>
<rect x="678.66" y="579.30" width="10.24" height="148.80" fill="#0f8f45" stroke="#1c1c1c" stroke-width="0.7"/>
<path d="M432.9,550 V728.1 H689.5" fill="none" stroke="#1a1a1a" stroke-width="1.6"/>
<line x1="428.9" y1="728.1" x2="432.9" y2="728.1" stroke="#1a1a1a" stroke-width="1.6"/>
<text x="426.1" y="733.9" font-size="15.8" text-anchor="end" fill="#1a1a1a" font-weight="normal"  >0</text>
<line x1="428.9" y1="654.8" x2="432.9" y2="654.8" stroke="#1a1a1a" stroke-width="1.6"/>
<text x="426.1" y="660.5" font-size="15.8" text-anchor="end" fill="#1a1a1a" font-weight="normal"  >10</text>
<line x1="428.9" y1="581.4" x2="432.9" y2="581.4" stroke="#1a1a1a" stroke-width="1.6"/>
<text x="426.1" y="587.2" font-size="15.8" text-anchor="end" fill="#1a1a1a" font-weight="normal"  >20</text>
<line x1="432.9" y1="728.1" x2="432.9" y2="732.1" stroke="#1a1a1a" stroke-width="1.6"/>
<text x="432.9" y="747.5" font-size="15.8" text-anchor="middle" fill="#1a1a1a" font-weight="normal"  >0</text>
<line x1="484.1" y1="728.1" x2="484.1" y2="732.1" stroke="#1a1a1a" stroke-width="1.6"/>
<text x="484.1" y="747.5" font-size="15.8" text-anchor="middle" fill="#1a1a1a" font-weight="normal"  >10</text>
<line x1="535.3" y1="728.1" x2="535.3" y2="732.1" stroke="#1a1a1a" stroke-width="1.6"/>
<text x="535.3" y="747.5" font-size="15.8" text-anchor="middle" fill="#1a1a1a" font-weight="normal"  >20</text>
<line x1="586.5" y1="728.1" x2="586.5" y2="732.1" stroke="#1a1a1a" stroke-width="1.6"/>
<text x="586.5" y="747.5" font-size="15.8" text-anchor="middle" fill="#1a1a1a" font-weight="normal"  >30</text>
<line x1="637.7" y1="728.1" x2="637.7" y2="732.1" stroke="#1a1a1a" stroke-width="1.6"/>
<text x="637.7" y="747.5" font-size="15.8" text-anchor="middle" fill="#1a1a1a" font-weight="normal"  >40</text>
<line x1="688.9" y1="728.1" x2="688.9" y2="732.1" stroke="#1a1a1a" stroke-width="1.6"/>
<text x="688.9" y="747.5" font-size="15.8" text-anchor="middle" fill="#1a1a1a" font-weight="normal"  >50</text>
<text x="479.0" y="766.0" font-size="15.8" text-anchor="start" fill="#1a1a1a" font-weight="normal" textLength="161.5" lengthAdjust="spacingAndGlyphs" >Position of fission (%)</text>
<g transform="translate(403.4,641.7) rotate(-90)"><text x="0.0" y="0.0" font-size="15.8" text-anchor="middle" fill="#1a1a1a" font-weight="normal" textLength="180.5" lengthAdjust="spacingAndGlyphs" >Number of mitochondria</text></g>
</g>
<g id="panel-d">
<defs><filter id="microI" x="-5%" y="-5%" width="110%" height="110%" color-interpolation-filters="sRGB">
  <feGaussianBlur in="SourceGraphic" stdDeviation="1.3" result="g"/>
  <feGaussianBlur in="SourceGraphic" stdDeviation="0.55" result="s"/>
  <feMerge><feMergeNode in="g"/><feMergeNode in="s"/></feMerge>
</filter></defs>
<text x="0.8" y="543.0" font-size="22.5" text-anchor="start" fill="#000" font-weight="bold" stroke="#000" stroke-width="0.7">d</text>
<clipPath id="cd"><rect x="0" y="550.8" width="375" height="206.2"/></clipPath>
<rect x="0" y="550.8" width="375" height="206.2" fill="#040404"/>
<g clip-path="url(#cd)">
<ellipse cx="195" cy="708" rx="50" ry="20" fill="#fff" fill-opacity="0.13" filter="url(#blur8)"/>
<ellipse cx="150" cy="715" rx="40" ry="18" fill="#fff" fill-opacity="0.07" filter="url(#blur8)"/>
<ellipse cx="60" cy="580" rx="60" ry="18" fill="#fff" fill-opacity="0.07" filter="url(#blur8)"/>
<ellipse cx="170" cy="625" rx="60" ry="10" fill="#fff" fill-opacity="0.06" filter="url(#blur8)" transform="rotate(28 170 625)"/>
<g filter="url(#microD)">
<path d="M63.5,571.0 C64.6,570.9 68.0,570.6 70.2,570.4 C72.4,570.1 74.6,569.8 76.9,569.6 C79.1,569.5 82.4,569.5 83.6,569.5" fill="none" stroke="#fff" stroke-width="1.44" stroke-linecap="round" stroke-linejoin="round" stroke-opacity="0.92"/>
<path d="M-4.5,578.0 C-3.3,578.1 0.3,578.5 2.8,578.6 C5.2,578.7 7.8,578.2 10.0,578.8 C12.3,579.5 14.1,581.4 16.2,582.6 C18.3,583.8 21.6,585.4 22.6,586.0" fill="none" stroke="#fff" stroke-width="1.11" stroke-linecap="round" stroke-linejoin="round" stroke-opacity="0.61"/>
<path d="M79.9,582.9 C80.4,583.2 81.9,583.8 82.8,584.3 C83.7,584.9 84.5,585.6 85.3,586.3 C86.1,587.0 87.3,588.1 87.7,588.4" fill="none" stroke="#fff" stroke-width="1.36" stroke-linecap="round" stroke-linejoin="round" stroke-opacity="0.86"/>
<path d="M63.7,592.3 C64.8,592.6 68.2,592.7 69.9,593.7 C71.6,594.7 72.6,596.9 73.9,598.6 C75.3,600.2 76.8,601.7 78.0,603.4 C79.2,605.1 80.6,607.9 81.2,608.8" fill="none" stroke="#fff" stroke-width="1.22" stroke-linecap="round" stroke-linejoin="round" stroke-opacity="0.69"/>
<path d="M32.9,595.5 C33.9,595.8 36.8,596.9 38.8,597.4 C40.8,597.8 42.9,597.6 44.8,598.3 C46.7,598.9 49.3,600.8 50.2,601.3" fill="none" stroke="#fff" stroke-width="1.0" stroke-linecap="round" stroke-linejoin="round" stroke-opacity="0.68"/>
<path d="M146.1,611.2 C146.8,612.0 148.9,614.2 150.2,615.8 C151.4,617.4 152.5,619.1 153.6,620.8 C154.8,622.5 156.4,625.1 157.0,625.9" fill="none" stroke="#fff" stroke-width="1.06" stroke-linecap="round" stroke-linejoin="round" stroke-opacity="0.73"/>
<path d="M152.2,626.3 C152.9,626.7 155.0,627.9 156.4,628.7 C157.8,629.5 159.1,630.3 160.5,631.2 C161.8,632.0 163.8,633.4 164.5,633.8" fill="none" stroke="#fff" stroke-width="1.39" stroke-linecap="round" stroke-linejoin="round" stroke-opacity="0.78"/>
<path d="M15.9,581.5 C16.9,581.6 20.0,581.9 22.0,582.4 C24.0,582.8 26.0,583.5 28.0,584.1 C29.9,584.7 31.9,585.2 33.8,586.0 C35.7,586.8 38.4,588.3 39.4,588.8" fill="none" stroke="#fff" stroke-width="1.21" stroke-linecap="round" stroke-linejoin="round" stroke-opacity="0.95"/>
<path d="M23.0,577.0 C24.0,577.0 27.2,576.5 29.1,576.9 C31.0,577.4 32.9,578.5 34.5,579.7 C36.1,580.9 37.9,583.4 38.6,584.2" fill="none" stroke="#fff" stroke-width="1.54" stroke-linecap="round" stroke-linejoin="round" stroke-opacity="0.73"/>
<path d="M39.0,589.0 C39.5,589.2 41.0,589.8 42.0,590.3 C43.0,590.7 44.1,591.0 45.1,591.5 C46.0,592.1 47.2,593.2 47.7,593.6" fill="none" stroke="#fff" stroke-width="1.67" stroke-linecap="round" stroke-linejoin="round" stroke-opacity="0.79"/>
<path d="M74.7,593.5 C75.7,593.9 78.6,594.9 80.3,596.0 C82.0,597.1 83.3,598.8 84.9,600.0 C86.5,601.2 88.4,602.1 90.2,603.1 C92.0,604.1 93.8,605.0 95.5,606.1 C97.2,607.3 99.5,609.2 100.3,609.8" fill="none" stroke="#fff" stroke-width="1.14" stroke-linecap="round" stroke-linejoin="round" stroke-opacity="0.98"/>
<path d="M137.7,609.1 C138.8,609.8 142.7,611.2 144.6,613.0 C146.4,614.7 147.5,617.4 148.8,619.7 C150.0,622.0 151.6,625.6 152.1,626.8" fill="none" stroke="#fff" stroke-width="1.18" stroke-linecap="round" stroke-linejoin="round" stroke-opacity="0.93"/>
<path d="M84.7,600.3 C85.4,600.8 87.6,602.3 88.9,603.5 C90.2,604.6 91.3,605.9 92.5,607.2 C93.7,608.4 95.4,610.4 96.0,611.1" fill="none" stroke="#fff" stroke-width="1.43" stroke-linecap="round" stroke-linejoin="round" stroke-opacity="0.71"/>
<path d="M146.3,618.9 C146.9,619.3 148.6,620.7 149.8,621.5 C151.0,622.4 152.3,623.1 153.6,623.9 C154.8,624.7 156.6,626.0 157.2,626.4" fill="none" stroke="#fff" stroke-width="1.4" stroke-linecap="round" stroke-linejoin="round" stroke-opacity="0.65"/>
<path d="M38.7,587.2 C39.7,587.4 42.7,588.3 44.7,588.7 C46.7,589.1 48.8,589.6 50.9,589.7 C52.9,589.8 55.0,589.3 57.1,589.1 C59.1,589.0 61.2,588.8 63.3,588.8 C65.4,588.7 68.5,588.7 69.5,588.7" fill="none" stroke="#fff" stroke-width="1.49" stroke-linecap="round" stroke-linejoin="round" stroke-opacity="0.99"/>
<path d="M-16.2,584.6 C-15.2,584.5 -12.1,584.4 -10.1,583.8 C-8.2,583.3 -6.5,581.4 -4.6,581.2 C-2.7,581.0 -0.5,582.0 1.4,582.8 C3.3,583.5 5.9,585.1 6.8,585.6" fill="none" stroke="#fff" stroke-width="1.52" stroke-linecap="round" stroke-linejoin="round" stroke-opacity="0.96"/>
<path d="M104.6,601.5 C105.6,601.6 108.8,601.5 110.9,601.9 C113.0,602.3 115.1,602.9 117.0,603.9 C118.8,604.9 120.2,606.7 122.0,607.7 C123.9,608.8 125.8,609.7 127.9,610.3 C129.9,610.8 133.1,610.8 134.2,610.9" fill="none" stroke="#fff" stroke-width="1.6" stroke-linecap="round" stroke-linejoin="round" stroke-opacity="0.83"/>
<path d="M91.8,586.0 C92.7,587.0 95.5,589.9 97.1,592.0 C98.7,594.1 100.6,596.2 101.5,598.6 C102.5,601.0 102.7,605.1 103.0,606.4" fill="none" stroke="#fff" stroke-width="1.51" stroke-linecap="round" stroke-linejoin="round" stroke-opacity="0.76"/>
<path d="M106.7,597.8 C107.7,598.6 110.7,600.8 112.5,602.6 C114.2,604.3 116.0,606.1 117.3,608.2 C118.6,610.3 119.5,612.7 120.5,614.9 C121.5,617.2 122.9,620.7 123.3,621.8" fill="none" stroke="#fff" stroke-width="1.49" stroke-linecap="round" stroke-linejoin="round" stroke-opacity="0.80"/>
<path d="M83.1,589.4 C84.1,589.9 86.8,591.6 88.7,592.5 C90.6,593.4 92.8,593.9 94.6,595.1 C96.4,596.2 97.9,597.8 99.5,599.1 C101.1,600.5 102.7,601.9 104.2,603.4 C105.7,604.9 107.8,607.4 108.5,608.2" fill="none" stroke="#fff" stroke-width="1.31" stroke-linecap="round" stroke-linejoin="round" stroke-opacity="0.96"/>
<path d="M37.2,575.0 C38.2,575.3 41.3,576.2 43.2,577.1 C45.1,578.0 46.8,579.5 48.7,580.1 C50.7,580.7 53.0,580.3 55.1,580.6 C57.1,581.0 60.2,581.8 61.2,582.1" fill="none" stroke="#fff" stroke-width="1.41" stroke-linecap="round" stroke-linejoin="round" stroke-opacity="0.73"/>
<path d="M3.9,561.5 C4.9,561.4 8.0,561.7 9.9,561.1 C11.7,560.5 13.3,559.1 15.0,558.0 C16.8,557.0 18.4,555.8 20.2,554.9 C21.9,553.9 23.9,553.3 25.6,552.3 C27.3,551.4 29.8,549.6 30.6,549.0" fill="none" stroke="#fff" stroke-width="1.15" stroke-linecap="round" stroke-linejoin="round" stroke-opacity="0.77"/>
<path d="M88.4,586.4 C89.3,587.2 92.2,589.6 94.1,591.2 C96.0,592.7 98.0,594.2 99.9,595.8 C101.8,597.4 103.7,599.1 105.5,600.7 C107.4,602.4 110.1,604.9 111.0,605.8" fill="none" stroke="#fff" stroke-width="1.5" stroke-linecap="round" stroke-linejoin="round" stroke-opacity="0.83"/>
<path d="M32.5,579.4 C33.6,579.6 37.1,580.3 39.5,580.7 C41.8,581.1 44.2,581.3 46.6,581.7 C48.9,582.0 51.3,582.3 53.6,582.7 C56.0,583.2 59.4,584.1 60.6,584.3" fill="none" stroke="#fff" stroke-width="1.1" stroke-linecap="round" stroke-linejoin="round" stroke-opacity="0.62"/>
<path d="M92.5,585.1 C93.3,585.8 95.4,588.2 97.2,589.2 C99.0,590.1 101.3,590.2 103.3,590.7 C105.4,591.1 107.4,591.6 109.5,591.8 C111.5,592.1 114.7,592.2 115.7,592.2" fill="none" stroke="#fff" stroke-width="1.01" stroke-linecap="round" stroke-linejoin="round" stroke-opacity="0.79"/>
<path d="M109.1,602.9 C109.7,603.3 111.3,604.6 112.5,605.4 C113.7,606.2 114.8,607.0 116.1,607.6 C117.3,608.2 119.4,608.8 120.1,609.0" fill="none" stroke="#fff" stroke-width="1.28" stroke-linecap="round" stroke-linejoin="round" stroke-opacity="0.92"/>
<path d="M146.5,617.2 C146.9,617.5 148.4,618.4 149.3,619.0 C150.2,619.7 151.1,620.5 151.9,621.3 C152.7,622.1 153.7,623.5 154.1,624.0" fill="none" stroke="#fff" stroke-width="1.26" stroke-linecap="round" stroke-linejoin="round" stroke-opacity="0.83"/>
<path d="M135.0,607.7 C136.1,608.4 139.0,610.4 141.1,611.6 C143.1,612.9 145.2,614.1 147.4,615.1 C149.5,616.1 151.8,617.0 154.0,617.8 C156.2,618.7 159.7,619.7 160.8,620.1" fill="none" stroke="#fff" stroke-width="1.45" stroke-linecap="round" stroke-linejoin="round" stroke-opacity="0.89"/>
<path d="M13.2,606.4 C14.2,605.9 17.2,604.5 19.2,603.4 C21.1,602.4 23.1,601.3 24.9,600.0 C26.7,598.7 28.0,596.7 29.9,595.6 C31.8,594.4 34.1,594.0 36.2,593.4 C38.3,592.8 41.6,592.2 42.7,591.9" fill="none" stroke="#fff" stroke-width="1.06" stroke-linecap="round" stroke-linejoin="round" stroke-opacity="0.78"/>
<path d="M81.7,592.7 C82.2,592.8 83.7,593.1 84.6,593.2 C85.6,593.3 86.6,593.3 87.5,593.4 C88.5,593.5 89.9,593.7 90.4,593.8" fill="none" stroke="#fff" stroke-width="1.23" stroke-linecap="round" stroke-linejoin="round" stroke-opacity="0.92"/>
<path d="M5.1,586.2 C6.2,586.6 9.3,588.0 11.4,588.4 C13.6,588.9 15.9,588.6 18.1,589.0 C20.3,589.4 22.4,590.4 24.5,591.0 C26.7,591.6 30.0,592.3 31.0,592.5" fill="none" stroke="#fff" stroke-width="1.15" stroke-linecap="round" stroke-linejoin="round" stroke-opacity="0.81"/>
<path d="M30.2,582.2 C31.3,582.0 34.6,581.2 36.8,580.9 C39.0,580.6 41.3,580.9 43.5,580.6 C45.7,580.3 47.9,579.5 50.0,578.9 C52.2,578.2 55.3,577.0 56.4,576.7" fill="none" stroke="#fff" stroke-width="1.59" stroke-linecap="round" stroke-linejoin="round" stroke-opacity="0.96"/>
<path d="M19.1,599.4 C20.2,599.0 23.7,598.0 25.9,597.3 C28.2,596.5 30.6,595.8 32.7,594.8 C34.8,593.7 37.7,591.4 38.7,590.8" fill="none" stroke="#fff" stroke-width="1.42" stroke-linecap="round" stroke-linejoin="round" stroke-opacity="0.61"/>
<path d="M148.6,620.3 C149.7,620.6 153.2,621.8 155.5,622.3 C157.8,622.9 160.2,623.3 162.5,623.8 C164.9,624.2 167.3,624.7 169.6,625.0 C172.0,625.4 175.6,625.7 176.8,625.8" fill="none" stroke="#fff" stroke-width="1.67" stroke-linecap="round" stroke-linejoin="round" stroke-opacity="0.97"/>
<path d="M30.7,578.8 C31.7,579.1 35.0,580.1 37.0,581.1 C39.1,582.0 40.8,583.7 42.9,584.4 C45.0,585.1 48.5,585.2 49.6,585.3" fill="none" stroke="#fff" stroke-width="1.13" stroke-linecap="round" stroke-linejoin="round" stroke-opacity="0.85"/>
<path d="M146.8,623.0 C147.4,623.3 149.1,624.2 150.2,624.8 C151.3,625.4 152.4,626.0 153.4,626.7 C154.5,627.4 155.9,628.7 156.4,629.1" fill="none" stroke="#fff" stroke-width="1.25" stroke-linecap="round" stroke-linejoin="round" stroke-opacity="0.85"/>
<path d="M-1.0,570.7 C0.1,571.1 3.3,572.2 5.4,572.9 C7.5,573.6 9.7,574.2 11.8,575.1 C13.9,576.0 15.8,577.3 17.8,578.1 C19.9,578.9 23.3,579.5 24.4,579.8" fill="none" stroke="#fff" stroke-width="1.26" stroke-linecap="round" stroke-linejoin="round" stroke-opacity="0.77"/>
<path d="M70.5,589.5 C71.5,589.7 74.5,590.5 76.5,590.7 C78.5,590.9 80.6,590.5 82.6,590.7 C84.7,590.9 86.6,591.6 88.7,591.7 C90.7,591.8 93.7,591.5 94.7,591.4" fill="none" stroke="#fff" stroke-width="1.52" stroke-linecap="round" stroke-linejoin="round" stroke-opacity="0.92"/>
<path d="M141.4,618.5 C142.0,619.1 144.0,621.0 145.1,622.4 C146.3,623.8 147.8,625.2 148.2,626.9 C148.7,628.5 147.8,631.3 147.7,632.2" fill="none" stroke="#fff" stroke-width="1.17" stroke-linecap="round" stroke-linejoin="round" stroke-opacity="0.89"/>
<path d="M34.1,578.8 C34.6,578.8 36.4,578.7 37.6,578.7 C38.7,578.7 39.9,578.8 41.1,578.7 C42.2,578.7 44.0,578.5 44.6,578.4" fill="none" stroke="#fff" stroke-width="1.01" stroke-linecap="round" stroke-linejoin="round" stroke-opacity="0.68"/>
<path d="M93.9,597.9 C94.9,598.4 97.5,600.3 99.4,601.1 C101.4,601.8 103.6,601.8 105.7,602.2 C107.8,602.6 109.8,603.2 111.9,603.3 C114.0,603.3 116.1,602.7 118.2,602.4 C120.3,602.1 123.4,601.7 124.5,601.5" fill="none" stroke="#fff" stroke-width="1.07" stroke-linecap="round" stroke-linejoin="round" stroke-opacity="0.61"/>
<path d="M75.5,592.4 C76.7,592.6 80.2,593.1 82.5,593.6 C84.9,594.0 87.2,594.5 89.5,595.1 C91.8,595.8 95.1,597.1 96.2,597.5" fill="none" stroke="#fff" stroke-width="1.65" stroke-linecap="round" stroke-linejoin="round" stroke-opacity="0.64"/>
<path d="M-11.0,557.6 C-9.9,557.5 -6.7,557.4 -4.5,557.1 C-2.3,556.8 -0.2,556.1 1.9,555.9 C4.1,555.7 6.3,556.1 8.5,555.9 C10.6,555.7 12.8,555.1 14.9,554.7 C17.0,554.2 20.2,553.5 21.3,553.2" fill="none" stroke="#fff" stroke-width="1.49" stroke-linecap="round" stroke-linejoin="round" stroke-opacity="0.94"/>
<path d="M16.6,580.4 C17.7,580.2 20.9,579.7 23.1,579.4 C25.3,579.1 27.5,578.7 29.7,578.6 C31.9,578.4 35.2,578.5 36.3,578.5" fill="none" stroke="#fff" stroke-width="1.63" stroke-linecap="round" stroke-linejoin="round" stroke-opacity="0.92"/>
<path d="M99.3,598.7 C100.2,598.9 103.2,599.8 105.2,600.1 C107.2,600.4 109.2,600.4 111.2,600.4 C113.3,600.3 115.3,599.6 117.3,599.8 C119.3,600.0 121.2,600.9 123.2,601.4 C125.1,601.9 128.1,602.5 129.1,602.7" fill="none" stroke="#fff" stroke-width="1.52" stroke-linecap="round" stroke-linejoin="round" stroke-opacity="0.91"/>
<path d="M121.9,614.9 C122.8,615.4 125.5,616.9 127.4,617.7 C129.2,618.6 131.1,619.5 133.1,620.0 C135.1,620.4 138.3,620.2 139.3,620.2" fill="none" stroke="#fff" stroke-width="1.51" stroke-linecap="round" stroke-linejoin="round" stroke-opacity="0.63"/>
<path d="M42.3,573.2 C43.4,573.5 46.6,574.5 48.8,574.8 C51.0,575.1 53.3,575.3 55.5,575.2 C57.8,575.0 61.1,574.3 62.2,574.1" fill="none" stroke="#fff" stroke-width="1.47" stroke-linecap="round" stroke-linejoin="round" stroke-opacity="0.74"/>
<path d="M89.4,606.9 C90.6,607.3 94.4,608.1 96.6,609.2 C98.9,610.3 100.8,612.0 102.9,613.5 C105.0,614.9 108.2,617.0 109.2,617.7" fill="none" stroke="#fff" stroke-width="1.69" stroke-linecap="round" stroke-linejoin="round" stroke-opacity="0.61"/>
<path d="M89.5,582.6 C90.4,583.3 93.2,585.3 94.8,586.8 C96.5,588.3 98.0,590.0 99.6,591.7 C101.1,593.3 102.6,595.1 104.1,596.7 C105.7,598.3 108.2,600.7 109.0,601.5" fill="none" stroke="#fff" stroke-width="1.18" stroke-linecap="round" stroke-linejoin="round" stroke-opacity="0.96"/>
<path d="M79.7,574.2 C80.7,574.8 84.0,576.8 86.1,578.1 C88.3,579.4 90.5,580.7 92.7,582.0 C94.8,583.3 98.0,585.4 99.1,586.1" fill="none" stroke="#fff" stroke-width="1.42" stroke-linecap="round" stroke-linejoin="round" stroke-opacity="0.90"/>
<path d="M-9.8,585.6 C-8.7,585.7 -5.3,586.0 -3.1,586.5 C-1.0,587.0 1.1,588.0 3.2,588.7 C5.4,589.4 8.6,590.3 9.7,590.6" fill="none" stroke="#fff" stroke-width="1.66" stroke-linecap="round" stroke-linejoin="round" stroke-opacity="0.77"/>
<path d="M76.0,584.9 C76.9,585.0 79.4,585.3 81.1,585.3 C82.8,585.2 84.5,584.8 86.2,584.5 C87.9,584.2 90.4,583.6 91.2,583.4" fill="none" stroke="#fff" stroke-width="1.21" stroke-linecap="round" stroke-linejoin="round" stroke-opacity="0.61"/>
<path d="M22.5,586.4 C23.6,586.1 27.0,585.1 29.3,584.9 C31.5,584.8 33.9,585.2 36.2,585.4 C38.5,585.5 40.7,585.7 43.0,585.8 C45.3,585.9 48.8,585.8 50.0,585.8" fill="none" stroke="#fff" stroke-width="1.05" stroke-linecap="round" stroke-linejoin="round" stroke-opacity="0.96"/>
<path d="M56.0,581.5 C57.1,581.9 60.2,583.6 62.4,583.8 C64.6,584.1 66.9,583.4 69.2,583.0 C71.4,582.7 74.7,582.0 75.9,581.8" fill="none" stroke="#fff" stroke-width="1.69" stroke-linecap="round" stroke-linejoin="round" stroke-opacity="0.93"/>
<path d="M93.3,587.9 C93.9,588.1 95.7,588.5 96.9,588.7 C98.1,589.0 99.2,589.3 100.4,589.6 C101.6,589.9 103.3,590.5 103.9,590.7" fill="none" stroke="#fff" stroke-width="1.31" stroke-linecap="round" stroke-linejoin="round" stroke-opacity="0.87"/>
<path d="M62.6,586.0 C63.4,586.0 65.9,586.1 67.5,586.2 C69.2,586.4 70.8,586.8 72.4,586.7 C74.1,586.7 76.5,586.2 77.3,586.0" fill="none" stroke="#fff" stroke-width="1.51" stroke-linecap="round" stroke-linejoin="round" stroke-opacity="0.70"/>
<path d="M-1.9,579.3 C-0.9,579.2 2.2,578.7 4.3,578.2 C6.3,577.7 8.2,576.9 10.2,576.5 C12.3,576.0 14.4,575.9 16.4,575.5 C18.4,575.0 20.5,574.6 22.4,573.9 C24.4,573.1 27.0,571.4 27.9,570.9" fill="none" stroke="#fff" stroke-width="1.53" stroke-linecap="round" stroke-linejoin="round" stroke-opacity="0.68"/>
<path d="M22.2,570.0 C23.3,570.1 26.7,570.5 28.9,570.8 C31.1,571.2 33.3,571.7 35.5,572.1 C37.6,572.5 39.8,573.1 42.0,573.5 C44.2,573.9 46.5,574.1 48.6,574.7 C50.7,575.3 53.8,576.8 54.8,577.2" fill="none" stroke="#fff" stroke-width="1.38" stroke-linecap="round" stroke-linejoin="round" stroke-opacity="0.63"/>
<path d="M-4.1,579.2 C-3.1,578.9 0.1,578.4 2.2,577.8 C4.2,577.2 6.1,576.1 8.1,575.5 C10.2,574.9 12.3,574.6 14.4,574.2 C16.5,573.8 19.6,573.4 20.7,573.2" fill="none" stroke="#fff" stroke-width="1.52" stroke-linecap="round" stroke-linejoin="round" stroke-opacity="0.94"/>
<path d="M-6.4,591.4 C-5.4,591.7 -2.5,592.5 -0.5,592.8 C1.5,593.1 3.5,593.3 5.5,593.4 C7.5,593.4 9.5,593.1 11.6,593.1 C13.6,593.1 16.6,593.2 17.6,593.3" fill="none" stroke="#fff" stroke-width="1.46" stroke-linecap="round" stroke-linejoin="round" stroke-opacity="1.00"/>
<path d="M38.5,575.1 C39.7,574.7 43.2,573.5 45.5,572.5 C47.7,571.4 49.7,569.9 51.9,568.7 C54.0,567.6 57.4,566.1 58.5,565.5" fill="none" stroke="#fff" stroke-width="1.05" stroke-linecap="round" stroke-linejoin="round" stroke-opacity="0.63"/>
<path d="M76.8,597.5 C78.0,597.6 81.4,597.8 83.7,598.0 C85.9,598.2 88.2,598.6 90.5,598.7 C92.8,598.8 96.2,598.8 97.4,598.8" fill="none" stroke="#fff" stroke-width="1.06" stroke-linecap="round" stroke-linejoin="round" stroke-opacity="0.72"/>
<path d="M280.5,737.6 C281.4,738.4 284.1,741.3 286.2,742.8 C288.2,744.4 290.8,745.3 292.8,746.9 C294.8,748.5 297.3,751.5 298.2,752.4" fill="none" stroke="#fff" stroke-width="1.57" stroke-linecap="round" stroke-linejoin="round" stroke-opacity="0.83"/>
<path d="M311.4,752.5 C312.3,753.2 315.3,755.3 317.1,756.8 C319.0,758.3 320.7,760.0 322.6,761.4 C324.6,762.8 326.7,763.9 328.8,765.1 C330.9,766.2 334.2,767.7 335.2,768.2" fill="none" stroke="#fff" stroke-width="1.75" stroke-linecap="round" stroke-linejoin="round" stroke-opacity="0.96"/>
<path d="M209.7,662.3 C210.4,662.9 212.5,664.5 213.8,665.7 C215.1,667.0 216.3,668.3 217.5,669.6 C218.6,671.0 220.2,673.1 220.8,673.8" fill="none" stroke="#fff" stroke-width="1.64" stroke-linecap="round" stroke-linejoin="round" stroke-opacity="0.82"/>
<path d="M301.8,743.0 C302.5,743.6 304.8,745.8 306.4,747.0 C308.0,748.3 310.0,749.2 311.5,750.6 C313.0,751.9 314.2,753.6 315.6,755.2 C316.9,756.8 318.8,759.2 319.5,760.0" fill="none" stroke="#fff" stroke-width="1.77" stroke-linecap="round" stroke-linejoin="round" stroke-opacity="0.86"/>
<path d="M302.3,745.3 C302.8,745.5 304.3,745.9 305.3,746.3 C306.2,746.6 307.2,747.0 308.2,747.4 C309.1,747.8 310.6,748.5 311.0,748.7" fill="none" stroke="#fff" stroke-width="1.07" stroke-linecap="round" stroke-linejoin="round" stroke-opacity="0.85"/>
<path d="M187.7,641.5 C188.6,641.9 191.4,643.2 193.2,644.1 C195.0,645.1 197.0,645.8 198.5,647.1 C200.1,648.4 201.0,650.4 202.6,651.7 C204.1,652.9 207.0,654.2 207.9,654.7" fill="none" stroke="#fff" stroke-width="1.32" stroke-linecap="round" stroke-linejoin="round" stroke-opacity="0.74"/>
<path d="M322.9,760.0 C323.9,760.4 326.7,762.2 328.8,762.8 C330.9,763.4 333.2,763.2 335.4,763.7 C337.5,764.2 340.6,765.4 341.7,765.7" fill="none" stroke="#fff" stroke-width="1.66" stroke-linecap="round" stroke-linejoin="round" stroke-opacity="0.87"/>
<path d="M298.7,750.8 C299.6,751.5 302.2,753.7 304.0,755.1 C305.9,756.5 307.7,758.0 309.7,759.0 C311.7,760.0 314.1,760.4 316.3,761.0 C318.5,761.6 321.9,762.4 323.0,762.7" fill="none" stroke="#fff" stroke-width="1.34" stroke-linecap="round" stroke-linejoin="round" stroke-opacity="0.66"/>
<path d="M286.6,729.3 C287.5,730.1 290.5,732.4 292.4,734.0 C294.2,735.6 296.2,737.2 297.8,739.1 C299.5,740.9 300.6,743.2 302.2,745.1 C303.8,747.0 306.5,749.6 307.4,750.5" fill="none" stroke="#fff" stroke-width="1.05" stroke-linecap="round" stroke-linejoin="round" stroke-opacity="0.72"/>
<path d="M184.6,644.3 C185.1,644.7 186.7,645.9 187.7,646.7 C188.8,647.6 189.6,648.7 190.7,649.4 C191.8,650.1 193.8,650.6 194.4,650.8" fill="none" stroke="#fff" stroke-width="1.03" stroke-linecap="round" stroke-linejoin="round" stroke-opacity="0.64"/>
<path d="M192.7,652.3 C193.8,653.1 197.0,655.4 199.2,656.8 C201.4,658.2 203.8,659.4 206.1,660.8 C208.3,662.2 211.6,664.4 212.7,665.2" fill="none" stroke="#fff" stroke-width="1.14" stroke-linecap="round" stroke-linejoin="round" stroke-opacity="0.90"/>
<path d="M221.9,669.7 C222.7,670.4 225.5,672.0 226.8,673.5 C228.1,675.0 228.9,677.1 229.8,678.9 C230.6,680.8 231.5,683.8 231.8,684.8" fill="none" stroke="#fff" stroke-width="1.44" stroke-linecap="round" stroke-linejoin="round" stroke-opacity="0.98"/>
<path d="M243.7,697.8 C244.6,698.6 246.9,701.4 248.7,703.0 C250.5,704.6 252.5,706.0 254.6,707.2 C256.6,708.4 259.0,709.1 261.2,709.9 C263.5,710.8 266.9,712.0 268.0,712.4" fill="none" stroke="#fff" stroke-width="1.53" stroke-linecap="round" stroke-linejoin="round" stroke-opacity="0.70"/>
<path d="M153.6,637.8 C154.4,638.5 156.6,640.6 158.2,641.9 C159.8,643.2 161.3,644.6 163.0,645.6 C164.8,646.7 167.8,647.6 168.7,648.0" fill="none" stroke="#fff" stroke-width="1.26" stroke-linecap="round" stroke-linejoin="round" stroke-opacity="0.70"/>
<path d="M305.1,753.9 C306.2,753.7 309.4,753.4 311.5,753.1 C313.6,752.9 315.8,752.3 317.9,752.2 C320.0,752.2 323.2,752.8 324.3,752.9" fill="none" stroke="#fff" stroke-width="1.0" stroke-linecap="round" stroke-linejoin="round" stroke-opacity="0.93"/>
<path d="M298.5,749.4 C299.3,750.2 301.5,752.5 303.1,754.1 C304.6,755.6 306.1,757.2 307.7,758.7 C309.3,760.1 310.9,761.6 312.7,762.8 C314.5,764.0 317.6,765.3 318.5,765.8" fill="none" stroke="#fff" stroke-width="1.76" stroke-linecap="round" stroke-linejoin="round" stroke-opacity="0.83"/>
<path d="M309.4,745.8 C310.0,746.6 311.7,748.9 312.9,750.4 C314.1,751.9 315.4,753.3 316.5,754.8 C317.7,756.3 319.3,758.7 319.9,759.4" fill="none" stroke="#fff" stroke-width="1.43" stroke-linecap="round" stroke-linejoin="round" stroke-opacity="0.81"/>
<path d="M189.3,653.3 C189.9,653.8 191.9,655.3 193.1,656.4 C194.3,657.5 195.3,658.9 196.7,659.8 C198.0,660.7 200.4,661.6 201.1,661.9" fill="none" stroke="#fff" stroke-width="1.29" stroke-linecap="round" stroke-linejoin="round" stroke-opacity="0.87"/>
<path d="M176.8,636.4 C177.6,637.3 179.8,640.3 181.6,641.9 C183.4,643.5 185.8,644.5 187.6,646.1 C189.5,647.6 191.1,649.5 192.7,651.3 C194.4,653.1 197.0,655.7 197.8,656.6" fill="none" stroke="#fff" stroke-width="1.45" stroke-linecap="round" stroke-linejoin="round" stroke-opacity="0.78"/>
<path d="M156.5,623.7 C157.6,624.3 160.8,626.3 163.0,627.4 C165.2,628.5 167.5,629.5 169.8,630.3 C172.2,631.2 174.6,632.0 177.0,632.5 C179.4,633.0 183.2,633.2 184.4,633.3" fill="none" stroke="#fff" stroke-width="1.24" stroke-linecap="round" stroke-linejoin="round" stroke-opacity="0.73"/>
<path d="M234.8,688.8 C235.4,689.2 237.0,690.5 238.1,691.2 C239.3,692.0 240.7,692.4 241.8,693.1 C242.9,693.9 244.4,695.4 244.9,695.8" fill="none" stroke="#fff" stroke-width="1.58" stroke-linecap="round" stroke-linejoin="round" stroke-opacity="0.73"/>
<path d="M303.9,749.5 C304.4,749.8 305.7,750.8 306.8,751.2 C307.8,751.6 309.0,751.7 310.0,752.0 C311.1,752.3 312.7,752.9 313.2,753.1" fill="none" stroke="#fff" stroke-width="1.67" stroke-linecap="round" stroke-linejoin="round" stroke-opacity="0.84"/>
<path d="M178.8,642.8 C179.2,643.2 180.7,644.2 181.6,645.0 C182.6,645.7 183.6,646.4 184.4,647.2 C185.3,648.0 186.3,649.5 186.7,649.9" fill="none" stroke="#fff" stroke-width="1.41" stroke-linecap="round" stroke-linejoin="round" stroke-opacity="0.86"/>
<path d="M292.3,741.8 C293.0,742.2 295.3,743.4 296.7,744.3 C298.2,745.1 299.6,746.2 301.2,746.8 C302.7,747.5 305.2,748.0 306.1,748.2" fill="none" stroke="#fff" stroke-width="1.79" stroke-linecap="round" stroke-linejoin="round" stroke-opacity="0.92"/>
<path d="M278.3,726.8 C279.1,727.2 281.4,728.2 282.8,729.2 C284.2,730.1 285.5,731.3 286.7,732.6 C287.8,733.8 289.4,735.8 289.9,736.5" fill="none" stroke="#fff" stroke-width="1.41" stroke-linecap="round" stroke-linejoin="round" stroke-opacity="0.92"/>
<path d="M299.6,742.3 C300.3,743.1 302.4,745.4 304.0,746.7 C305.5,748.1 307.2,749.3 308.9,750.5 C310.7,751.6 312.7,752.3 314.4,753.5 C316.1,754.6 318.3,756.8 319.1,757.4" fill="none" stroke="#fff" stroke-width="1.79" stroke-linecap="round" stroke-linejoin="round" stroke-opacity="0.81"/>
<path d="M279.3,733.6 C279.7,734.6 280.8,737.8 281.7,739.8 C282.5,741.8 283.5,743.8 284.5,745.7 C285.6,747.6 287.0,749.4 288.0,751.3 C289.0,753.3 290.2,756.4 290.7,757.4" fill="none" stroke="#fff" stroke-width="1.46" stroke-linecap="round" stroke-linejoin="round" stroke-opacity="0.88"/>
<path d="M218.4,679.8 C218.9,680.7 220.7,683.3 221.3,685.2 C221.8,687.1 222.0,689.2 221.9,691.2 C221.8,693.2 221.0,696.2 220.8,697.2" fill="none" stroke="#fff" stroke-width="1.43" stroke-linecap="round" stroke-linejoin="round" stroke-opacity="0.82"/>
<path d="M260.5,705.9 C261.0,707.0 262.5,710.5 263.8,712.6 C265.2,714.6 267.4,716.1 268.7,718.2 C270.1,720.3 271.2,722.6 271.9,724.9 C272.7,727.3 273.1,731.0 273.3,732.3" fill="none" stroke="#fff" stroke-width="1.19" stroke-linecap="round" stroke-linejoin="round" stroke-opacity="0.83"/>
<path d="M299.2,755.4 C299.7,755.8 301.5,756.8 302.6,757.6 C303.7,758.4 304.7,759.3 305.7,760.1 C306.7,761.0 308.2,762.3 308.8,762.7" fill="none" stroke="#fff" stroke-width="1.53" stroke-linecap="round" stroke-linejoin="round" stroke-opacity="0.72"/>
<path d="M275.7,726.4 C276.5,727.1 278.8,729.0 280.3,730.4 C281.9,731.7 283.4,733.0 284.9,734.3 C286.4,735.7 288.1,736.8 289.6,738.2 C291.1,739.5 293.3,741.6 294.0,742.3" fill="none" stroke="#fff" stroke-width="1.11" stroke-linecap="round" stroke-linejoin="round" stroke-opacity="0.75"/>
<path d="M263.5,717.1 C264.1,717.6 265.8,719.1 267.1,720.0 C268.3,721.0 269.6,721.8 270.8,722.7 C272.1,723.5 274.0,724.8 274.7,725.2" fill="none" stroke="#fff" stroke-width="1.54" stroke-linecap="round" stroke-linejoin="round" stroke-opacity="0.66"/>
<path d="M323.8,758.1 C324.7,758.4 327.4,759.5 329.2,759.9 C331.0,760.3 333.0,760.3 334.9,760.6 C336.7,760.8 339.5,761.2 340.5,761.3" fill="none" stroke="#fff" stroke-width="1.39" stroke-linecap="round" stroke-linejoin="round" stroke-opacity="1.00"/>
<path d="M301.5,750.0 C302.5,750.2 305.4,750.7 307.3,750.8 C309.3,750.9 311.3,750.8 313.2,750.5 C315.1,750.2 317.8,749.1 318.8,748.9" fill="none" stroke="#fff" stroke-width="1.35" stroke-linecap="round" stroke-linejoin="round" stroke-opacity="0.96"/>
<path d="M212.8,675.9 C213.6,676.7 215.8,679.4 217.6,680.8 C219.4,682.3 221.6,683.2 223.6,684.3 C225.6,685.5 227.5,686.9 229.6,687.9 C231.7,688.9 235.0,689.9 236.1,690.3" fill="none" stroke="#fff" stroke-width="1.1" stroke-linecap="round" stroke-linejoin="round" stroke-opacity="0.78"/>
<path d="M253.3,703.2 C253.8,704.0 255.2,706.4 256.4,707.9 C257.5,709.3 258.8,710.7 260.0,712.0 C261.3,713.4 263.2,715.5 263.8,716.2" fill="none" stroke="#fff" stroke-width="1.19" stroke-linecap="round" stroke-linejoin="round" stroke-opacity="0.63"/>
<path d="M306.5,756.4 C307.7,756.6 311.3,757.6 313.7,757.5 C316.1,757.5 318.5,756.5 321.0,756.4 C323.4,756.2 325.8,756.3 328.3,756.4 C330.7,756.5 334.4,756.8 335.6,756.9" fill="none" stroke="#fff" stroke-width="1.45" stroke-linecap="round" stroke-linejoin="round" stroke-opacity="0.96"/>
<path d="M176.1,642.4 C177.0,643.0 179.8,644.7 181.6,645.9 C183.5,647.1 185.4,648.3 187.2,649.5 C189.1,650.7 191.8,652.5 192.8,653.1" fill="none" stroke="#fff" stroke-width="1.26" stroke-linecap="round" stroke-linejoin="round" stroke-opacity="0.63"/>
<path d="M311.4,756.0 C312.1,756.4 314.5,757.5 316.1,758.3 C317.7,759.1 319.5,759.5 320.9,760.5 C322.3,761.5 323.8,763.8 324.4,764.5" fill="none" stroke="#fff" stroke-width="1.25" stroke-linecap="round" stroke-linejoin="round" stroke-opacity="0.80"/>
<path d="M317.2,762.9 C317.8,763.2 319.9,764.0 320.9,764.8 C321.9,765.7 322.6,767.0 323.4,768.2 C324.2,769.3 325.2,771.1 325.6,771.7" fill="none" stroke="#fff" stroke-width="1.67" stroke-linecap="round" stroke-linejoin="round" stroke-opacity="0.74"/>
<path d="M241.3,696.8 C241.9,697.9 244.2,701.0 245.1,703.2 C246.1,705.5 246.7,708.0 247.1,710.4 C247.6,712.9 248.2,715.4 248.1,717.9 C247.9,720.3 246.5,723.9 246.1,725.1" fill="none" stroke="#fff" stroke-width="1.58" stroke-linecap="round" stroke-linejoin="round" stroke-opacity="0.73"/>
<path d="M308.6,751.7 C309.6,752.2 312.5,754.1 314.5,755.0 C316.6,756.0 318.7,757.1 320.9,757.4 C323.1,757.7 325.4,757.1 327.6,756.8 C329.9,756.5 333.2,755.8 334.3,755.6" fill="none" stroke="#fff" stroke-width="1.18" stroke-linecap="round" stroke-linejoin="round" stroke-opacity="0.72"/>
<path d="M286.1,734.1 C286.7,734.4 288.5,735.8 289.8,736.4 C291.2,736.9 292.7,737.2 294.1,737.4 C295.6,737.6 297.8,737.6 298.5,737.6" fill="none" stroke="#fff" stroke-width="1.71" stroke-linecap="round" stroke-linejoin="round" stroke-opacity="0.84"/>
<path d="M206.1,655.1 C206.8,656.2 209.2,659.2 210.2,661.5 C211.3,663.7 212.3,666.2 212.5,668.7 C212.6,671.1 211.3,674.9 211.1,676.1" fill="none" stroke="#fff" stroke-width="1.35" stroke-linecap="round" stroke-linejoin="round" stroke-opacity="0.81"/>
<path d="M254.1,714.0 C254.6,714.5 256.6,716.0 257.5,717.2 C258.4,718.5 259.0,720.1 259.6,721.5 C260.2,723.0 260.8,725.3 261.1,726.0" fill="none" stroke="#fff" stroke-width="1.6" stroke-linecap="round" stroke-linejoin="round" stroke-opacity="0.70"/>
<path d="M210.1,664.1 C210.9,665.0 213.3,667.4 215.0,669.0 C216.6,670.7 218.1,672.6 219.9,673.9 C221.8,675.2 224.1,675.9 226.1,677.0 C228.2,678.1 231.1,679.9 232.1,680.5" fill="none" stroke="#fff" stroke-width="1.4" stroke-linecap="round" stroke-linejoin="round" stroke-opacity="0.67"/>
<path d="M253.7,717.3 C254.6,718.2 257.1,720.9 258.8,722.7 C260.4,724.5 261.8,726.7 263.6,728.3 C265.4,730.0 268.6,732.0 269.6,732.7" fill="none" stroke="#fff" stroke-width="1.55" stroke-linecap="round" stroke-linejoin="round" stroke-opacity="0.81"/>
<path d="M323.2,760.9 C323.7,761.2 325.4,762.3 326.6,762.9 C327.8,763.5 329.0,764.0 330.2,764.5 C331.4,764.9 333.3,765.5 333.9,765.7" fill="none" stroke="#fff" stroke-width="1.63" stroke-linecap="round" stroke-linejoin="round" stroke-opacity="0.92"/>
<path d="M52.2,556.7 C52.8,557.4 54.7,559.4 56.1,560.7 C57.4,562.0 58.8,563.3 60.2,564.5 C61.5,565.8 63.6,567.7 64.3,568.4" fill="none" stroke="#fff" stroke-width="1.34" stroke-linecap="round" stroke-linejoin="round" stroke-opacity="0.95"/>
<path d="M52.8,549.2 C53.3,549.6 54.6,550.8 55.6,551.5 C56.6,552.2 57.7,552.6 58.8,553.2 C59.8,553.8 61.3,554.8 61.8,555.1" fill="none" stroke="#fff" stroke-width="1.04" stroke-linecap="round" stroke-linejoin="round" stroke-opacity="0.96"/>
<path d="M75.8,579.1 C76.7,579.6 79.2,581.2 80.8,582.4 C82.4,583.5 83.9,584.8 85.4,586.1 C86.8,587.5 88.7,589.7 89.4,590.5" fill="none" stroke="#fff" stroke-width="1.37" stroke-linecap="round" stroke-linejoin="round" stroke-opacity="0.81"/>
<path d="M55.9,555.0 C56.6,555.9 58.5,558.3 59.7,559.9 C60.9,561.6 62.1,563.3 63.1,565.1 C64.2,566.9 65.4,569.8 65.8,570.7" fill="none" stroke="#fff" stroke-width="1.5" stroke-linecap="round" stroke-linejoin="round" stroke-opacity="0.91"/>
<path d="M34.6,550.1 C35.3,550.5 37.5,551.9 39.0,552.8 C40.4,553.7 41.8,554.8 43.2,555.8 C44.6,556.7 46.7,558.2 47.4,558.7" fill="none" stroke="#fff" stroke-width="1.59" stroke-linecap="round" stroke-linejoin="round" stroke-opacity="0.66"/>
<path d="M71.3,564.4 C72.1,565.3 74.6,567.9 76.1,569.7 C77.7,571.5 79.0,573.5 80.5,575.4 C82.0,577.2 84.4,579.8 85.2,580.7" fill="none" stroke="#fff" stroke-width="1.25" stroke-linecap="round" stroke-linejoin="round" stroke-opacity="0.63"/>
<path d="M29.2,542.9 C30.2,543.2 33.4,543.8 35.5,544.3 C37.6,544.7 39.8,545.1 41.8,545.7 C43.9,546.3 45.8,547.4 47.9,548.1 C49.9,548.7 53.1,549.4 54.2,549.6" fill="none" stroke="#fff" stroke-width="1.28" stroke-linecap="round" stroke-linejoin="round" stroke-opacity="0.97"/>
<path d="M71.5,552.8 C71.9,553.8 73.1,556.8 73.8,558.7 C74.4,560.7 75.0,562.8 75.7,564.8 C76.4,566.8 77.5,569.7 77.9,570.7" fill="none" stroke="#fff" stroke-width="1.21" stroke-linecap="round" stroke-linejoin="round" stroke-opacity="0.88"/>
<path d="M109.6,588.7 C110.5,588.9 113.3,589.2 115.0,589.7 C116.7,590.2 118.2,591.4 119.9,592.0 C121.7,592.5 124.4,592.7 125.3,592.9" fill="none" stroke="#fff" stroke-width="1.13" stroke-linecap="round" stroke-linejoin="round" stroke-opacity="0.74"/>
<path d="M51.6,551.2 C52.2,551.5 53.9,552.4 54.9,553.2 C56.0,553.9 56.8,555.0 57.8,555.8 C58.7,556.7 60.3,557.9 60.8,558.3" fill="none" stroke="#fff" stroke-width="1.6" stroke-linecap="round" stroke-linejoin="round" stroke-opacity="0.87"/>
<path d="M108.6,595.6 C109.0,595.9 110.2,597.0 111.0,597.6 C111.9,598.2 112.8,598.6 113.7,599.1 C114.6,599.6 116.0,600.4 116.4,600.6" fill="none" stroke="#fff" stroke-width="1.11" stroke-linecap="round" stroke-linejoin="round" stroke-opacity="0.70"/>
<path d="M65.1,569.0 C65.7,569.3 67.6,570.3 68.8,571.1 C70.0,571.9 71.2,572.7 72.3,573.6 C73.4,574.5 74.8,576.1 75.3,576.6" fill="none" stroke="#fff" stroke-width="1.46" stroke-linecap="round" stroke-linejoin="round" stroke-opacity="0.89"/>
<path d="M108.7,599.0 C109.2,599.7 110.7,601.8 111.4,603.2 C112.1,604.7 112.4,606.4 113.1,607.9 C113.8,609.4 115.2,611.5 115.6,612.2" fill="none" stroke="#fff" stroke-width="1.31" stroke-linecap="round" stroke-linejoin="round" stroke-opacity="0.62"/>
<path d="M70.5,564.3 C71.0,564.7 72.3,565.8 73.3,566.6 C74.2,567.3 75.1,568.1 76.1,568.8 C77.0,569.5 78.6,570.4 79.0,570.8" fill="none" stroke="#fff" stroke-width="1.33" stroke-linecap="round" stroke-linejoin="round" stroke-opacity="0.65"/>
<path d="M92.2,579.8 C92.9,580.7 95.0,583.3 96.2,585.1 C97.5,587.0 98.5,589.0 99.7,590.8 C100.8,592.7 102.8,595.4 103.4,596.3" fill="none" stroke="#fff" stroke-width="1.24" stroke-linecap="round" stroke-linejoin="round" stroke-opacity="0.75"/>
<path d="M107.4,593.8 C108.0,594.3 109.7,595.9 110.9,597.0 C112.0,598.1 113.2,599.1 114.1,600.4 C115.0,601.7 116.0,603.9 116.3,604.6" fill="none" stroke="#fff" stroke-width="1.34" stroke-linecap="round" stroke-linejoin="round" stroke-opacity="0.92"/>
<path d="M115.3,595.2 C116.0,595.9 118.2,598.2 119.2,599.9 C120.3,601.6 120.6,603.8 121.6,605.6 C122.6,607.3 123.7,609.2 125.2,610.5 C126.7,611.8 129.7,612.9 130.6,613.4" fill="none" stroke="#fff" stroke-width="1.38" stroke-linecap="round" stroke-linejoin="round" stroke-opacity="0.64"/>
<path d="M73.5,562.6 C74.0,563.2 75.5,565.3 76.6,566.5 C77.8,567.7 79.2,568.7 80.2,570.0 C81.3,571.3 82.5,573.5 83.0,574.2" fill="none" stroke="#fff" stroke-width="1.24" stroke-linecap="round" stroke-linejoin="round" stroke-opacity="0.79"/>
<path d="M44.2,552.1 C45.1,552.7 47.8,554.7 49.7,555.9 C51.6,557.0 53.7,557.8 55.5,559.0 C57.4,560.2 59.9,562.4 60.8,563.1" fill="none" stroke="#fff" stroke-width="1.42" stroke-linecap="round" stroke-linejoin="round" stroke-opacity="0.82"/>
<path d="M91.6,588.9 C92.0,589.2 93.1,589.9 93.8,590.6 C94.5,591.2 95.1,592.0 95.7,592.7 C96.3,593.4 97.1,594.5 97.4,594.9" fill="none" stroke="#fff" stroke-width="1.35" stroke-linecap="round" stroke-linejoin="round" stroke-opacity="0.79"/>
<path d="M20.3,600.8 C20.9,601.0 22.8,601.4 23.9,601.9 C25.1,602.4 26.2,603.2 27.3,603.8 C28.5,604.3 30.4,604.8 31.0,605.0" fill="none" stroke="#fff" stroke-width="0.81" stroke-linecap="round" stroke-linejoin="round" stroke-opacity="0.59"/>
<path d="M38.6,609.0 C39.8,609.1 43.4,609.1 45.7,609.7 C48.0,610.2 50.0,611.7 52.2,612.5 C54.5,613.3 57.9,614.2 59.1,614.5" fill="none" stroke="#fff" stroke-width="0.95" stroke-linecap="round" stroke-linejoin="round" stroke-opacity="0.57"/>
<path d="M13.1,594.3 C14.2,594.4 17.5,594.7 19.6,595.0 C21.8,595.3 23.9,595.7 26.1,596.0 C28.2,596.3 31.5,596.7 32.6,596.8" fill="none" stroke="#fff" stroke-width="0.89" stroke-linecap="round" stroke-linejoin="round" stroke-opacity="0.54"/>
<path d="M73.1,605.1 C73.7,605.2 75.3,605.5 76.4,605.7 C77.5,605.8 78.7,606.0 79.8,606.0 C80.9,606.1 82.6,606.0 83.1,605.9" fill="none" stroke="#fff" stroke-width="0.94" stroke-linecap="round" stroke-linejoin="round" stroke-opacity="0.50"/>
<path d="M30.9,603.2 C31.9,603.1 34.8,603.1 36.6,602.5 C38.4,602.0 40.1,601.0 41.7,600.0 C43.4,599.1 45.6,597.3 46.4,596.8" fill="none" stroke="#fff" stroke-width="0.91" stroke-linecap="round" stroke-linejoin="round" stroke-opacity="0.75"/>
<path d="M16.2,599.4 C17.2,599.2 20.1,598.2 22.1,598.2 C24.0,598.1 26.0,598.9 28.0,599.1 C30.0,599.3 33.0,599.5 34.0,599.6" fill="none" stroke="#fff" stroke-width="0.99" stroke-linecap="round" stroke-linejoin="round" stroke-opacity="0.63"/>
<path d="M23.0,604.8 C23.7,604.7 25.6,604.5 27.0,604.4 C28.3,604.2 29.6,604.0 31.0,604.0 C32.3,604.0 34.3,604.2 35.0,604.3" fill="none" stroke="#fff" stroke-width="1.01" stroke-linecap="round" stroke-linejoin="round" stroke-opacity="0.45"/>
<path d="M0.5,598.6 C0.9,598.8 2.3,599.4 3.1,600.0 C3.9,600.5 4.7,601.2 5.4,601.8 C6.2,602.5 7.2,603.6 7.5,604.0" fill="none" stroke="#fff" stroke-width="0.8" stroke-linecap="round" stroke-linejoin="round" stroke-opacity="0.75"/>
<path d="M348.3,687.9 C348.6,688.1 349.6,688.6 350.3,689.0 C350.9,689.4 351.5,689.9 352.1,690.2 C352.8,690.6 353.9,690.9 354.2,691.1" fill="none" stroke="#fff" stroke-width="1.33" stroke-linecap="round" stroke-linejoin="round" stroke-opacity="0.65"/>
<path d="M257.8,657.1 C258.7,657.3 261.4,658.0 263.3,658.2 C265.1,658.4 267.0,658.4 268.8,658.3 C270.7,658.2 273.4,657.9 274.3,657.9" fill="none" stroke="#fff" stroke-width="1.4" stroke-linecap="round" stroke-linejoin="round" stroke-opacity="0.86"/>
<path d="M230.9,641.6 C231.4,641.8 233.2,642.4 234.4,642.9 C235.6,643.3 236.7,643.7 237.9,644.2 C239.1,644.7 240.8,645.4 241.4,645.6" fill="none" stroke="#fff" stroke-width="1.48" stroke-linecap="round" stroke-linejoin="round" stroke-opacity="0.56"/>
<path d="M316.0,677.7 C316.7,677.7 318.8,677.5 320.0,677.9 C321.2,678.3 322.1,679.5 323.2,680.1 C324.4,680.8 326.3,681.3 327.0,681.5" fill="none" stroke="#fff" stroke-width="0.97" stroke-linecap="round" stroke-linejoin="round" stroke-opacity="0.52"/>
<path d="M247.4,661.5 C248.2,661.8 250.6,663.0 252.3,663.8 C253.9,664.5 255.6,665.2 257.2,666.0 C258.8,666.7 261.3,668.0 262.1,668.4" fill="none" stroke="#fff" stroke-width="1.12" stroke-linecap="round" stroke-linejoin="round" stroke-opacity="0.64"/>
<path d="M330.3,686.8 C331.2,687.2 333.8,688.8 335.6,689.4 C337.5,690.0 339.5,690.4 341.4,690.5 C343.4,690.7 346.4,690.3 347.3,690.3" fill="none" stroke="#fff" stroke-width="1.32" stroke-linecap="round" stroke-linejoin="round" stroke-opacity="0.75"/>
<path d="M334.7,688.6 C335.2,688.8 336.4,689.3 337.2,689.7 C338.0,690.1 338.8,690.6 339.5,691.0 C340.3,691.5 341.5,692.0 341.9,692.2" fill="none" stroke="#fff" stroke-width="1.09" stroke-linecap="round" stroke-linejoin="round" stroke-opacity="0.51"/>
<path d="M296.6,678.5 C297.0,678.5 298.3,678.7 299.2,678.8 C300.1,678.9 301.0,678.9 301.9,679.1 C302.7,679.4 304.0,679.9 304.4,680.1" fill="none" stroke="#fff" stroke-width="0.93" stroke-linecap="round" stroke-linejoin="round" stroke-opacity="0.53"/>
<path d="M348.4,695.5 C348.9,695.8 350.5,696.8 351.6,696.9 C352.6,697.0 353.8,696.3 354.9,696.0 C356.0,695.7 357.7,695.4 358.3,695.3" fill="none" stroke="#fff" stroke-width="1.19" stroke-linecap="round" stroke-linejoin="round" stroke-opacity="0.69"/>
<path d="M331.8,697.1 C332.4,697.4 334.0,698.5 335.2,699.0 C336.3,699.6 337.5,700.1 338.7,700.4 C340.0,700.7 341.9,700.9 342.6,700.9" fill="none" stroke="#fff" stroke-width="1.42" stroke-linecap="round" stroke-linejoin="round" stroke-opacity="0.95"/>
<path d="M267.5,682.2 C268.4,682.4 271.3,683.0 273.2,683.6 C275.1,684.2 276.9,685.0 278.7,685.7 C280.5,686.4 283.2,687.5 284.2,687.9" fill="none" stroke="#fff" stroke-width="1.12" stroke-linecap="round" stroke-linejoin="round" stroke-opacity="0.84"/>
<path d="M253.1,662.3 C253.8,662.7 255.7,663.7 257.0,664.4 C258.3,665.1 259.6,665.8 260.9,666.5 C262.2,667.2 264.1,668.3 264.7,668.6" fill="none" stroke="#fff" stroke-width="1.38" stroke-linecap="round" stroke-linejoin="round" stroke-opacity="0.83"/>
<path d="M266.9,663.8 C267.9,664.0 270.7,664.4 272.6,664.9 C274.5,665.3 276.3,665.9 278.1,666.4 C280.0,666.9 282.8,667.7 283.7,667.9" fill="none" stroke="#fff" stroke-width="1.32" stroke-linecap="round" stroke-linejoin="round" stroke-opacity="0.61"/>
<path d="M354.1,693.7 C354.4,693.8 355.5,694.0 356.2,694.0 C356.9,694.1 357.6,693.9 358.3,694.0 C359.0,694.0 360.0,694.2 360.4,694.2" fill="none" stroke="#fff" stroke-width="1.12" stroke-linecap="round" stroke-linejoin="round" stroke-opacity="0.79"/>
<path d="M265.6,655.9 C266.1,656.1 267.7,656.6 268.7,657.1 C269.7,657.6 270.6,658.2 271.6,658.8 C272.5,659.4 273.8,660.4 274.2,660.7" fill="none" stroke="#fff" stroke-width="1.35" stroke-linecap="round" stroke-linejoin="round" stroke-opacity="0.75"/>
<path d="M315.9,679.7 C316.3,679.9 317.6,680.5 318.5,680.9 C319.4,681.2 320.3,681.3 321.2,681.7 C322.1,682.0 323.3,682.7 323.7,682.9" fill="none" stroke="#fff" stroke-width="1.14" stroke-linecap="round" stroke-linejoin="round" stroke-opacity="0.64"/>
<path d="M286.8,674.7 C287.6,675.5 289.8,677.8 291.5,679.2 C293.1,680.5 295.2,681.4 296.7,682.9 C298.2,684.4 300.0,687.2 300.6,688.0" fill="none" stroke="#fff" stroke-width="1.16" stroke-linecap="round" stroke-linejoin="round" stroke-opacity="0.93"/>
<path d="M235.3,664.1 C235.9,664.3 237.7,665.1 238.9,665.5 C240.1,666.0 241.5,666.2 242.6,666.8 C243.7,667.4 245.2,668.7 245.8,669.1" fill="none" stroke="#fff" stroke-width="1.01" stroke-linecap="round" stroke-linejoin="round" stroke-opacity="0.66"/>
<path d="M366.6,697.6 C367.0,697.6 368.4,697.7 369.3,697.7 C370.2,697.7 371.1,697.7 372.0,697.6 C372.9,697.6 374.2,697.3 374.6,697.2" fill="none" stroke="#fff" stroke-width="1.41" stroke-linecap="round" stroke-linejoin="round" stroke-opacity="0.78"/>
<path d="M287.0,665.0 C287.6,665.5 289.3,667.1 290.5,668.1 C291.6,669.1 292.8,670.1 294.2,670.9 C295.5,671.7 297.7,672.6 298.4,672.9" fill="none" stroke="#fff" stroke-width="1.13" stroke-linecap="round" stroke-linejoin="round" stroke-opacity="0.60"/>
<path d="M300.8,674.2 C301.5,674.4 303.8,675.1 305.3,675.4 C306.8,675.7 308.4,675.8 309.9,675.9 C311.5,675.9 313.8,675.7 314.6,675.6" fill="none" stroke="#fff" stroke-width="1.46" stroke-linecap="round" stroke-linejoin="round" stroke-opacity="0.57"/>
<path d="M277.4,666.2 C278.5,666.5 281.7,667.2 283.9,667.5 C286.1,667.9 288.4,668.9 290.4,668.5 C292.5,668.2 295.4,666.1 296.4,665.6" fill="none" stroke="#fff" stroke-width="0.98" stroke-linecap="round" stroke-linejoin="round" stroke-opacity="0.95"/>
<path d="M281.9,679.7 C282.4,679.9 284.0,680.1 284.9,680.5 C285.8,680.9 286.6,681.7 287.5,682.2 C288.4,682.7 289.8,683.3 290.3,683.5" fill="none" stroke="#fff" stroke-width="1.5" stroke-linecap="round" stroke-linejoin="round" stroke-opacity="0.53"/>
<path d="M343.9,686.6 C344.6,687.1 346.7,688.9 348.2,689.8 C349.7,690.7 351.5,691.1 353.1,691.9 C354.7,692.6 357.0,693.9 357.8,694.3" fill="none" stroke="#fff" stroke-width="1.07" stroke-linecap="round" stroke-linejoin="round" stroke-opacity="0.79"/>
<path d="M220.6,640.3 C221.3,640.5 223.5,641.3 224.9,641.8 C226.4,642.3 227.9,642.6 229.2,643.3 C230.5,644.1 232.1,645.8 232.7,646.3" fill="none" stroke="#fff" stroke-width="1.23" stroke-linecap="round" stroke-linejoin="round" stroke-opacity="0.91"/>
<path d="M335.7,683.0 C336.1,683.1 337.5,683.5 338.3,683.8 C339.1,684.2 339.9,684.7 340.7,685.1 C341.5,685.5 342.6,686.2 343.0,686.5" fill="none" stroke="#fff" stroke-width="0.97" stroke-linecap="round" stroke-linejoin="round" stroke-opacity="0.58"/>
<path d="M171.5,651.4 C172.6,651.7 176.0,652.1 177.9,653.2 C179.7,654.4 181.1,656.3 182.4,658.1 C183.6,659.9 185.0,663.0 185.5,664.0" fill="none" stroke="#fff" stroke-width="1.23" stroke-linecap="round" stroke-linejoin="round" stroke-opacity="0.76"/>
<path d="M143.8,638.8 C144.5,639.4 146.7,641.4 148.2,642.6 C149.7,643.8 151.4,644.7 152.9,645.9 C154.4,647.2 156.3,649.3 157.0,649.9" fill="none" stroke="#fff" stroke-width="1.06" stroke-linecap="round" stroke-linejoin="round" stroke-opacity="0.75"/>
<path d="M149.2,634.4 C149.7,634.6 151.2,635.3 152.1,635.8 C153.1,636.3 154.0,636.9 155.0,637.5 C155.9,638.0 157.2,639.0 157.7,639.3" fill="none" stroke="#fff" stroke-width="0.91" stroke-linecap="round" stroke-linejoin="round" stroke-opacity="0.50"/>
<path d="M229.6,711.9 C230.4,712.5 232.9,714.2 234.5,715.2 C236.2,716.2 238.1,717.0 239.7,718.1 C241.3,719.2 243.4,721.3 244.2,721.9" fill="none" stroke="#fff" stroke-width="0.95" stroke-linecap="round" stroke-linejoin="round" stroke-opacity="0.81"/>
<path d="M168.4,662.8 C169.1,663.2 171.2,664.4 172.7,664.9 C174.2,665.5 175.8,665.6 177.3,666.3 C178.7,666.9 180.7,668.3 181.4,668.7" fill="none" stroke="#fff" stroke-width="0.87" stroke-linecap="round" stroke-linejoin="round" stroke-opacity="0.84"/>
<path d="M153.1,647.8 C154.1,648.3 157.2,649.6 159.1,650.7 C161.0,651.9 162.6,653.5 164.4,654.7 C166.3,656.0 169.1,657.7 170.1,658.2" fill="none" stroke="#fff" stroke-width="0.97" stroke-linecap="round" stroke-linejoin="round" stroke-opacity="0.43"/>
<path d="M177.6,657.4 C178.1,657.8 179.6,659.1 180.7,659.8 C181.8,660.6 183.0,661.2 184.0,662.0 C185.0,662.9 186.1,664.6 186.5,665.1" fill="none" stroke="#fff" stroke-width="0.95" stroke-linecap="round" stroke-linejoin="round" stroke-opacity="0.47"/>
<path d="M223.0,705.1 C223.4,705.5 224.9,706.8 225.7,707.8 C226.6,708.7 227.1,710.0 228.0,710.8 C228.9,711.7 230.7,712.6 231.2,713.0" fill="none" stroke="#fff" stroke-width="0.76" stroke-linecap="round" stroke-linejoin="round" stroke-opacity="0.85"/>
<circle cx="201" cy="572" r="0.9" fill="#fff"/>
<circle cx="204" cy="578" r="0.9" fill="#fff"/>
<circle cx="196" cy="574" r="0.9" fill="#fff"/>
<circle cx="190" cy="584" r="0.9" fill="#fff"/>
<circle cx="302" cy="631" r="0.9" fill="#fff"/>
<circle cx="254" cy="648" r="0.9" fill="#fff"/>
<circle cx="366" cy="676" r="0.9" fill="#fff"/>
<path d="M180.0,624.0 C181.7,624.7 186.7,626.6 190.0,628.0 C193.3,629.4 197.8,631.6 200.0,632.5 C202.2,633.4 202.5,633.3 203.0,633.5" fill="none" stroke="#fff" stroke-width="1.3" stroke-linecap="round" stroke-linejoin="round" />
<path d="M203.0,633.5 C203.7,633.0 205.5,631.2 207.0,630.5 C208.5,629.8 210.2,629.5 212.0,629.5 C213.8,629.5 217.0,630.3 218.0,630.5" fill="none" stroke="#fff" stroke-width="1.3" stroke-linecap="round" stroke-linejoin="round" />
<path d="M172.0,645.0 C173.7,645.7 178.7,647.8 182.0,649.0 C185.3,650.2 189.0,651.0 192.0,652.0 C195.0,653.0 198.2,653.8 200.0,655.0 C201.8,656.2 202.8,657.8 203.0,659.0 C203.2,660.2 202.5,662.0 201.0,662.5 C199.5,663.0 196.5,662.4 194.0,662.0 C191.5,661.6 187.3,660.3 186.0,660.0" fill="none" stroke="#fff" stroke-width="1.4" stroke-linecap="round" stroke-linejoin="round" />
<path d="M170.0,650.0 C171.3,651.0 175.3,654.0 178.0,656.0 C180.7,658.0 183.3,660.0 186.0,662.0 C188.7,664.0 192.7,667.0 194.0,668.0" fill="none" stroke="#fff" stroke-width="1.3" stroke-linecap="round" stroke-linejoin="round" stroke-opacity="0.8"/>
<path d="M166.5,707.0 C166.8,706.0 167.2,703.0 168.0,701.0 C168.8,699.0 169.9,696.6 171.4,695.0 C172.9,693.4 175.1,692.3 177.0,691.5 C178.9,690.7 181.2,690.2 182.9,690.4 C184.6,690.6 186.0,691.7 187.0,692.5 C188.0,693.3 188.7,694.6 189.0,695.0" fill="none" stroke="#fff" stroke-width="1.9" stroke-linecap="round" stroke-linejoin="round" />
<path d="M172.0,700.0 C173.0,699.3 176.0,696.7 178.0,696.0 C180.0,695.3 183.0,696.0 184.0,696.0" fill="none" stroke="#fff" stroke-width="1.6" stroke-linecap="round" stroke-linejoin="round" stroke-opacity="0.7"/>
<ellipse cx="198.8" cy="698.4" rx="5.2" ry="4.2" fill="#fff"/>
<path d="M190.0,703.0 C191.0,703.2 193.8,704.5 196.0,704.5 C198.2,704.5 201.8,703.2 203.0,703.0" fill="none" stroke="#fff" stroke-width="2" stroke-linecap="round" stroke-linejoin="round" stroke-opacity="0.8"/>
</g>
<ellipse cx="190" cy="699" rx="17" ry="8" fill="#fff" fill-opacity="0.28" filter="url(#blur3)"/>
<rect x="178.3" y="619.7" width="44.6" height="16.7" fill="none" stroke="#e6e6e6" stroke-width="1.4" stroke-dasharray="4.4 2.2"/>
<rect x="167.9" y="641.7" width="40.7" height="22.6" fill="none" stroke="#e6e6e6" stroke-width="1.4" stroke-dasharray="4.4 2.2"/>
<path d="M104,606.8 L167.9,641.7 M104,754 L167.9,664.3 M222.9,619.7 L260.2,554.8 M222.9,636.4 L260.2,670.9" fill="none" stroke="#e6e6e6" stroke-width="1.4" stroke-dasharray="4.4 2.2"/>
</g>
<text x="120.8" y="568.4" font-size="15.8" text-anchor="start" fill="#fff" font-weight="normal" textLength="113.0" lengthAdjust="spacingAndGlyphs" >Cardiomyocyte</text>
<rect x="1.9" y="607" width="101.69999999999999" height="146.60000000000002" fill="#202020"/>
<clipPath id="ciL"><rect x="1.9" y="607" width="101.69999999999999" height="146.60000000000002"/></clipPath>
<g clip-path="url(#ciL)"><g filter="url(#microI)">
<path d="M3.9,609.4 C4.8,609.5 7.0,609.6 9.0,610.0 C11.0,610.4 13.0,610.3 15.7,611.8 C18.4,613.3 21.7,616.1 25.1,618.9 C28.5,621.6 32.4,625.5 36.1,628.3 C39.8,631.0 43.4,633.0 47.1,635.4 C50.8,637.8 54.7,639.9 58.1,642.4 C61.5,644.9 65.5,648.7 67.6,650.3 C69.7,651.9 70.2,651.6 70.7,651.9" fill="none" stroke="#fff" stroke-width="1.48" stroke-linecap="round" stroke-linejoin="round" stroke-opacity="0.95"/>
<path d="M70.7,651.9 C72.0,652.0 75.2,652.4 78.6,652.6 C82.0,652.9 88.0,653.3 91.1,653.4 C94.2,653.5 95.5,653.4 97.0,653.0 C98.5,652.6 99.4,652.0 100.0,651.0 C100.6,650.0 100.7,648.6 100.6,647.1 C100.5,645.6 100.0,643.6 99.6,642.0 C99.2,640.4 98.9,639.3 98.2,637.7 C97.5,636.1 96.5,634.1 95.6,632.5 C94.7,630.9 94.0,629.8 92.7,628.3 C91.4,626.8 88.8,624.4 88.0,623.6" fill="none" stroke="#fff" stroke-width="1.64" stroke-linecap="round" stroke-linejoin="round" stroke-opacity="0.95"/>
<path d="M33.8,614.1 C35.5,614.9 40.5,617.5 44.0,618.9 C47.5,620.3 52.2,622.2 55.0,622.8 C57.8,623.4 58.7,622.7 60.5,622.4 C62.3,622.1 63.5,621.3 66.0,621.2 C68.5,621.1 71.7,621.6 75.4,622.0 C79.1,622.4 85.9,623.3 88.0,623.6" fill="none" stroke="#fff" stroke-width="1.48" stroke-linecap="round" stroke-linejoin="round" stroke-opacity="0.9"/>
<path d="M66.0,625.9 C67.0,625.8 69.9,625.3 72.0,625.2 C74.1,625.1 76.2,624.7 78.6,625.1 C81.0,625.5 85.1,627.1 86.4,627.5" fill="none" stroke="#fff" stroke-width="1.87" stroke-linecap="round" stroke-linejoin="round" stroke-opacity="0.8"/>
<path d="M25.9,629.1 C26.2,629.8 27.1,632.1 28.0,633.5 C28.9,634.9 29.2,636.0 31.4,637.7 C33.5,639.5 37.8,641.9 40.9,644.0 C44.0,646.1 47.4,648.6 50.3,650.3 C53.2,652.0 56.8,653.6 58.1,654.2" fill="none" stroke="#fff" stroke-width="1.4" stroke-linecap="round" stroke-linejoin="round" stroke-opacity="0.9"/>
<path d="M3.1,658.6 C3.9,658.6 6.4,658.5 8.0,658.6 C9.6,658.7 10.5,658.4 12.6,659.4 C14.7,660.4 17.5,662.8 20.4,664.9 C23.3,667.0 26.8,669.5 29.9,672.0 C33.0,674.5 35.9,677.4 39.3,679.9 C42.7,682.4 46.9,684.7 50.3,686.9 C53.7,689.1 58.1,692.2 59.7,693.2" fill="none" stroke="#fff" stroke-width="1.48" stroke-linecap="round" stroke-linejoin="round" stroke-opacity="0.95"/>
<path d="M26.7,680.6 C27.2,681.2 28.4,683.3 29.5,684.5 C30.6,685.7 30.9,686.0 33.0,687.7 C35.1,689.4 39.2,692.7 42.4,694.8 C45.5,696.9 49.3,698.7 51.9,700.3 C54.5,701.9 57.1,703.6 58.1,704.2" fill="none" stroke="#fff" stroke-width="1.4" stroke-linecap="round" stroke-linejoin="round" stroke-opacity="0.9"/>
<path d="M37.7,667.3 C39.3,667.7 44.0,668.7 47.1,669.6 C50.2,670.5 54.3,672.5 56.6,672.8 C58.9,673.1 59.4,672.0 61.0,671.6 C62.6,671.2 63.6,670.3 66.0,670.4 C68.4,670.5 72.2,671.2 75.4,672.0 C78.6,672.8 82.0,673.8 84.9,675.1 C87.8,676.4 90.4,678.1 92.7,679.9 C95.0,681.7 97.7,683.8 99.0,686.1 C100.3,688.5 100.4,691.9 100.6,694.0 C100.8,696.1 100.4,697.3 100.0,698.5 C99.6,699.7 99.2,700.5 98.2,701.1 C97.2,701.8 95.7,702.1 94.0,702.4 C92.3,702.6 91.1,702.7 88.0,702.6 C84.9,702.5 78.8,702.4 75.4,701.9 C72.0,701.4 68.9,699.9 67.6,699.5" fill="none" stroke="#fff" stroke-width="1.56" stroke-linecap="round" stroke-linejoin="round" stroke-opacity="0.95"/>
<path d="M65.2,675.1 C66.9,675.1 72.1,674.6 75.4,675.1 C78.7,675.6 83.3,677.8 84.9,678.3" fill="none" stroke="#fff" stroke-width="1.87" stroke-linecap="round" stroke-linejoin="round" stroke-opacity="0.8"/>
<path d="M3.1,665.7 L7.1,668.9" fill="none" stroke="#fff" stroke-width="1.4" stroke-linecap="round" stroke-linejoin="round" stroke-opacity="0.8"/>
<path d="M11.0,706.6 L20.4,712.9" fill="none" stroke="#fff" stroke-width="1.56" stroke-linecap="round" stroke-linejoin="round" stroke-opacity="0.95"/>
<path d="M26.7,719.1 C28.3,720.1 33.0,723.3 36.1,725.4 C39.2,727.5 42.7,729.9 45.6,731.7 C48.5,733.5 51.0,735.0 53.4,736.4 C55.8,737.8 58.7,739.7 59.7,740.4" fill="none" stroke="#fff" stroke-width="1.56" stroke-linecap="round" stroke-linejoin="round" stroke-opacity="0.95"/>
<path d="M25.9,729.4 C26.4,730.0 27.8,732.0 29.0,733.2 C30.2,734.4 31.0,734.8 33.0,736.4 C35.0,738.0 38.0,740.7 40.9,742.7 C43.8,744.7 47.4,746.5 50.3,748.2 C53.2,749.9 56.8,752.1 58.1,752.9" fill="none" stroke="#fff" stroke-width="1.4" stroke-linecap="round" stroke-linejoin="round" stroke-opacity="0.9"/>
<path d="M36.9,715.2 C38.6,715.5 43.8,716.0 47.1,716.8 C50.4,717.6 54.3,719.5 56.6,719.9 C58.9,720.3 59.4,719.6 61.0,719.4 C62.6,719.1 63.3,718.0 66.0,718.4 C68.7,718.8 73.6,720.5 77.0,721.5 C80.4,722.5 83.5,723.4 86.4,724.6 C89.3,725.8 92.1,726.8 94.3,728.6 C96.5,730.4 98.8,733.7 99.8,735.6 C100.8,737.5 100.4,738.5 100.4,740.0 C100.4,741.5 100.0,743.0 99.8,744.3 C99.6,745.6 99.4,747.0 99.0,748.0 C98.6,749.0 98.6,750.0 97.4,750.6 C96.2,751.2 94.1,751.5 92.0,751.6 C89.9,751.7 87.9,751.7 84.9,751.4 C81.9,751.1 76.8,750.5 73.9,749.8 C71.0,749.1 68.6,747.8 67.6,747.4" fill="none" stroke="#fff" stroke-width="1.56" stroke-linecap="round" stroke-linejoin="round" stroke-opacity="0.95"/>
<path d="M66.0,723.1 C67.6,723.2 72.2,723.2 75.4,723.9 C78.6,724.5 83.3,726.5 84.9,727.0" fill="none" stroke="#fff" stroke-width="1.87" stroke-linecap="round" stroke-linejoin="round" stroke-opacity="0.8"/>
<path d="M2.4,714.4 L7.1,717.6" fill="none" stroke="#fff" stroke-width="1.4" stroke-linecap="round" stroke-linejoin="round" stroke-opacity="0.8"/>
</g></g>
<rect x="1.9" y="607" width="101.69999999999999" height="48.799999999999955" fill="none" stroke="#b8b8b8" stroke-width="1.6"/>
<text x="101.0" y="621.6" font-size="15.6" text-anchor="end" fill="#fff" font-weight="normal" >0 s</text>
<rect x="1.9" y="655.8" width="101.69999999999999" height="49.5" fill="none" stroke="#b8b8b8" stroke-width="1.6"/>
<text x="101.0" y="670.4" font-size="15.6" text-anchor="end" fill="#fff" font-weight="normal" >5 s</text>
<rect x="1.9" y="705.3" width="101.69999999999999" height="48.30000000000007" fill="none" stroke="#b8b8b8" stroke-width="1.6"/>
<text x="101.0" y="719.9" font-size="15.6" text-anchor="end" fill="#fff" font-weight="normal" >10 s</text>
<polygon points="71.5,634 69.3,644.6 78.4,638.6" fill="#1b1b1b" stroke="#fff" stroke-width="1.5"/>
<polygon points="15.9,678 24.2,672.2 22,682" fill="#1b1b1b" stroke="#fff" stroke-width="1.5"/>
<rect x="260.2" y="554.8" width="111.80000000000001" height="116.10000000000002" fill="#202020"/>
<clipPath id="ciR"><rect x="260.2" y="554.8" width="111.80000000000001" height="116.10000000000002"/></clipPath>
<g clip-path="url(#ciR)"><g filter="url(#microI)">
<path d="M271.1,556.9 C272.9,557.8 278.2,560.2 281.8,562.3 C285.4,564.4 288.9,567.2 292.5,569.4 C296.1,571.6 299.6,573.8 303.2,575.7 C306.8,577.6 311.3,579.6 313.9,581.0 C316.5,582.4 318.1,583.3 319.0,583.8" fill="none" stroke="#fff" stroke-width="1.72" stroke-linecap="round" stroke-linejoin="round" stroke-opacity="0.95"/>
<path d="M320.0,584.4 L323.5,586.4" fill="none" stroke="#fff" stroke-width="3.12" stroke-linecap="round" stroke-linejoin="round" stroke-opacity="1"/>
<path d="M326.5,589.0 L330.0,590.0" fill="none" stroke="#fff" stroke-width="2.5" stroke-linecap="round" stroke-linejoin="round" stroke-opacity="1"/>
<path d="M330.5,589.0 C331.0,588.1 331.3,584.9 333.6,583.7 C335.9,582.5 340.4,582.5 344.3,581.9 C348.2,581.3 352.5,580.4 356.8,580.1 C361.1,579.8 368.0,580.1 370.2,580.1" fill="none" stroke="#fff" stroke-width="1.72" stroke-linecap="round" stroke-linejoin="round" stroke-opacity="0.95"/>
<path d="M261.3,568.5 C262.6,569.2 266.6,572.2 269.3,573.0 C272.0,573.8 274.6,572.5 277.3,573.0 C280.0,573.5 284.0,575.2 285.4,575.7" fill="none" stroke="#fff" stroke-width="1.72" stroke-linecap="round" stroke-linejoin="round" stroke-opacity="0.9"/>
<path d="M337.1,575.7 C338.6,575.9 343.4,576.2 346.1,576.6 C348.8,577.0 352.0,578.1 353.2,578.4" fill="none" stroke="#fff" stroke-width="2.34" stroke-linecap="round" stroke-linejoin="round" stroke-opacity="1"/>
<path d="M261.3,606.9 C262.9,606.8 267.7,606.1 271.1,606.0 C274.5,605.9 278.2,605.5 281.8,606.0 C285.4,606.5 289.1,607.7 292.5,608.7 C295.9,609.8 300.7,611.7 302.3,612.3" fill="none" stroke="#fff" stroke-width="1.72" stroke-linecap="round" stroke-linejoin="round" stroke-opacity="0.95"/>
<path d="M265.7,609.6 L278.2,610.5" fill="none" stroke="#fff" stroke-width="1.72" stroke-linecap="round" stroke-linejoin="round" stroke-opacity="0.7"/>
<path d="M321.1,621.0 L324.5,623.4" fill="none" stroke="#fff" stroke-width="3.12" stroke-linecap="round" stroke-linejoin="round" stroke-opacity="1"/>
<path d="M324.5,623.4 C325.1,623.8 326.4,625.8 328.2,625.7 C330.0,625.6 332.1,623.9 335.4,623.0 C338.7,622.1 343.7,621.0 347.9,620.3 C352.1,619.5 356.5,618.8 360.4,618.5 C364.2,618.2 369.2,618.5 371.0,618.5" fill="none" stroke="#fff" stroke-width="1.87" stroke-linecap="round" stroke-linejoin="round" stroke-opacity="0.95"/>
<path d="M340.7,614.1 C342.2,614.5 346.8,616.3 349.6,616.8 C352.4,617.2 356.4,616.8 357.7,616.8" fill="none" stroke="#fff" stroke-width="2.03" stroke-linecap="round" stroke-linejoin="round" stroke-opacity="1"/>
<path d="M261.3,646.2 C263.2,646.2 268.9,645.9 272.9,645.9 C276.9,645.9 281.5,645.6 285.4,646.2 C289.3,646.9 293.3,648.3 296.1,649.8 C298.9,651.3 301.3,654.2 302.3,655.1" fill="none" stroke="#fff" stroke-width="1.72" stroke-linecap="round" stroke-linejoin="round" stroke-opacity="0.95"/>
<path d="M265.7,648.9 L278.2,649.4" fill="none" stroke="#fff" stroke-width="1.72" stroke-linecap="round" stroke-linejoin="round" stroke-opacity="0.7"/>
<path d="M325.5,663.2 C326.2,663.6 328.4,664.9 330.0,665.6 C331.6,666.3 334.5,667.0 335.4,667.3" fill="none" stroke="#fff" stroke-width="2.81" stroke-linecap="round" stroke-linejoin="round" stroke-opacity="1"/>
<path d="M334.5,658.7 C336.1,658.6 340.6,657.6 344.3,657.8 C348.0,657.9 353.1,659.3 356.8,659.6 C360.5,659.9 365.0,659.6 366.6,659.6" fill="none" stroke="#fff" stroke-width="2.03" stroke-linecap="round" stroke-linejoin="round" stroke-opacity="1"/>
<path d="M364.8,655.1 L371.0,657.8" fill="none" stroke="#fff" stroke-width="1.87" stroke-linecap="round" stroke-linejoin="round" stroke-opacity="1"/>
</g></g>
<rect x="260.2" y="554.8" width="111.80000000000001" height="38.200000000000045" fill="none" stroke="#b8b8b8" stroke-width="1.6"/>
<text x="369.4" y="569.4" font-size="15.6" text-anchor="end" fill="#fff" font-weight="normal" >60 s</text>
<rect x="260.2" y="593" width="111.80000000000001" height="38.89999999999998" fill="none" stroke="#b8b8b8" stroke-width="1.6"/>
<text x="369.4" y="607.6" font-size="15.6" text-anchor="end" fill="#fff" font-weight="normal" >65 s</text>
<rect x="260.2" y="631.9" width="111.80000000000001" height="39.0" fill="none" stroke="#b8b8b8" stroke-width="1.6"/>
<text x="369.4" y="646.5" font-size="15.6" text-anchor="end" fill="#fff" font-weight="normal" >90 s</text>
<polygon points="325.2,570 331.6,574.4 322.4,579.8" fill="#1b1b1b" stroke="#fff" stroke-width="1.5"/>
<polygon points="325.7,610.2 333.4,609.8 331.7,619" fill="#1b1b1b" stroke="#fff" stroke-width="1.5"/>
<rect x="349" y="749.6" width="20" height="4.2" fill="#fff"/>
</g>
<defs>
<filter id="jet" x="0" y="0" width="100%" height="100%" color-interpolation-filters="sRGB">
  <feGaussianBlur in="SourceGraphic" stdDeviation="2.5" result="b"/>
  <feComponentTransfer in="b"><feFuncR type="table" tableValues="0.243 0.133 0.047 0.078 0.110 0.118 0.204 0.675 0.949 0.949 0.894 0.882 0.863"/><feFuncG type="table" tableValues="0.039 0.031 0.110 0.353 0.698 0.792 0.792 0.871 0.847 0.510 0.149 0.118 0.110"/><feFuncB type="table" tableValues="0.502 0.549 0.647 0.816 0.816 0.478 0.118 0.078 0.078 0.078 0.086 0.086 0.086"/></feComponentTransfer>
</filter>
<filter id="jet3" x="0" y="0" width="100%" height="100%" color-interpolation-filters="sRGB">
  <feGaussianBlur in="SourceGraphic" stdDeviation="3" result="b"/>
  <feComponentTransfer in="b"><feFuncR type="table" tableValues="0.243 0.133 0.047 0.078 0.110 0.118 0.204 0.675 0.949 0.949 0.894 0.882 0.863"/><feFuncG type="table" tableValues="0.039 0.031 0.110 0.353 0.698 0.792 0.792 0.871 0.847 0.510 0.149 0.118 0.110"/><feFuncB type="table" tableValues="0.502 0.549 0.647 0.816 0.816 0.478 0.118 0.078 0.078 0.078 0.086 0.086 0.086"/></feComponentTransfer>
</filter>
<linearGradient id="jetbar" x1="0" x2="1" y1="0" y2="0"><stop offset="0.0" stop-color="rgb(62,10,128)"/><stop offset="0.1" stop-color="rgb(34,8,140)"/><stop offset="0.2" stop-color="rgb(12,28,165)"/><stop offset="0.3" stop-color="rgb(20,90,208)"/><stop offset="0.4" stop-color="rgb(28,178,208)"/><stop offset="0.5" stop-color="rgb(30,202,122)"/><stop offset="0.6" stop-color="rgb(52,202,30)"/><stop offset="0.7" stop-color="rgb(172,222,20)"/><stop offset="0.8" stop-color="rgb(242,216,20)"/><stop offset="0.9" stop-color="rgb(242,130,20)"/><stop offset="1.0" stop-color="rgb(228,38,22)"/></linearGradient>
</defs>
<g id="panel-f">
<text x="1.5" y="795.6" font-size="22.5" text-anchor="start" fill="#000" font-weight="bold" stroke="#000" stroke-width="0.7">f</text>
<text x="62.5" y="796.8" font-size="15.8" text-anchor="start" fill="#1a1a1a" font-weight="normal" textLength="207.5" lengthAdjust="spacingAndGlyphs" >Membrane potential (TMRE)</text>
<text x="53.0" y="814.5" font-size="15.8" text-anchor="start" fill="#1a1a1a" font-weight="normal" textLength="74.0" lengthAdjust="spacingAndGlyphs" >Peripheral</text>
<text x="220.5" y="814.5" font-size="15.8" text-anchor="start" fill="#1a1a1a" font-weight="normal" textLength="62.5" lengthAdjust="spacingAndGlyphs" >Midzone</text>
<rect x="0" y="820.6" width="165.2" height="113.8" fill="#ef6623"/>
<rect x="169.2" y="820.6" width="163" height="113.8" fill="#0c9744"/>
<clipPath id="chf0"><rect x="2.5" y="823.2" width="160.2" height="53.19999999999993"/></clipPath>
<g clip-path="url(#chf0)"><g filter="url(#jet)">
<rect x="-9.5" y="811.2" width="184.2" height="77.19999999999993" fill="rgb(8,8,8)"/>
<path d="M34.0,846.5 C35.2,846.0 38.5,843.8 41.0,843.5 C43.5,843.2 47.0,843.6 49.0,845.0 C51.0,846.4 52.8,849.5 53.0,852.0 C53.2,854.5 52.0,858.2 50.0,860.0 C48.0,861.8 43.8,863.0 41.0,863.0 C38.2,863.0 35.2,861.7 33.5,860.0 C31.8,858.3 30.4,855.2 30.5,853.0 C30.6,850.8 33.4,847.6 34.0,846.5" fill="none" stroke="rgb(178,178,178)" stroke-width="7.6" stroke-linecap="round" stroke-linejoin="round" />
<path d="M47.0,841.0 C48.0,841.2 51.6,841.5 53.0,842.5 C54.4,843.5 55.1,846.2 55.5,847.0" fill="none" stroke="rgb(168,168,168)" stroke-width="5" stroke-linecap="round" stroke-linejoin="round" />
<path d="M31.0,849.5 C30.9,850.6 30.0,854.2 30.5,856.0 C31.0,857.8 33.4,859.8 34.0,860.5" fill="none" stroke="rgb(255,255,255)" stroke-width="4" stroke-linecap="round" stroke-linejoin="round" stroke-dasharray="5.5 5"/>
<path d="M46.0,844.0 L52.0,848.0" fill="none" stroke="rgb(255,255,255)" stroke-width="3.6" stroke-linecap="round" stroke-linejoin="round" />
<path d="M40.0,863.0 L48.0,862.0" fill="none" stroke="rgb(255,255,255)" stroke-width="3.6" stroke-linecap="round" stroke-linejoin="round" />
<path d="M48.0,861.5 C49.7,861.8 54.3,863.2 58.0,863.5 C61.7,863.8 66.0,863.8 70.0,863.5 C74.0,863.2 78.3,862.5 82.0,861.5 C85.7,860.5 89.0,858.8 92.0,857.5 C95.0,856.2 97.0,854.6 100.0,853.5 C103.0,852.4 106.7,851.6 110.0,851.0 C113.3,850.4 116.7,850.4 120.0,850.0 C123.3,849.6 126.8,849.2 130.0,848.5 C133.2,847.8 137.5,846.4 139.0,846.0" fill="none" stroke="rgb(204,204,204)" stroke-width="9" stroke-linecap="round" stroke-linejoin="round" />
<path d="M56.0,863.5 C57.7,863.6 62.0,864.2 66.0,864.0 C70.0,863.8 77.7,862.3 80.0,862.0" fill="none" stroke="rgb(255,255,255)" stroke-width="5.4" stroke-linecap="round" stroke-linejoin="round" stroke-dasharray="5.5 5"/>
<path d="M90.0,858.0 C91.7,857.2 96.7,854.6 100.0,853.5 C103.3,852.4 108.3,851.6 110.0,851.2" fill="none" stroke="rgb(255,255,255)" stroke-width="5.4" stroke-linecap="round" stroke-linejoin="round" stroke-dasharray="5.5 5"/>
<path d="M114.0,850.5 C116.0,850.2 121.8,849.8 126.0,849.0 C130.2,848.2 137.2,846.5 139.5,846.0" fill="none" stroke="rgb(255,255,255)" stroke-width="6.2" stroke-linecap="round" stroke-linejoin="round" stroke-dasharray="5.5 5"/>
<ellipse cx="149.5" cy="845.3" rx="4" ry="3" fill="rgb(189,189,189)" transform="rotate(0 149.5 845.3)"/>
</g></g>
<text x="4.3" y="836.1" font-size="15.8" text-anchor="start" fill="#fff" font-weight="normal" textLength="49.5" lengthAdjust="spacingAndGlyphs" >Before</text>
<clipPath id="chf1"><rect x="2.5" y="879.3" width="160.2" height="52.60000000000002"/></clipPath>
<g clip-path="url(#chf1)"><g filter="url(#jet)">
<rect x="-9.5" y="867.3" width="184.2" height="76.60000000000002" fill="rgb(8,8,8)"/>
<path d="M33.0,902.0 C34.2,901.5 37.5,899.2 40.0,899.0 C42.5,898.8 46.0,899.2 48.0,900.5 C50.0,901.8 52.0,904.7 52.0,907.0 C52.0,909.3 50.0,912.8 48.0,914.5 C46.0,916.2 42.6,917.3 40.0,917.5 C37.4,917.7 34.2,916.9 32.5,915.5 C30.8,914.1 29.4,911.2 29.5,909.0 C29.6,906.8 32.4,903.2 33.0,902.0" fill="none" stroke="rgb(178,178,178)" stroke-width="7.2" stroke-linecap="round" stroke-linejoin="round" />
<path d="M35.0,900.0 L44.0,899.0" fill="none" stroke="rgb(255,255,255)" stroke-width="5" stroke-linecap="round" stroke-linejoin="round" />
<path d="M30.0,908.0 L32.0,914.0" fill="none" stroke="rgb(255,255,255)" stroke-width="4" stroke-linecap="round" stroke-linejoin="round" />
<path d="M42.0,917.0 L50.0,915.0" fill="none" stroke="rgb(255,255,255)" stroke-width="3.6" stroke-linecap="round" stroke-linejoin="round" />
<path d="M47.0,915.5 C48.8,915.8 53.8,917.2 58.0,917.5 C62.2,917.8 67.3,917.4 72.0,917.0 C76.7,916.6 81.3,915.7 86.0,915.0 C90.7,914.3 95.3,913.7 100.0,913.0 C104.7,912.3 109.7,911.8 114.0,911.0 C118.3,910.2 122.5,909.1 126.0,908.0 C129.5,906.9 132.3,905.7 135.0,904.5 C137.7,903.3 140.8,901.6 142.0,901.0" fill="none" stroke="rgb(204,204,204)" stroke-width="8.4" stroke-linecap="round" stroke-linejoin="round" />
<path d="M58.0,917.5 C60.7,917.4 69.3,917.4 74.0,917.0 C78.7,916.6 84.0,915.3 86.0,915.0" fill="none" stroke="rgb(255,255,255)" stroke-width="5" stroke-linecap="round" stroke-linejoin="round" stroke-dasharray="5.5 5"/>
<path d="M96.0,913.4 L112.0,911.2" fill="none" stroke="rgb(255,255,255)" stroke-width="4.6" stroke-linecap="round" stroke-linejoin="round" />
<path d="M122.0,909.0 C124.0,908.3 130.6,906.2 134.0,904.8 C137.4,903.4 141.1,901.5 142.5,900.8" fill="none" stroke="rgb(255,255,255)" stroke-width="5.8" stroke-linecap="round" stroke-linejoin="round" stroke-dasharray="5.5 5"/>
<ellipse cx="151.5" cy="907" rx="3.2" ry="5.4" fill="rgb(184,184,184)" transform="rotate(15 151.5 907)"/>
</g></g>
<text x="4.3" y="892.2" font-size="15.8" text-anchor="start" fill="#fff" font-weight="normal" textLength="36.5" lengthAdjust="spacingAndGlyphs" >After</text>
<polygon points="135.6,832.4 144.2,831.2 141.6,841.8" fill="#2a0a86" stroke="#fff" stroke-width="1.5"/>
<clipPath id="chm0"><rect x="171.7" y="823.2" width="158.0" height="52.39999999999998"/></clipPath>
<g clip-path="url(#chm0)"><g filter="url(#jet)">
<rect x="159.7" y="811.2" width="182.0" height="76.39999999999998" fill="rgb(26,26,26)"/>
<path d="M171.0,853.5 C172.5,853.1 176.5,851.6 180.0,851.0 C183.5,850.4 188.0,849.9 192.0,850.0 C196.0,850.1 200.0,851.0 204.0,851.5 C208.0,852.0 212.0,852.5 216.0,853.0 C220.0,853.5 224.7,854.1 228.0,854.5 C231.3,854.9 234.7,855.3 236.0,855.5" fill="none" stroke="rgb(214,214,214)" stroke-width="7.6" stroke-linecap="round" stroke-linejoin="round" />
<path d="M186.0,850.0 C187.7,850.0 193.0,849.8 196.0,850.0 C199.0,850.2 202.7,851.2 204.0,851.5" fill="none" stroke="rgb(255,255,255)" stroke-width="4" stroke-linecap="round" stroke-linejoin="round" stroke-dasharray="5.5 5"/>
<path d="M210.0,852.5 C212.0,852.8 218.7,853.6 222.0,854.0 C225.3,854.4 228.7,854.7 230.0,854.8" fill="none" stroke="rgb(255,255,255)" stroke-width="4" stroke-linecap="round" stroke-linejoin="round" stroke-dasharray="5.5 5"/>
<path d="M236.0,855.5 L240.0,855.0" fill="none" stroke="rgb(178,178,178)" stroke-width="4.0" stroke-linecap="round" stroke-linejoin="round" />
<path d="M240.0,855.0 C241.7,854.6 246.3,853.0 250.0,852.5 C253.7,852.0 258.0,852.0 262.0,852.0 C266.0,852.0 270.0,852.1 274.0,852.5 C278.0,852.9 282.0,853.6 286.0,854.5 C290.0,855.4 294.0,856.9 298.0,858.0 C302.0,859.1 306.0,860.2 310.0,861.0 C314.0,861.8 320.0,862.2 322.0,862.5" fill="none" stroke="rgb(214,214,214)" stroke-width="7.6" stroke-linecap="round" stroke-linejoin="round" />
<path d="M246.0,853.5 L256.0,852.0" fill="none" stroke="rgb(255,255,255)" stroke-width="3.6" stroke-linecap="round" stroke-linejoin="round" />
<path d="M268.0,852.0 C270.0,852.2 276.3,852.9 280.0,853.5 C283.7,854.1 288.3,855.2 290.0,855.5" fill="none" stroke="rgb(255,255,255)" stroke-width="4.6" stroke-linecap="round" stroke-linejoin="round" stroke-dasharray="5.5 5"/>
<path d="M304.0,859.5 C305.7,859.9 311.0,861.3 314.0,861.8 C317.0,862.3 320.7,862.4 322.0,862.5" fill="none" stroke="rgb(255,255,255)" stroke-width="5" stroke-linecap="round" stroke-linejoin="round" stroke-dasharray="5.5 5"/>
<path d="M212.0,831.5 C214.0,831.1 220.0,829.8 224.0,829.0 C228.0,828.2 232.3,827.4 236.0,826.5 C239.7,825.6 243.0,824.6 246.0,823.5 C249.0,822.4 252.7,820.6 254.0,820.0" fill="none" stroke="rgb(214,214,214)" stroke-width="7.2" stroke-linecap="round" stroke-linejoin="round" />
<path d="M222.0,829.5 C224.3,829.0 232.0,827.5 236.0,826.5 C240.0,825.5 244.3,824.0 246.0,823.5" fill="none" stroke="rgb(255,255,255)" stroke-width="3.6" stroke-linecap="round" stroke-linejoin="round" stroke-dasharray="5.5 5"/>
<ellipse cx="331.5" cy="841" rx="4" ry="10" fill="rgb(255,255,255)" transform="rotate(0 331.5 841)"/>
<ellipse cx="170.5" cy="866" rx="4.6" ry="6.6" fill="rgb(255,255,255)" transform="rotate(0 170.5 866)"/>
<path d="M171.0,857.0 L176.0,860.0" fill="none" stroke="rgb(153,153,153)" stroke-width="4.6" stroke-linecap="round" stroke-linejoin="round" />
</g></g>
<text x="173.5" y="836.1" font-size="15.8" text-anchor="start" fill="#fff" font-weight="normal" textLength="49.5" lengthAdjust="spacingAndGlyphs" >Before</text>
<clipPath id="chm1"><rect x="171.7" y="878.6" width="158.0" height="53.299999999999955"/></clipPath>
<g clip-path="url(#chm1)"><g filter="url(#jet)">
<rect x="159.7" y="866.6" width="182.0" height="77.29999999999995" fill="rgb(26,26,26)"/>
<path d="M172.0,909.0 C173.7,908.5 178.3,906.7 182.0,906.0 C185.7,905.3 190.0,905.1 194.0,905.0 C198.0,904.9 202.3,905.2 206.0,905.5 C209.7,905.8 212.8,906.0 216.0,906.5 C219.2,907.0 223.5,908.2 225.0,908.5" fill="none" stroke="rgb(214,214,214)" stroke-width="7.6" stroke-linecap="round" stroke-linejoin="round" />
<path d="M190.0,905.0 C192.3,905.1 200.0,905.2 204.0,905.4 C208.0,905.6 212.3,906.2 214.0,906.4" fill="none" stroke="rgb(255,255,255)" stroke-width="4.4" stroke-linecap="round" stroke-linejoin="round" stroke-dasharray="5.5 5"/>
<path d="M218.0,907.0 L225.0,908.5" fill="none" stroke="rgb(255,255,255)" stroke-width="4" stroke-linecap="round" stroke-linejoin="round" />
<path d="M212.0,881.0 C214.0,881.3 219.7,882.4 224.0,883.0 C228.3,883.6 233.7,884.3 238.0,884.5 C242.3,884.7 246.0,884.2 250.0,884.0 C254.0,883.8 260.0,883.2 262.0,883.0" fill="none" stroke="rgb(214,214,214)" stroke-width="7.4" stroke-linecap="round" stroke-linejoin="round" />
<path d="M224.0,883.0 L238.0,884.5" fill="none" stroke="rgb(255,255,255)" stroke-width="3.4" stroke-linecap="round" stroke-linejoin="round" />
<path d="M248.0,884.0 L260.0,883.2" fill="none" stroke="rgb(255,255,255)" stroke-width="3.4" stroke-linecap="round" stroke-linejoin="round" />
<path d="M251.0,903.0 C252.5,903.6 256.8,905.3 260.0,906.5 C263.2,907.7 266.3,908.9 270.0,910.0 C273.7,911.1 278.3,912.2 282.0,913.0 C285.7,913.8 289.0,914.8 292.0,915.0 C295.0,915.2 297.7,914.6 300.0,914.0 C302.3,913.4 304.0,911.4 306.0,911.5 C308.0,911.6 310.3,913.4 312.0,914.5 C313.7,915.6 315.3,917.4 316.0,918.0" fill="none" stroke="rgb(214,214,214)" stroke-width="7.6" stroke-linecap="round" stroke-linejoin="round" />
<path d="M256.0,905.0 L264.0,908.0" fill="none" stroke="rgb(255,255,255)" stroke-width="3.8" stroke-linecap="round" stroke-linejoin="round" />
<path d="M272.0,910.8 C274.0,911.3 280.7,912.9 284.0,913.6 C287.3,914.3 290.7,914.8 292.0,915.0" fill="none" stroke="rgb(255,255,255)" stroke-width="5" stroke-linecap="round" stroke-linejoin="round" stroke-dasharray="5.5 5"/>
<path d="M306.0,911.8 C307.0,912.2 310.5,913.6 312.0,914.5 C313.5,915.4 314.5,916.6 315.0,917.0" fill="none" stroke="rgb(255,255,255)" stroke-width="4.6" stroke-linecap="round" stroke-linejoin="round" stroke-dasharray="5.5 5"/>
<path d="M300.0,918.0 L304.0,922.0" fill="none" stroke="rgb(128,128,128)" stroke-width="3.4" stroke-linecap="round" stroke-linejoin="round" />
<ellipse cx="171" cy="923" rx="4.6" ry="7.6" fill="rgb(255,255,255)" transform="rotate(0 171 923)"/>
<ellipse cx="331.5" cy="895" rx="3" ry="9.5" fill="rgb(255,255,255)" transform="rotate(0 331.5 895)"/>
<path d="M171.0,912.0 L174.0,918.0" fill="none" stroke="rgb(140,140,140)" stroke-width="4.6" stroke-linecap="round" stroke-linejoin="round" />
</g></g>
<text x="173.5" y="891.5" font-size="15.8" text-anchor="start" fill="#fff" font-weight="normal" textLength="36.5" lengthAdjust="spacingAndGlyphs" >After</text>
<polygon points="231.4,840.6 240.4,840.6 236,850.4" fill="#2a0a86" stroke="#fff" stroke-width="1.5"/>
<rect x="315.8" y="927" width="11.8" height="3.2" fill="#fff"/>
</g>
<g id="panel-h">
<text x="355.2" y="795.6" font-size="22.5" text-anchor="start" fill="#000" font-weight="bold" stroke="#000" stroke-width="0.7">h</text>
<text x="478.7" y="796.8" font-size="15.8" text-anchor="start" fill="#1a1a1a" font-weight="normal" textLength="114.0" lengthAdjust="spacingAndGlyphs" >ROS (MitoSOX)</text>
<text x="416.0" y="814.5" font-size="15.8" text-anchor="start" fill="#1a1a1a" font-weight="normal" textLength="74.5" lengthAdjust="spacingAndGlyphs" >Peripheral</text>
<text x="591.7" y="814.5" font-size="15.8" text-anchor="start" fill="#1a1a1a" font-weight="normal" textLength="63.0" lengthAdjust="spacingAndGlyphs" >Midzone</text>
<rect x="365.6" y="820.6" width="163.6" height="113.8" fill="#ef6623"/>
<rect x="535.6" y="820.6" width="164.4" height="113.8" fill="#0c9744"/>
<clipPath id="chh0"><rect x="368.1" y="823.2" width="158.60000000000002" height="53.0"/></clipPath>
<g clip-path="url(#chh0)"><g filter="url(#jet3)">
<rect x="356.1" y="811.2" width="182.60000000000002" height="77.0" fill="rgb(18,18,18)"/>
<ellipse cx="404" cy="849" rx="8.6" ry="7.6" fill="rgb(255,255,255)" transform="rotate(30 404 849)"/>
<path d="M411.0,855.0 C412.5,855.9 416.5,858.8 420.0,860.5 C423.5,862.2 428.0,864.0 432.0,865.0 C436.0,866.0 440.0,866.3 444.0,866.5 C448.0,866.7 452.0,866.7 456.0,866.0 C460.0,865.3 464.3,863.9 468.0,862.5 C471.7,861.1 475.0,859.0 478.0,857.5 C481.0,856.0 484.7,854.2 486.0,853.5" fill="none" stroke="rgb(128,128,128)" stroke-width="10" stroke-linecap="round" stroke-linejoin="round" />
<ellipse cx="487.5" cy="853.5" rx="7" ry="6" fill="rgb(219,219,219)" transform="rotate(0 487.5 853.5)"/>
<ellipse cx="436" cy="865.5" rx="6" ry="4" fill="rgb(168,168,168)" transform="rotate(0 436 865.5)"/>
<ellipse cx="424" cy="861" rx="4" ry="3" fill="rgb(158,158,158)" transform="rotate(0 424 861)"/>
<ellipse cx="500.5" cy="872" rx="8.5" ry="5.6" fill="rgb(235,235,235)" transform="rotate(0 500.5 872)"/>
<ellipse cx="500.5" cy="872" rx="4" ry="2.6" fill="rgb(255,255,255)" transform="rotate(0 500.5 872)"/>
<ellipse cx="375" cy="876" rx="10" ry="6.5" fill="rgb(173,173,173)" transform="rotate(0 375 876)"/>
<path d="M468.0,875.0 C470.7,875.3 479.3,877.0 484.0,877.0 C488.7,877.0 494.0,875.3 496.0,875.0" fill="none" stroke="rgb(128,128,128)" stroke-width="6" stroke-linecap="round" stroke-linejoin="round" />
<ellipse cx="522" cy="879" rx="9" ry="4.5" fill="rgb(153,153,153)" transform="rotate(0 522 879)"/>
<ellipse cx="455" cy="866.5" rx="5" ry="3" fill="rgb(158,158,158)" transform="rotate(0 455 866.5)"/>
</g></g>
<text x="371.3" y="836.1" font-size="15.8" text-anchor="start" fill="#fff" font-weight="normal" textLength="49.5" lengthAdjust="spacingAndGlyphs" >Before</text>
<clipPath id="chh1"><rect x="368.1" y="879.2" width="158.60000000000002" height="52.69999999999993"/></clipPath>
<g clip-path="url(#chh1)"><g filter="url(#jet3)">
<rect x="356.1" y="867.2" width="182.60000000000002" height="76.69999999999993" fill="rgb(18,18,18)"/>
<ellipse cx="405" cy="900" rx="8" ry="8" fill="rgb(255,255,255)" transform="rotate(0 405 900)"/>
<path d="M444.0,922.5 C446.0,922.2 452.0,921.2 456.0,920.5 C460.0,919.8 464.0,919.5 468.0,918.5 C472.0,917.5 476.0,916.0 480.0,914.5 C484.0,913.0 488.0,911.3 492.0,909.5 C496.0,907.7 502.0,904.5 504.0,903.5" fill="none" stroke="rgb(133,133,133)" stroke-width="11" stroke-linecap="round" stroke-linejoin="round" />
<ellipse cx="445.5" cy="922.5" rx="7" ry="5.4" fill="rgb(204,204,204)" transform="rotate(0 445.5 922.5)"/>
<ellipse cx="504" cy="904" rx="6" ry="5.4" fill="rgb(168,168,168)" transform="rotate(0 504 904)"/>
<ellipse cx="478" cy="915.5" rx="6" ry="3.6" fill="rgb(158,158,158)" transform="rotate(0 478 915.5)"/>
<ellipse cx="383" cy="932" rx="11" ry="8" fill="rgb(184,184,184)" transform="rotate(0 383 932)"/>
<ellipse cx="528" cy="926" rx="5.5" ry="10" fill="rgb(158,158,158)" transform="rotate(0 528 926)"/>
<ellipse cx="371" cy="905" rx="3.4" ry="6" fill="rgb(102,102,102)" transform="rotate(0 371 905)"/>
</g></g>
<text x="371.3" y="892.1" font-size="15.8" text-anchor="start" fill="#fff" font-weight="normal" textLength="36.5" lengthAdjust="spacingAndGlyphs" >After</text>
<polygon points="422.2,840.4 430.8,843 423.4,850.2" fill="#2a0a86" stroke="#fff" stroke-width="1.5"/>
<rect x="503.2" y="927" width="21" height="3.4" fill="#fff"/>
<clipPath id="chhg0"><rect x="538.1" y="823.2" width="159.39999999999998" height="53.0"/></clipPath>
<g clip-path="url(#chhg0)"><g filter="url(#jet)">
<rect x="526.1" y="811.2" width="183.39999999999998" height="77.0" fill="rgb(18,18,18)"/>
<path d="M538.0,852.5 C540.3,852.7 547.0,853.4 552.0,853.5 C557.0,853.6 562.7,853.3 568.0,853.0 C573.3,852.7 578.7,851.9 584.0,851.5 C589.3,851.1 594.7,850.6 600.0,850.5 C605.3,850.4 611.0,851.0 616.0,851.0 C621.0,851.0 625.0,850.6 630.0,850.5 C635.0,850.4 640.7,850.2 646.0,850.5 C651.3,850.8 656.7,851.8 662.0,852.5 C667.3,853.2 672.3,853.8 678.0,854.5 C683.7,855.2 693.0,856.6 696.0,857.0" fill="none" stroke="rgb(117,117,117)" stroke-width="7.6" stroke-linecap="round" stroke-linejoin="round" />
<ellipse cx="603" cy="850.5" rx="6" ry="3" fill="rgb(168,168,168)" transform="rotate(0 603 850.5)"/>
<ellipse cx="632" cy="850.5" rx="6" ry="2.8" fill="rgb(153,153,153)" transform="rotate(0 632 850.5)"/>
<ellipse cx="656" cy="852" rx="6" ry="2.8" fill="rgb(153,153,153)" transform="rotate(0 656 852)"/>
<ellipse cx="674" cy="854" rx="9" ry="3.4" fill="rgb(199,199,199)" transform="rotate(0 674 854)"/>
<ellipse cx="566" cy="853" rx="8" ry="2.8" fill="rgb(138,138,138)" transform="rotate(0 566 853)"/>
<ellipse cx="690" cy="856.5" rx="4.6" ry="2.8" fill="rgb(168,168,168)" transform="rotate(0 690 856.5)"/>
<ellipse cx="646" cy="850.5" rx="5" ry="2.6" fill="rgb(143,143,143)" transform="rotate(0 646 850.5)"/>
</g></g>
<text x="541.3" y="836.1" font-size="15.8" text-anchor="start" fill="#fff" font-weight="normal" textLength="49.5" lengthAdjust="spacingAndGlyphs" >Before</text>
<clipPath id="chhg1"><rect x="538.1" y="879.2" width="159.39999999999998" height="52.69999999999993"/></clipPath>
<g clip-path="url(#chhg1)"><g filter="url(#jet)">
<rect x="526.1" y="867.2" width="183.39999999999998" height="76.69999999999993" fill="rgb(18,18,18)"/>
<path d="M538.0,908.0 C540.3,907.8 547.0,907.4 552.0,907.0 C557.0,906.6 562.7,905.9 568.0,905.5 C573.3,905.1 579.0,904.8 584.0,904.5 C589.0,904.2 594.7,903.8 598.0,903.5 C601.3,903.2 603.0,903.1 604.0,903.0" fill="none" stroke="rgb(115,115,115)" stroke-width="7.6" stroke-linecap="round" stroke-linejoin="round" />
<ellipse cx="574" cy="905" rx="9" ry="3" fill="rgb(158,158,158)" transform="rotate(0 574 905)"/>
<ellipse cx="556" cy="906.5" rx="6" ry="2.6" fill="rgb(133,133,133)" transform="rotate(0 556 906.5)"/>
<path d="M614.0,901.5 L620.0,900.0" fill="none" stroke="rgb(92,92,92)" stroke-width="4" stroke-linecap="round" stroke-linejoin="round" />
<path d="M624.0,899.5 C625.7,899.2 630.3,897.9 634.0,897.5 C637.7,897.1 642.0,896.8 646.0,897.0 C650.0,897.2 654.0,897.8 658.0,898.5 C662.0,899.2 666.0,900.1 670.0,901.0 C674.0,901.9 678.0,903.2 682.0,904.0 C686.0,904.8 692.0,905.2 694.0,905.5" fill="none" stroke="rgb(128,128,128)" stroke-width="8.4" stroke-linecap="round" stroke-linejoin="round" />
<ellipse cx="643" cy="897" rx="7" ry="3" fill="rgb(178,178,178)" transform="rotate(0 643 897)"/>
<ellipse cx="664" cy="899.5" rx="6" ry="3" fill="rgb(178,178,178)" transform="rotate(0 664 899.5)"/>
<ellipse cx="684" cy="904" rx="7" ry="3.8" fill="rgb(214,214,214)" transform="rotate(0 684 904)"/>
<ellipse cx="694" cy="905.5" rx="3.4" ry="3.4" fill="rgb(178,178,178)" transform="rotate(0 694 905.5)"/>
</g></g>
<text x="541.3" y="892.1" font-size="15.8" text-anchor="start" fill="#fff" font-weight="normal" textLength="36.5" lengthAdjust="spacingAndGlyphs" >After</text>
<polygon points="616,836.4 625.2,836.4 620.6,846.4" fill="#2a0a86" stroke="#fff" stroke-width="1.5"/>
<rect x="679.2" y="927.4" width="14" height="3.2" fill="#fff"/>
</g>
<g id="panel-g">
<text x="1.2" y="968.2" font-size="22.5" text-anchor="start" fill="#000" font-weight="bold" stroke="#000" stroke-width="0.7">g</text>
<rect x="53.5" y="1002.5" width="282.8" height="31.3" fill="#c5daee"/>
<g transform="translate(66.0,1137.6) scale(1.000,1.000)"><path d="M5,2.8 C8,2.8 9.8,5.2 11.4,5.8 C13.6,6.2 15.6,1.4 26,0.6 C38,-0.2 50,2.4 50,7.6 C50,12.8 40,14.8 29,14.4 C18,14 14.4,9.8 11.6,9.9 C9.8,10.2 8.4,13.4 5,13.4 C1.8,13.4 0,11 0,8.1 C0,5.2 1.8,2.8 5,2.8 Z" fill="#e9bd9a" stroke="none" stroke-width="0.8"/><path d="M5,2.8 C8,2.8 9.8,5.2 11.4,5.8 L11.6,9.9 C9.8,10.2 8.4,13.4 5,13.4 C1.8,13.4 0,11 0,8.1 C0,5.2 1.8,2.8 5,2.8 Z" fill="#c9782c"/><path d="M2.6,10 C2.2,5.4 5.6,5 5.8,8 C6,10.8 8.4,10 10.2,8.4 C12,7.2 13.2,8.4 14.2,10 C14.8,3.6 17.8,3.4 18.2,8.6 C18.6,13 20.8,12.8 21,8.6 C21.2,3.2 24,3 24.4,8.6 C24.8,13.2 27,13 27.2,8.6 C27.4,3.2 30.2,3 30.6,8.6 C31,13.2 33.2,13 33.4,8.6 C33.6,3.2 36.4,3 36.8,8.6 C37.2,13 39.4,12.8 39.6,8.6 C39.8,3.8 42.4,3.6 42.8,8.2 C43.2,11.8 45.6,11.6 46.6,8.6" fill="none" stroke="#fff" stroke-opacity="0.85" stroke-width="1.15" stroke-linecap="round" stroke-linejoin="round"/></g>
<g transform="translate(134.5,1138.0) scale(1.020,0.960)"><path d="M11,0.8 C18,0.8 20.4,5 25,5 C29.6,5 32,0.8 39,0.8 C46,0.8 50,3.8 50,7.7 C50,11.6 46,14.6 39,14.6 C32,14.6 29.6,10.6 25,10.6 C20.4,10.6 18,14.6 11,14.6 C4,14.6 0,11.6 0,7.7 C0,3.8 4,0.8 11,0.8 Z" fill="#86c09c" stroke="none" stroke-width="0.8"/><path d="M11,0.8 C18,0.8 20.4,5 25,5 L25,10.6 C20.4,10.6 18,14.6 11,14.6 C4,14.6 0,11.6 0,7.7 C0,3.8 4,0.8 11,0.8 Z" fill="#1a7a3e"/><path d="M3.2,9.6 C3,3.6 6.4,3.4 6.8,8.6 C7.2,13 9.4,12.8 9.6,8.6 C9.8,3.2 12.6,3 13,8.6 C13.4,13 15.6,12.8 15.8,8.6 C16,4 18.6,4.4 19.6,7 C21,9.4 23,8.2 25,7.8 C27,7.4 29,9.4 30.2,8.2 C31,3.6 33.6,3.2 34,8.6 C34.4,13 36.6,12.8 36.8,8.6 C37,3.2 39.8,3 40.2,8.6 C40.6,13 42.8,12.8 43,8.6 C43.2,3.8 46.2,3.6 46.8,9.4" fill="none" stroke="#fff" stroke-opacity="0.85" stroke-width="1.15" stroke-linecap="round" stroke-linejoin="round"/></g>
<g transform="translate(463.5,0) scale(-1,1)"><g transform="translate(206.0,1138.0) scale(1.020,0.960)"><path d="M11,0.8 C18,0.8 20.4,5 25,5 C29.6,5 32,0.8 39,0.8 C46,0.8 50,3.8 50,7.7 C50,11.6 46,14.6 39,14.6 C32,14.6 29.6,10.6 25,10.6 C20.4,10.6 18,14.6 11,14.6 C4,14.6 0,11.6 0,7.7 C0,3.8 4,0.8 11,0.8 Z" fill="#86c09c" stroke="none" stroke-width="0.8"/><path d="M11,0.8 C18,0.8 20.4,5 25,5 L25,10.6 C20.4,10.6 18,14.6 11,14.6 C4,14.6 0,11.6 0,7.7 C0,3.8 4,0.8 11,0.8 Z" fill="#1a7a3e"/><path d="M3.2,9.6 C3,3.6 6.4,3.4 6.8,8.6 C7.2,13 9.4,12.8 9.6,8.6 C9.8,3.2 12.6,3 13,8.6 C13.4,13 15.6,12.8 15.8,8.6 C16,4 18.6,4.4 19.6,7 C21,9.4 23,8.2 25,7.8 C27,7.4 29,9.4 30.2,8.2 C31,3.6 33.6,3.2 34,8.6 C34.4,13 36.6,12.8 36.8,8.6 C37,3.2 39.8,3 40.2,8.6 C40.6,13 42.8,12.8 43,8.6 C43.2,3.8 46.2,3.6 46.8,9.4" fill="none" stroke="#fff" stroke-opacity="0.85" stroke-width="1.15" stroke-linecap="round" stroke-linejoin="round"/></g></g>
<g transform="translate(277.5,1137.6) scale(1.000,1.000)"><path d="M5,2.8 C8,2.8 9.8,5.2 11.4,5.8 C13.6,6.2 15.6,1.4 26,0.6 C38,-0.2 50,2.4 50,7.6 C50,12.8 40,14.8 29,14.4 C18,14 14.4,9.8 11.6,9.9 C9.8,10.2 8.4,13.4 5,13.4 C1.8,13.4 0,11 0,8.1 C0,5.2 1.8,2.8 5,2.8 Z" fill="#c9782c" stroke="none" stroke-width="0.8"/><path d="M5,2.8 C8,2.8 9.8,5.2 11.4,5.8 L11.6,9.9 C9.8,10.2 8.4,13.4 5,13.4 C1.8,13.4 0,11 0,8.1 C0,5.2 1.8,2.8 5,2.8 Z" fill="#e9bd9a"/><path d="M2.6,10 C2.2,5.4 5.6,5 5.8,8 C6,10.8 8.4,10 10.2,8.4 C12,7.2 13.2,8.4 14.2,10 C14.8,3.6 17.8,3.4 18.2,8.6 C18.6,13 20.8,12.8 21,8.6 C21.2,3.2 24,3 24.4,8.6 C24.8,13.2 27,13 27.2,8.6 C27.4,3.2 30.2,3 30.6,8.6 C31,13.2 33.2,13 33.4,8.6 C33.6,3.2 36.4,3 36.8,8.6 C37.2,13 39.4,12.8 39.6,8.6 C39.8,3.8 42.4,3.6 42.8,8.2 C43.2,11.8 45.6,11.6 46.6,8.6" fill="none" stroke="#fff" stroke-opacity="0.85" stroke-width="1.15" stroke-linecap="round" stroke-linejoin="round"/></g>
<line x1="87.9" y1="1021" x2="87.9" y2="1103.5" stroke="#1a1a1a" stroke-width="1.5"/>
<rect x="69.7" y="1037.6" width="37.1" height="38.1" fill="#fb9f80" stroke="#1a1a1a" stroke-width="1.2"/>
<line x1="69.7" y1="1057" x2="106.8" y2="1057" stroke="#1a1a1a" stroke-width="1.4"/>
<line x1="160.8" y1="971.8" x2="160.8" y2="1047.8" stroke="#1a1a1a" stroke-width="1.5"/>
<rect x="141.7" y="1004.6" width="36.9" height="20.8" fill="#4cc67a" stroke="#1a1a1a" stroke-width="1.2"/>
<line x1="141.7" y1="1015" x2="178.6" y2="1015" stroke="#1a1a1a" stroke-width="1.4"/>
<line x1="232.9" y1="976.5" x2="232.9" y2="1049.4" stroke="#1a1a1a" stroke-width="1.5"/>
<rect x="214" y="1010.4" width="37.5" height="17.7" fill="#15924a" stroke="#1a1a1a" stroke-width="1.2"/>
<line x1="214" y1="1018.3" x2="251.5" y2="1018.3" stroke="#1a1a1a" stroke-width="1.4"/>
<line x1="305" y1="969.6" x2="305" y2="1038.2" stroke="#1a1a1a" stroke-width="1.5"/>
<rect x="286.4" y="1008.2" width="37.5" height="15.4" fill="#ee6a22" stroke="#1a1a1a" stroke-width="1.2"/>
<line x1="286.4" y1="1015.3" x2="323.9" y2="1015.3" stroke="#1a1a1a" stroke-width="1.4"/>
<circle cx="63.7" cy="1074.6" r="2.5" fill="#fb9f80" stroke="#2a2a2a" stroke-width="0.6"/>
<circle cx="75.1" cy="1069.9" r="2.5" fill="#fb9f80" stroke="#2a2a2a" stroke-width="0.6"/>
<circle cx="79.1" cy="1069.1" r="2.5" fill="#fb9f80" stroke="#2a2a2a" stroke-width="0.6"/>
<circle cx="85.4" cy="1059.6" r="2.5" fill="#fb9f80" stroke="#2a2a2a" stroke-width="0.6"/>
<circle cx="87.9" cy="1038.9" r="2.5" fill="#fb9f80" stroke="#2a2a2a" stroke-width="0.6"/>
<circle cx="89.9" cy="1079.1" r="2.5" fill="#fb9f80" stroke="#2a2a2a" stroke-width="0.6"/>
<circle cx="92.9" cy="1024.9" r="2.5" fill="#fb9f80" stroke="#2a2a2a" stroke-width="0.6"/>
<circle cx="92.9" cy="1032.2" r="2.5" fill="#fb9f80" stroke="#2a2a2a" stroke-width="0.6"/>
<circle cx="99.9" cy="1090.7" r="2.5" fill="#fb9f80" stroke="#2a2a2a" stroke-width="0.6"/>
<circle cx="99.1" cy="1103.1" r="2.5" fill="#fb9f80" stroke="#2a2a2a" stroke-width="0.6"/>
<circle cx="102.9" cy="1024.3" r="2.5" fill="#fb9f80" stroke="#2a2a2a" stroke-width="0.6"/>
<circle cx="104.6" cy="1045.7" r="2.5" fill="#fb9f80" stroke="#2a2a2a" stroke-width="0.6"/>
<circle cx="105.7" cy="1048.5" r="2.5" fill="#fb9f80" stroke="#2a2a2a" stroke-width="0.6"/>
<circle cx="107.4" cy="1028.1" r="2.5" fill="#fb9f80" stroke="#2a2a2a" stroke-width="0.6"/>
<circle cx="111.5" cy="1048.5" r="2.5" fill="#fb9f80" stroke="#2a2a2a" stroke-width="0.6"/>
<circle cx="110.0" cy="1055.8" r="2.5" fill="#fb9f80" stroke="#2a2a2a" stroke-width="0.6"/>
<circle cx="108.9" cy="1063.9" r="2.5" fill="#fb9f80" stroke="#2a2a2a" stroke-width="0.6"/>
<circle cx="105.1" cy="1069.3" r="2.5" fill="#fb9f80" stroke="#2a2a2a" stroke-width="0.6"/>
<circle cx="103.6" cy="1076.8" r="2.5" fill="#fb9f80" stroke="#2a2a2a" stroke-width="0.6"/>
<circle cx="105.7" cy="1080.0" r="2.5" fill="#fb9f80" stroke="#2a2a2a" stroke-width="0.6"/>
<circle cx="107.2" cy="1084.7" r="2.5" fill="#fb9f80" stroke="#2a2a2a" stroke-width="0.6"/>
<circle cx="113.4" cy="1029.6" r="2.5" fill="#fb9f80" stroke="#2a2a2a" stroke-width="0.6"/>
<circle cx="117.5" cy="1021.7" r="2.5" fill="#fb9f80" stroke="#2a2a2a" stroke-width="0.6"/>
<circle cx="117.7" cy="1037.1" r="2.5" fill="#fb9f80" stroke="#2a2a2a" stroke-width="0.6"/>
<circle cx="117.1" cy="1053.4" r="2.5" fill="#fb9f80" stroke="#2a2a2a" stroke-width="0.6"/>
<circle cx="120.7" cy="1042.1" r="2.5" fill="#fb9f80" stroke="#2a2a2a" stroke-width="0.6"/>
<circle cx="121.4" cy="1049.4" r="2.5" fill="#fb9f80" stroke="#2a2a2a" stroke-width="0.6"/>
<circle cx="123.3" cy="1033.5" r="2.5" fill="#fb9f80" stroke="#2a2a2a" stroke-width="0.6"/>
<circle cx="126.7" cy="1015.7" r="2.5" fill="#4cc67a" stroke="#2a2a2a" stroke-width="0.6"/>
<circle cx="135.1" cy="1028.1" r="2.5" fill="#4cc67a" stroke="#2a2a2a" stroke-width="0.6"/>
<circle cx="142.1" cy="1021.7" r="2.5" fill="#4cc67a" stroke="#2a2a2a" stroke-width="0.6"/>
<circle cx="148.6" cy="1024.3" r="2.5" fill="#4cc67a" stroke="#2a2a2a" stroke-width="0.6"/>
<circle cx="149.0" cy="987.4" r="2.5" fill="#4cc67a" stroke="#2a2a2a" stroke-width="0.6"/>
<circle cx="151.8" cy="1012.5" r="2.5" fill="#4cc67a" stroke="#2a2a2a" stroke-width="0.6"/>
<circle cx="151.8" cy="1048.5" r="2.5" fill="#4cc67a" stroke="#2a2a2a" stroke-width="0.6"/>
<circle cx="156.5" cy="1047.9" r="2.5" fill="#4cc67a" stroke="#2a2a2a" stroke-width="0.6"/>
<circle cx="156.5" cy="1033.3" r="2.5" fill="#4cc67a" stroke="#2a2a2a" stroke-width="0.6"/>
<circle cx="156.5" cy="997.7" r="2.5" fill="#4cc67a" stroke="#2a2a2a" stroke-width="0.6"/>
<circle cx="158.8" cy="1022.8" r="2.5" fill="#4cc67a" stroke="#2a2a2a" stroke-width="0.6"/>
<circle cx="161.4" cy="970.7" r="2.5" fill="#4cc67a" stroke="#2a2a2a" stroke-width="0.6"/>
<circle cx="164.0" cy="977.1" r="2.5" fill="#4cc67a" stroke="#2a2a2a" stroke-width="0.6"/>
<circle cx="171.5" cy="1026.9" r="2.5" fill="#4cc67a" stroke="#2a2a2a" stroke-width="0.6"/>
<circle cx="172.1" cy="996.0" r="2.5" fill="#4cc67a" stroke="#2a2a2a" stroke-width="0.6"/>
<circle cx="171.5" cy="1008.2" r="2.5" fill="#4cc67a" stroke="#2a2a2a" stroke-width="0.6"/>
<circle cx="176.0" cy="1010.4" r="2.5" fill="#4cc67a" stroke="#2a2a2a" stroke-width="0.6"/>
<circle cx="176.4" cy="1014.6" r="2.5" fill="#4cc67a" stroke="#2a2a2a" stroke-width="0.6"/>
<circle cx="176.4" cy="1020.6" r="2.5" fill="#4cc67a" stroke="#2a2a2a" stroke-width="0.6"/>
<circle cx="177.9" cy="1006.5" r="2.5" fill="#4cc67a" stroke="#2a2a2a" stroke-width="0.6"/>
<circle cx="183.3" cy="1019.6" r="2.5" fill="#4cc67a" stroke="#2a2a2a" stroke-width="0.6"/>
<circle cx="188.2" cy="1021.1" r="2.5" fill="#4cc67a" stroke="#2a2a2a" stroke-width="0.6"/>
<circle cx="189.7" cy="994.3" r="2.5" fill="#4cc67a" stroke="#2a2a2a" stroke-width="0.6"/>
<circle cx="191.8" cy="1024.3" r="2.5" fill="#4cc67a" stroke="#2a2a2a" stroke-width="0.6"/>
<circle cx="192.9" cy="1003.9" r="2.5" fill="#4cc67a" stroke="#2a2a2a" stroke-width="0.6"/>
<circle cx="192.5" cy="1041.0" r="2.5" fill="#4cc67a" stroke="#2a2a2a" stroke-width="0.6"/>
<circle cx="190.0" cy="994.3" r="2.5" fill="#4cc67a" stroke="#2a2a2a" stroke-width="0.6"/>
<circle cx="192.1" cy="1003.9" r="2.5" fill="#4cc67a" stroke="#2a2a2a" stroke-width="0.6"/>
<circle cx="191.1" cy="1024.3" r="2.5" fill="#4cc67a" stroke="#2a2a2a" stroke-width="0.6"/>
<circle cx="192.1" cy="1041.4" r="2.5" fill="#4cc67a" stroke="#2a2a2a" stroke-width="0.6"/>
<circle cx="196.4" cy="1011.4" r="2.5" fill="#15924a" stroke="#2a2a2a" stroke-width="0.6"/>
<circle cx="196.4" cy="1016.8" r="2.5" fill="#15924a" stroke="#2a2a2a" stroke-width="0.6"/>
<circle cx="199.6" cy="1008.2" r="2.5" fill="#15924a" stroke="#2a2a2a" stroke-width="0.6"/>
<circle cx="200.1" cy="1042.1" r="2.5" fill="#15924a" stroke="#2a2a2a" stroke-width="0.6"/>
<circle cx="200.7" cy="1023.2" r="2.5" fill="#15924a" stroke="#2a2a2a" stroke-width="0.6"/>
<circle cx="205.0" cy="1021.7" r="2.5" fill="#15924a" stroke="#2a2a2a" stroke-width="0.6"/>
<circle cx="204.4" cy="1027.1" r="2.5" fill="#15924a" stroke="#2a2a2a" stroke-width="0.6"/>
<circle cx="209.7" cy="1035.4" r="2.5" fill="#15924a" stroke="#2a2a2a" stroke-width="0.6"/>
<circle cx="215.7" cy="1049.4" r="2.5" fill="#15924a" stroke="#2a2a2a" stroke-width="0.6"/>
<circle cx="216.1" cy="1005.4" r="2.5" fill="#15924a" stroke="#2a2a2a" stroke-width="0.6"/>
<circle cx="216.1" cy="1010.8" r="2.5" fill="#15924a" stroke="#2a2a2a" stroke-width="0.6"/>
<circle cx="216.1" cy="1018.3" r="2.5" fill="#15924a" stroke="#2a2a2a" stroke-width="0.6"/>
<circle cx="221.1" cy="1011.4" r="2.5" fill="#15924a" stroke="#2a2a2a" stroke-width="0.6"/>
<circle cx="222.1" cy="1016.1" r="2.5" fill="#15924a" stroke="#2a2a2a" stroke-width="0.6"/>
<circle cx="221.1" cy="1023.2" r="2.5" fill="#15924a" stroke="#2a2a2a" stroke-width="0.6"/>
<circle cx="229.0" cy="997.5" r="2.5" fill="#15924a" stroke="#2a2a2a" stroke-width="0.6"/>
<circle cx="231.8" cy="1014.6" r="2.5" fill="#15924a" stroke="#2a2a2a" stroke-width="0.6"/>
<circle cx="232.9" cy="1018.3" r="2.5" fill="#15924a" stroke="#2a2a2a" stroke-width="0.6"/>
<circle cx="236.7" cy="976.5" r="2.5" fill="#15924a" stroke="#2a2a2a" stroke-width="0.6"/>
<circle cx="236.5" cy="1024.7" r="2.5" fill="#15924a" stroke="#2a2a2a" stroke-width="0.6"/>
<circle cx="236.7" cy="1030.1" r="2.5" fill="#15924a" stroke="#2a2a2a" stroke-width="0.6"/>
<circle cx="240.4" cy="1017.4" r="2.5" fill="#15924a" stroke="#2a2a2a" stroke-width="0.6"/>
<circle cx="241.0" cy="1039.9" r="2.5" fill="#15924a" stroke="#2a2a2a" stroke-width="0.6"/>
<circle cx="243.6" cy="999.2" r="2.5" fill="#15924a" stroke="#2a2a2a" stroke-width="0.6"/>
<circle cx="244.0" cy="1016.1" r="2.5" fill="#15924a" stroke="#2a2a2a" stroke-width="0.6"/>
<circle cx="250.9" cy="992.8" r="2.5" fill="#15924a" stroke="#2a2a2a" stroke-width="0.6"/>
<circle cx="257.9" cy="1024.3" r="2.5" fill="#15924a" stroke="#2a2a2a" stroke-width="0.6"/>
<circle cx="265.6" cy="1029.6" r="2.5" fill="#ee6a22" stroke="#2a2a2a" stroke-width="0.6"/>
<circle cx="269.7" cy="1032.9" r="2.5" fill="#ee6a22" stroke="#2a2a2a" stroke-width="0.6"/>
<circle cx="271.0" cy="1003.9" r="2.5" fill="#ee6a22" stroke="#2a2a2a" stroke-width="0.6"/>
<circle cx="272.1" cy="1037.1" r="2.5" fill="#ee6a22" stroke="#2a2a2a" stroke-width="0.6"/>
<circle cx="275.3" cy="1020.4" r="2.5" fill="#ee6a22" stroke="#2a2a2a" stroke-width="0.6"/>
<circle cx="275.3" cy="1023.9" r="2.5" fill="#ee6a22" stroke="#2a2a2a" stroke-width="0.6"/>
<circle cx="278.5" cy="1027.9" r="2.5" fill="#ee6a22" stroke="#2a2a2a" stroke-width="0.6"/>
<circle cx="280.0" cy="1007.6" r="2.5" fill="#ee6a22" stroke="#2a2a2a" stroke-width="0.6"/>
<circle cx="282.1" cy="1022.8" r="2.5" fill="#ee6a22" stroke="#2a2a2a" stroke-width="0.6"/>
<circle cx="283.6" cy="1010.4" r="2.5" fill="#ee6a22" stroke="#2a2a2a" stroke-width="0.6"/>
<circle cx="284.9" cy="998.6" r="2.5" fill="#ee6a22" stroke="#2a2a2a" stroke-width="0.6"/>
<circle cx="284.9" cy="1020.6" r="2.5" fill="#ee6a22" stroke="#2a2a2a" stroke-width="0.6"/>
<circle cx="286.9" cy="1023.9" r="2.5" fill="#ee6a22" stroke="#2a2a2a" stroke-width="0.6"/>
<circle cx="287.5" cy="1003.9" r="2.5" fill="#ee6a22" stroke="#2a2a2a" stroke-width="0.6"/>
<circle cx="287.5" cy="1012.1" r="2.5" fill="#ee6a22" stroke="#2a2a2a" stroke-width="0.6"/>
<circle cx="287.5" cy="1028.1" r="2.5" fill="#ee6a22" stroke="#2a2a2a" stroke-width="0.6"/>
<circle cx="290.1" cy="1020.0" r="2.5" fill="#ee6a22" stroke="#2a2a2a" stroke-width="0.6"/>
<circle cx="290.1" cy="1039.3" r="2.5" fill="#ee6a22" stroke="#2a2a2a" stroke-width="0.6"/>
<circle cx="290.7" cy="1010.8" r="2.5" fill="#ee6a22" stroke="#2a2a2a" stroke-width="0.6"/>
<circle cx="293.5" cy="1012.1" r="2.5" fill="#ee6a22" stroke="#2a2a2a" stroke-width="0.6"/>
<circle cx="295.0" cy="1014.0" r="2.5" fill="#ee6a22" stroke="#2a2a2a" stroke-width="0.6"/>
<circle cx="299.9" cy="1017.2" r="2.5" fill="#ee6a22" stroke="#2a2a2a" stroke-width="0.6"/>
<circle cx="302.5" cy="1005.6" r="2.5" fill="#ee6a22" stroke="#2a2a2a" stroke-width="0.6"/>
<circle cx="305.1" cy="1023.6" r="2.5" fill="#ee6a22" stroke="#2a2a2a" stroke-width="0.6"/>
<circle cx="307.2" cy="1006.7" r="2.5" fill="#ee6a22" stroke="#2a2a2a" stroke-width="0.6"/>
<circle cx="313.6" cy="971.4" r="2.5" fill="#ee6a22" stroke="#2a2a2a" stroke-width="0.6"/>
<circle cx="317.9" cy="1033.5" r="2.5" fill="#ee6a22" stroke="#2a2a2a" stroke-width="0.6"/>
<circle cx="329.3" cy="1012.5" r="2.5" fill="#ee6a22" stroke="#2a2a2a" stroke-width="0.6"/>
<path d="M53.5,971 V1158.9 H335.1" fill="none" stroke="#1a1a1a" stroke-width="1.6"/>
<line x1="50.3" y1="1158.9" x2="53.5" y2="1158.9" stroke="#1a1a1a" stroke-width="1.6"/>
<text x="49.1" y="1164.3" font-size="15.8" text-anchor="end" fill="#1a1a1a" font-weight="normal"  >0</text>
<line x1="50.3" y1="1102.7" x2="53.5" y2="1102.7" stroke="#1a1a1a" stroke-width="1.6"/>
<text x="49.1" y="1108.1" font-size="15.8" text-anchor="end" fill="#1a1a1a" font-weight="normal"  >0.4</text>
<line x1="50.3" y1="1046.4" x2="53.5" y2="1046.4" stroke="#1a1a1a" stroke-width="1.6"/>
<text x="49.1" y="1051.8" font-size="15.8" text-anchor="end" fill="#1a1a1a" font-weight="normal"  >0.8</text>
<line x1="50.3" y1="990.2" x2="53.5" y2="990.2" stroke="#1a1a1a" stroke-width="1.6"/>
<text x="49.1" y="995.6" font-size="15.8" text-anchor="end" fill="#1a1a1a" font-weight="normal"  >1.2</text>
<line x1="53.5" y1="1158.9" x2="53.5" y2="1162.9" stroke="#1a1a1a" stroke-width="1.6"/>
<text x="53.5" y="1178.5" font-size="15.8" text-anchor="middle" fill="#1a1a1a" font-weight="normal"  >0</text>
<line x1="123.8" y1="1158.9" x2="123.8" y2="1162.9" stroke="#1a1a1a" stroke-width="1.6"/>
<text x="123.8" y="1178.5" font-size="15.8" text-anchor="middle" fill="#1a1a1a" font-weight="normal"  >25</text>
<line x1="194.0" y1="1158.9" x2="194.0" y2="1162.9" stroke="#1a1a1a" stroke-width="1.6"/>
<text x="194.0" y="1178.5" font-size="15.8" text-anchor="middle" fill="#1a1a1a" font-weight="normal"  >50</text>
<line x1="264.2" y1="1158.9" x2="264.2" y2="1162.9" stroke="#1a1a1a" stroke-width="1.6"/>
<text x="264.2" y="1178.5" font-size="15.8" text-anchor="middle" fill="#1a1a1a" font-weight="normal"  >75</text>
<line x1="334.5" y1="1158.9" x2="334.5" y2="1162.9" stroke="#1a1a1a" stroke-width="1.6"/>
<text x="334.5" y="1178.5" font-size="15.8" text-anchor="middle" fill="#1a1a1a" font-weight="normal"  >100</text>
<text x="116.0" y="1198.5" font-size="15.8" text-anchor="start" fill="#1a1a1a" font-weight="normal" textLength="158.5" lengthAdjust="spacingAndGlyphs" >Position of fission (%)</text>
<g transform="translate(13.6,1063) rotate(-90)"><text x="0" y="0" font-size="15.8" text-anchor="middle" fill="#1a1a1a" textLength="153.6" lengthAdjust="spacingAndGlyphs">TMRE intensity (<tspan font-style="italic">F</tspan>/<tspan font-style="italic">F</tspan><tspan font-size="10.7" dy="3.6">0</tspan><tspan dy="-3.6">)</tspan></text></g>
<text x="88.5" y="991.0" font-size="21" text-anchor="middle" fill="#1a1a1a" font-weight="normal" textLength="25.5" lengthAdjust="spacingAndGlyphs" >***</text>
<line x1="74" y1="987.2" x2="102.4" y2="987.2" stroke="#1a1a1a" stroke-width="1.1"/>
</g>
<g id="panel-i">
<text x="357.8" y="967.8" font-size="22.5" text-anchor="start" fill="#000" font-weight="bold" stroke="#000" stroke-width="0.7">i</text>
<rect x="409" y="1057.5" width="280.5" height="21.3" fill="#c5daee"/>
<g transform="translate(420.0,1137.6) scale(1.000,1.000)"><path d="M5,2.8 C8,2.8 9.8,5.2 11.4,5.8 C13.6,6.2 15.6,1.4 26,0.6 C38,-0.2 50,2.4 50,7.6 C50,12.8 40,14.8 29,14.4 C18,14 14.4,9.8 11.6,9.9 C9.8,10.2 8.4,13.4 5,13.4 C1.8,13.4 0,11 0,8.1 C0,5.2 1.8,2.8 5,2.8 Z" fill="#e9bd9a" stroke="none" stroke-width="0.8"/><path d="M5,2.8 C8,2.8 9.8,5.2 11.4,5.8 L11.6,9.9 C9.8,10.2 8.4,13.4 5,13.4 C1.8,13.4 0,11 0,8.1 C0,5.2 1.8,2.8 5,2.8 Z" fill="#c9782c"/><path d="M2.6,10 C2.2,5.4 5.6,5 5.8,8 C6,10.8 8.4,10 10.2,8.4 C12,7.2 13.2,8.4 14.2,10 C14.8,3.6 17.8,3.4 18.2,8.6 C18.6,13 20.8,12.8 21,8.6 C21.2,3.2 24,3 24.4,8.6 C24.8,13.2 27,13 27.2,8.6 C27.4,3.2 30.2,3 30.6,8.6 C31,13.2 33.2,13 33.4,8.6 C33.6,3.2 36.4,3 36.8,8.6 C37.2,13 39.4,12.8 39.6,8.6 C39.8,3.8 42.4,3.6 42.8,8.2 C43.2,11.8 45.6,11.6 46.6,8.6" fill="none" stroke="#fff" stroke-opacity="0.85" stroke-width="1.15" stroke-linecap="round" stroke-linejoin="round"/></g>
<g transform="translate(488.5,1138.0) scale(1.030,0.960)"><path d="M11,0.8 C18,0.8 20.4,5 25,5 C29.6,5 32,0.8 39,0.8 C46,0.8 50,3.8 50,7.7 C50,11.6 46,14.6 39,14.6 C32,14.6 29.6,10.6 25,10.6 C20.4,10.6 18,14.6 11,14.6 C4,14.6 0,11.6 0,7.7 C0,3.8 4,0.8 11,0.8 Z" fill="#86c09c" stroke="none" stroke-width="0.8"/><path d="M11,0.8 C18,0.8 20.4,5 25,5 L25,10.6 C20.4,10.6 18,14.6 11,14.6 C4,14.6 0,11.6 0,7.7 C0,3.8 4,0.8 11,0.8 Z" fill="#1a7a3e"/><path d="M3.2,9.6 C3,3.6 6.4,3.4 6.8,8.6 C7.2,13 9.4,12.8 9.6,8.6 C9.8,3.2 12.6,3 13,8.6 C13.4,13 15.6,12.8 15.8,8.6 C16,4 18.6,4.4 19.6,7 C21,9.4 23,8.2 25,7.8 C27,7.4 29,9.4 30.2,8.2 C31,3.6 33.6,3.2 34,8.6 C34.4,13 36.6,12.8 36.8,8.6 C37,3.2 39.8,3 40.2,8.6 C40.6,13 42.8,12.8 43,8.6 C43.2,3.8 46.2,3.6 46.8,9.4" fill="none" stroke="#fff" stroke-opacity="0.85" stroke-width="1.15" stroke-linecap="round" stroke-linejoin="round"/></g>
<g transform="translate(1171.5,0) scale(-1,1)"><g transform="translate(560.0,1138.0) scale(1.030,0.960)"><path d="M11,0.8 C18,0.8 20.4,5 25,5 C29.6,5 32,0.8 39,0.8 C46,0.8 50,3.8 50,7.7 C50,11.6 46,14.6 39,14.6 C32,14.6 29.6,10.6 25,10.6 C20.4,10.6 18,14.6 11,14.6 C4,14.6 0,11.6 0,7.7 C0,3.8 4,0.8 11,0.8 Z" fill="#86c09c" stroke="none" stroke-width="0.8"/><path d="M11,0.8 C18,0.8 20.4,5 25,5 L25,10.6 C20.4,10.6 18,14.6 11,14.6 C4,14.6 0,11.6 0,7.7 C0,3.8 4,0.8 11,0.8 Z" fill="#1a7a3e"/><path d="M3.2,9.6 C3,3.6 6.4,3.4 6.8,8.6 C7.2,13 9.4,12.8 9.6,8.6 C9.8,3.2 12.6,3 13,8.6 C13.4,13 15.6,12.8 15.8,8.6 C16,4 18.6,4.4 19.6,7 C21,9.4 23,8.2 25,7.8 C27,7.4 29,9.4 30.2,8.2 C31,3.6 33.6,3.2 34,8.6 C34.4,13 36.6,12.8 36.8,8.6 C37,3.2 39.8,3 40.2,8.6 C40.6,13 42.8,12.8 43,8.6 C43.2,3.8 46.2,3.6 46.8,9.4" fill="none" stroke="#fff" stroke-opacity="0.85" stroke-width="1.15" stroke-linecap="round" stroke-linejoin="round"/></g></g>
<g transform="translate(632.5,1137.6) scale(0.980,1.000)"><path d="M5,2.8 C8,2.8 9.8,5.2 11.4,5.8 C13.6,6.2 15.6,1.4 26,0.6 C38,-0.2 50,2.4 50,7.6 C50,12.8 40,14.8 29,14.4 C18,14 14.4,9.8 11.6,9.9 C9.8,10.2 8.4,13.4 5,13.4 C1.8,13.4 0,11 0,8.1 C0,5.2 1.8,2.8 5,2.8 Z" fill="#c9782c" stroke="none" stroke-width="0.8"/><path d="M5,2.8 C8,2.8 9.8,5.2 11.4,5.8 L11.6,9.9 C9.8,10.2 8.4,13.4 5,13.4 C1.8,13.4 0,11 0,8.1 C0,5.2 1.8,2.8 5,2.8 Z" fill="#e9bd9a"/><path d="M2.6,10 C2.2,5.4 5.6,5 5.8,8 C6,10.8 8.4,10 10.2,8.4 C12,7.2 13.2,8.4 14.2,10 C14.8,3.6 17.8,3.4 18.2,8.6 C18.6,13 20.8,12.8 21,8.6 C21.2,3.2 24,3 24.4,8.6 C24.8,13.2 27,13 27.2,8.6 C27.4,3.2 30.2,3 30.6,8.6 C31,13.2 33.2,13 33.4,8.6 C33.6,3.2 36.4,3 36.8,8.6 C37.2,13 39.4,12.8 39.6,8.6 C39.8,3.8 42.4,3.6 42.8,8.2 C43.2,11.8 45.6,11.6 46.6,8.6" fill="none" stroke="#fff" stroke-opacity="0.85" stroke-width="1.15" stroke-linecap="round" stroke-linejoin="round"/></g>
<line x1="440.5" y1="971.2" x2="440.5" y2="1083.2" stroke="#1a1a1a" stroke-width="1.5"/>
<rect x="422.5" y="1026.2" width="36.7" height="16.8" fill="#fb9f80" stroke="#1a1a1a" stroke-width="1.2"/>
<line x1="422.5" y1="1033" x2="459.2" y2="1033" stroke="#1a1a1a" stroke-width="1.4"/>
<line x1="513.4" y1="1042.7" x2="513.4" y2="1105.2" stroke="#1a1a1a" stroke-width="1.5"/>
<rect x="494.6" y="1062.4" width="37.2" height="22.4" fill="#4cc67a" stroke="#1a1a1a" stroke-width="1.2"/>
<line x1="494.6" y1="1074" x2="531.8" y2="1074" stroke="#1a1a1a" stroke-width="1.4"/>
<line x1="585.7" y1="1044.4" x2="585.7" y2="1105.2" stroke="#1a1a1a" stroke-width="1.5"/>
<rect x="566.3" y="1064.1" width="37.4" height="11.5" fill="#15924a" stroke="#1a1a1a" stroke-width="1.2"/>
<line x1="566.3" y1="1069.7" x2="603.7" y2="1069.7" stroke="#1a1a1a" stroke-width="1.4"/>
<line x1="658" y1="1046" x2="658" y2="1078.9" stroke="#1a1a1a" stroke-width="1.5"/>
<rect x="639.9" y="1061.5" width="36.5" height="10.1" fill="#ee6a22" stroke="#1a1a1a" stroke-width="1.2"/>
<line x1="639.9" y1="1065.7" x2="676.4" y2="1065.7" stroke="#1a1a1a" stroke-width="1.4"/>
<circle cx="427.5" cy="970.8" r="2.5" fill="#fb9f80" stroke="#2a2a2a" stroke-width="0.6"/>
<circle cx="429.2" cy="990.0" r="2.5" fill="#fb9f80" stroke="#2a2a2a" stroke-width="0.6"/>
<circle cx="455.0" cy="1006.2" r="2.5" fill="#fb9f80" stroke="#2a2a2a" stroke-width="0.6"/>
<circle cx="446.2" cy="1013.2" r="2.5" fill="#fb9f80" stroke="#2a2a2a" stroke-width="0.6"/>
<circle cx="465.0" cy="1023.8" r="2.5" fill="#fb9f80" stroke="#2a2a2a" stroke-width="0.6"/>
<circle cx="414.5" cy="1051.2" r="2.5" fill="#fb9f80" stroke="#2a2a2a" stroke-width="0.6"/>
<circle cx="419.2" cy="1050.5" r="2.5" fill="#fb9f80" stroke="#2a2a2a" stroke-width="0.6"/>
<circle cx="418.8" cy="1031.8" r="2.5" fill="#fb9f80" stroke="#2a2a2a" stroke-width="0.6"/>
<circle cx="425.0" cy="1032.5" r="2.5" fill="#fb9f80" stroke="#2a2a2a" stroke-width="0.6"/>
<circle cx="425.0" cy="1041.2" r="2.5" fill="#fb9f80" stroke="#2a2a2a" stroke-width="0.6"/>
<circle cx="433.8" cy="1028.8" r="2.5" fill="#fb9f80" stroke="#2a2a2a" stroke-width="0.6"/>
<circle cx="436.2" cy="1036.8" r="2.5" fill="#fb9f80" stroke="#2a2a2a" stroke-width="0.6"/>
<circle cx="437.5" cy="1041.2" r="2.5" fill="#fb9f80" stroke="#2a2a2a" stroke-width="0.6"/>
<circle cx="440.0" cy="1028.8" r="2.5" fill="#fb9f80" stroke="#2a2a2a" stroke-width="0.6"/>
<circle cx="440.8" cy="1043.0" r="2.5" fill="#fb9f80" stroke="#2a2a2a" stroke-width="0.6"/>
<circle cx="445.0" cy="1030.5" r="2.5" fill="#fb9f80" stroke="#2a2a2a" stroke-width="0.6"/>
<circle cx="449.2" cy="1026.8" r="2.5" fill="#fb9f80" stroke="#2a2a2a" stroke-width="0.6"/>
<circle cx="449.5" cy="1045.8" r="2.5" fill="#fb9f80" stroke="#2a2a2a" stroke-width="0.6"/>
<circle cx="453.8" cy="1024.5" r="2.5" fill="#fb9f80" stroke="#2a2a2a" stroke-width="0.6"/>
<circle cx="453.8" cy="1031.8" r="2.5" fill="#fb9f80" stroke="#2a2a2a" stroke-width="0.6"/>
<circle cx="453.8" cy="1048.2" r="2.5" fill="#fb9f80" stroke="#2a2a2a" stroke-width="0.6"/>
<circle cx="457.5" cy="1025.8" r="2.5" fill="#fb9f80" stroke="#2a2a2a" stroke-width="0.6"/>
<circle cx="458.0" cy="1040.8" r="2.5" fill="#fb9f80" stroke="#2a2a2a" stroke-width="0.6"/>
<circle cx="460.0" cy="1037.0" r="2.5" fill="#fb9f80" stroke="#2a2a2a" stroke-width="0.6"/>
<circle cx="464.5" cy="1037.5" r="2.5" fill="#fb9f80" stroke="#2a2a2a" stroke-width="0.6"/>
<circle cx="463.8" cy="1041.2" r="2.5" fill="#fb9f80" stroke="#2a2a2a" stroke-width="0.6"/>
<circle cx="450.8" cy="1063.0" r="2.5" fill="#fb9f80" stroke="#2a2a2a" stroke-width="0.6"/>
<circle cx="448.8" cy="1083.2" r="2.5" fill="#fb9f80" stroke="#2a2a2a" stroke-width="0.6"/>
<circle cx="507.8" cy="1042.1" r="2.5" fill="#4cc67a" stroke="#2a2a2a" stroke-width="0.6"/>
<circle cx="500.2" cy="1059.2" r="2.5" fill="#4cc67a" stroke="#2a2a2a" stroke-width="0.6"/>
<circle cx="496.3" cy="1070.7" r="2.5" fill="#4cc67a" stroke="#2a2a2a" stroke-width="0.6"/>
<circle cx="506.8" cy="1064.7" r="2.5" fill="#4cc67a" stroke="#2a2a2a" stroke-width="0.6"/>
<circle cx="511.7" cy="1070.7" r="2.5" fill="#4cc67a" stroke="#2a2a2a" stroke-width="0.6"/>
<circle cx="529.2" cy="1055.9" r="2.5" fill="#4cc67a" stroke="#2a2a2a" stroke-width="0.6"/>
<circle cx="530.8" cy="1060.1" r="2.5" fill="#4cc67a" stroke="#2a2a2a" stroke-width="0.6"/>
<circle cx="535.7" cy="1061.5" r="2.5" fill="#4cc67a" stroke="#2a2a2a" stroke-width="0.6"/>
<circle cx="542.3" cy="1059.2" r="2.5" fill="#4cc67a" stroke="#2a2a2a" stroke-width="0.6"/>
<circle cx="526.5" cy="1066.7" r="2.5" fill="#4cc67a" stroke="#2a2a2a" stroke-width="0.6"/>
<circle cx="530.8" cy="1067.4" r="2.5" fill="#4cc67a" stroke="#2a2a2a" stroke-width="0.6"/>
<circle cx="534.1" cy="1073.3" r="2.5" fill="#4cc67a" stroke="#2a2a2a" stroke-width="0.6"/>
<circle cx="540.0" cy="1069.0" r="2.5" fill="#4cc67a" stroke="#2a2a2a" stroke-width="0.6"/>
<circle cx="548.9" cy="1073.0" r="2.5" fill="#4cc67a" stroke="#2a2a2a" stroke-width="0.6"/>
<circle cx="522.6" cy="1077.2" r="2.5" fill="#4cc67a" stroke="#2a2a2a" stroke-width="0.6"/>
<circle cx="527.5" cy="1076.6" r="2.5" fill="#4cc67a" stroke="#2a2a2a" stroke-width="0.6"/>
<circle cx="529.2" cy="1080.5" r="2.5" fill="#4cc67a" stroke="#2a2a2a" stroke-width="0.6"/>
<circle cx="534.7" cy="1079.5" r="2.5" fill="#4cc67a" stroke="#2a2a2a" stroke-width="0.6"/>
<circle cx="508.8" cy="1087.7" r="2.5" fill="#4cc67a" stroke="#2a2a2a" stroke-width="0.6"/>
<circle cx="518.6" cy="1088.7" r="2.5" fill="#4cc67a" stroke="#2a2a2a" stroke-width="0.6"/>
<circle cx="522.6" cy="1093.7" r="2.5" fill="#4cc67a" stroke="#2a2a2a" stroke-width="0.6"/>
<circle cx="518.3" cy="1096.9" r="2.5" fill="#4cc67a" stroke="#2a2a2a" stroke-width="0.6"/>
<circle cx="521.9" cy="1104.2" r="2.5" fill="#4cc67a" stroke="#2a2a2a" stroke-width="0.6"/>
<circle cx="541.3" cy="1094.6" r="2.5" fill="#4cc67a" stroke="#2a2a2a" stroke-width="0.6"/>
<circle cx="569.6" cy="1044.4" r="2.5" fill="#15924a" stroke="#2a2a2a" stroke-width="0.6"/>
<circle cx="558.1" cy="1054.2" r="2.5" fill="#15924a" stroke="#2a2a2a" stroke-width="0.6"/>
<circle cx="571.2" cy="1053.2" r="2.5" fill="#15924a" stroke="#2a2a2a" stroke-width="0.6"/>
<circle cx="575.8" cy="1052.6" r="2.5" fill="#15924a" stroke="#2a2a2a" stroke-width="0.6"/>
<circle cx="593.2" cy="1058.2" r="2.5" fill="#15924a" stroke="#2a2a2a" stroke-width="0.6"/>
<circle cx="563.7" cy="1062.4" r="2.5" fill="#15924a" stroke="#2a2a2a" stroke-width="0.6"/>
<circle cx="571.2" cy="1064.1" r="2.5" fill="#15924a" stroke="#2a2a2a" stroke-width="0.6"/>
<circle cx="551.5" cy="1066.7" r="2.5" fill="#15924a" stroke="#2a2a2a" stroke-width="0.6"/>
<circle cx="568.6" cy="1068.0" r="2.5" fill="#15924a" stroke="#2a2a2a" stroke-width="0.6"/>
<circle cx="574.5" cy="1068.4" r="2.5" fill="#15924a" stroke="#2a2a2a" stroke-width="0.6"/>
<circle cx="588.3" cy="1070.7" r="2.5" fill="#15924a" stroke="#2a2a2a" stroke-width="0.6"/>
<circle cx="600.5" cy="1067.4" r="2.5" fill="#15924a" stroke="#2a2a2a" stroke-width="0.6"/>
<circle cx="603.7" cy="1063.4" r="2.5" fill="#15924a" stroke="#2a2a2a" stroke-width="0.6"/>
<circle cx="559.4" cy="1071.3" r="2.5" fill="#15924a" stroke="#2a2a2a" stroke-width="0.6"/>
<circle cx="557.7" cy="1075.6" r="2.5" fill="#15924a" stroke="#2a2a2a" stroke-width="0.6"/>
<circle cx="566.9" cy="1071.6" r="2.5" fill="#15924a" stroke="#2a2a2a" stroke-width="0.6"/>
<circle cx="573.5" cy="1073.0" r="2.5" fill="#15924a" stroke="#2a2a2a" stroke-width="0.6"/>
<circle cx="577.8" cy="1074.6" r="2.5" fill="#15924a" stroke="#2a2a2a" stroke-width="0.6"/>
<circle cx="582.7" cy="1075.6" r="2.5" fill="#15924a" stroke="#2a2a2a" stroke-width="0.6"/>
<circle cx="590.6" cy="1074.6" r="2.5" fill="#15924a" stroke="#2a2a2a" stroke-width="0.6"/>
<circle cx="576.8" cy="1083.1" r="2.5" fill="#15924a" stroke="#2a2a2a" stroke-width="0.6"/>
<circle cx="592.2" cy="1087.7" r="2.5" fill="#15924a" stroke="#2a2a2a" stroke-width="0.6"/>
<circle cx="581.1" cy="1104.5" r="2.5" fill="#15924a" stroke="#2a2a2a" stroke-width="0.6"/>
<circle cx="635.3" cy="1046.0" r="2.5" fill="#ee6a22" stroke="#2a2a2a" stroke-width="0.6"/>
<circle cx="645.8" cy="1050.9" r="2.5" fill="#ee6a22" stroke="#2a2a2a" stroke-width="0.6"/>
<circle cx="657.3" cy="1051.6" r="2.5" fill="#ee6a22" stroke="#2a2a2a" stroke-width="0.6"/>
<circle cx="674.4" cy="1051.9" r="2.5" fill="#ee6a22" stroke="#2a2a2a" stroke-width="0.6"/>
<circle cx="682.9" cy="1058.5" r="2.5" fill="#ee6a22" stroke="#2a2a2a" stroke-width="0.6"/>
<circle cx="634.3" cy="1061.8" r="2.5" fill="#ee6a22" stroke="#2a2a2a" stroke-width="0.6"/>
<circle cx="640.9" cy="1061.5" r="2.5" fill="#ee6a22" stroke="#2a2a2a" stroke-width="0.6"/>
<circle cx="645.2" cy="1063.4" r="2.5" fill="#ee6a22" stroke="#2a2a2a" stroke-width="0.6"/>
<circle cx="649.1" cy="1062.4" r="2.5" fill="#ee6a22" stroke="#2a2a2a" stroke-width="0.6"/>
<circle cx="653.4" cy="1064.1" r="2.5" fill="#ee6a22" stroke="#2a2a2a" stroke-width="0.6"/>
<circle cx="658.0" cy="1062.4" r="2.5" fill="#ee6a22" stroke="#2a2a2a" stroke-width="0.6"/>
<circle cx="662.9" cy="1060.8" r="2.5" fill="#ee6a22" stroke="#2a2a2a" stroke-width="0.6"/>
<circle cx="666.2" cy="1063.4" r="2.5" fill="#ee6a22" stroke="#2a2a2a" stroke-width="0.6"/>
<circle cx="671.1" cy="1064.7" r="2.5" fill="#ee6a22" stroke="#2a2a2a" stroke-width="0.6"/>
<circle cx="676.0" cy="1063.4" r="2.5" fill="#ee6a22" stroke="#2a2a2a" stroke-width="0.6"/>
<circle cx="681.0" cy="1061.5" r="2.5" fill="#ee6a22" stroke="#2a2a2a" stroke-width="0.6"/>
<circle cx="635.3" cy="1070.0" r="2.5" fill="#ee6a22" stroke="#2a2a2a" stroke-width="0.6"/>
<circle cx="640.9" cy="1067.4" r="2.5" fill="#ee6a22" stroke="#2a2a2a" stroke-width="0.6"/>
<circle cx="645.8" cy="1069.0" r="2.5" fill="#ee6a22" stroke="#2a2a2a" stroke-width="0.6"/>
<circle cx="649.8" cy="1067.4" r="2.5" fill="#ee6a22" stroke="#2a2a2a" stroke-width="0.6"/>
<circle cx="654.7" cy="1068.0" r="2.5" fill="#ee6a22" stroke="#2a2a2a" stroke-width="0.6"/>
<circle cx="659.6" cy="1067.4" r="2.5" fill="#ee6a22" stroke="#2a2a2a" stroke-width="0.6"/>
<circle cx="666.2" cy="1069.7" r="2.5" fill="#ee6a22" stroke="#2a2a2a" stroke-width="0.6"/>
<circle cx="671.1" cy="1068.4" r="2.5" fill="#ee6a22" stroke="#2a2a2a" stroke-width="0.6"/>
<circle cx="639.9" cy="1074.9" r="2.5" fill="#ee6a22" stroke="#2a2a2a" stroke-width="0.6"/>
<circle cx="645.8" cy="1072.3" r="2.5" fill="#ee6a22" stroke="#2a2a2a" stroke-width="0.6"/>
<circle cx="650.7" cy="1077.9" r="2.5" fill="#ee6a22" stroke="#2a2a2a" stroke-width="0.6"/>
<circle cx="671.1" cy="1073.3" r="2.5" fill="#ee6a22" stroke="#2a2a2a" stroke-width="0.6"/>
<circle cx="673.7" cy="1076.2" r="2.5" fill="#ee6a22" stroke="#2a2a2a" stroke-width="0.6"/>
<circle cx="680.3" cy="1073.9" r="2.5" fill="#ee6a22" stroke="#2a2a2a" stroke-width="0.6"/>
<path d="M409,970.7 V1158.9 H689.6" fill="none" stroke="#1a1a1a" stroke-width="1.6"/>
<line x1="405" y1="1158.9" x2="409" y2="1158.9" stroke="#1a1a1a" stroke-width="1.6"/>
<text x="402.4" y="1164.3" font-size="15.8" text-anchor="end" fill="#1a1a1a" font-weight="normal"  >0</text>
<line x1="405" y1="1113.6" x2="409" y2="1113.6" stroke="#1a1a1a" stroke-width="1.6"/>
<text x="402.4" y="1119.0" font-size="15.8" text-anchor="end" fill="#1a1a1a" font-weight="normal"  >0.5</text>
<line x1="405" y1="1068.2" x2="409" y2="1068.2" stroke="#1a1a1a" stroke-width="1.6"/>
<text x="402.4" y="1073.6" font-size="15.8" text-anchor="end" fill="#1a1a1a" font-weight="normal"  >1.0</text>
<line x1="405" y1="1022.9" x2="409" y2="1022.9" stroke="#1a1a1a" stroke-width="1.6"/>
<text x="402.4" y="1028.3" font-size="15.8" text-anchor="end" fill="#1a1a1a" font-weight="normal"  >1.5</text>
<line x1="405" y1="977.5" x2="409" y2="977.5" stroke="#1a1a1a" stroke-width="1.6"/>
<text x="402.4" y="982.9" font-size="15.8" text-anchor="end" fill="#1a1a1a" font-weight="normal"  >2.0</text>
<line x1="409.0" y1="1158.9" x2="409.0" y2="1162.9" stroke="#1a1a1a" stroke-width="1.6"/>
<text x="409.0" y="1178.5" font-size="15.8" text-anchor="middle" fill="#1a1a1a" font-weight="normal"  >0</text>
<line x1="479.0" y1="1158.9" x2="479.0" y2="1162.9" stroke="#1a1a1a" stroke-width="1.6"/>
<text x="479.0" y="1178.5" font-size="15.8" text-anchor="middle" fill="#1a1a1a" font-weight="normal"  >25</text>
<line x1="549.0" y1="1158.9" x2="549.0" y2="1162.9" stroke="#1a1a1a" stroke-width="1.6"/>
<text x="549.0" y="1178.5" font-size="15.8" text-anchor="middle" fill="#1a1a1a" font-weight="normal"  >50</text>
<line x1="619.0" y1="1158.9" x2="619.0" y2="1162.9" stroke="#1a1a1a" stroke-width="1.6"/>
<text x="619.0" y="1178.5" font-size="15.8" text-anchor="middle" fill="#1a1a1a" font-weight="normal"  >75</text>
<line x1="689.0" y1="1158.9" x2="689.0" y2="1162.9" stroke="#1a1a1a" stroke-width="1.6"/>
<text x="689.0" y="1178.5" font-size="15.8" text-anchor="middle" fill="#1a1a1a" font-weight="normal"  >100</text>
<text x="467.0" y="1198.5" font-size="15.8" text-anchor="start" fill="#1a1a1a" font-weight="normal" textLength="160.5" lengthAdjust="spacingAndGlyphs" >Position of fission (%)</text>
<g transform="translate(368.4,1067.8) rotate(-90)"><text x="0" y="0" font-size="15.8" text-anchor="middle" fill="#1a1a1a" textLength="175.5" lengthAdjust="spacingAndGlyphs">MitoSOX intensity (<tspan font-style="italic">F</tspan>/<tspan font-style="italic">F</tspan><tspan font-size="10.7" dy="3.6">0</tspan><tspan dy="-3.6">)</tspan></text></g>
<text x="441.2" y="968.8" font-size="21" text-anchor="middle" fill="#1a1a1a" font-weight="normal" textLength="25.5" lengthAdjust="spacingAndGlyphs" >***</text>
<line x1="427" y1="965.2" x2="455" y2="965.2" stroke="#1a1a1a" stroke-width="1.1"/>
<text x="591.9" y="968.5" font-size="15.8" text-anchor="start" fill="#1a1a1a" font-weight="normal" textLength="8.6" lengthAdjust="spacingAndGlyphs" >0</text>
<rect x="603.8" y="956.6" width="58.8" height="12.6" fill="url(#jetbar)"/>
<text x="665.0" y="968.5" font-size="15.8" text-anchor="start" fill="#1a1a1a" font-weight="normal" textLength="26.0" lengthAdjust="spacingAndGlyphs" >255</text>
</g>
</svg>
</body></html>
